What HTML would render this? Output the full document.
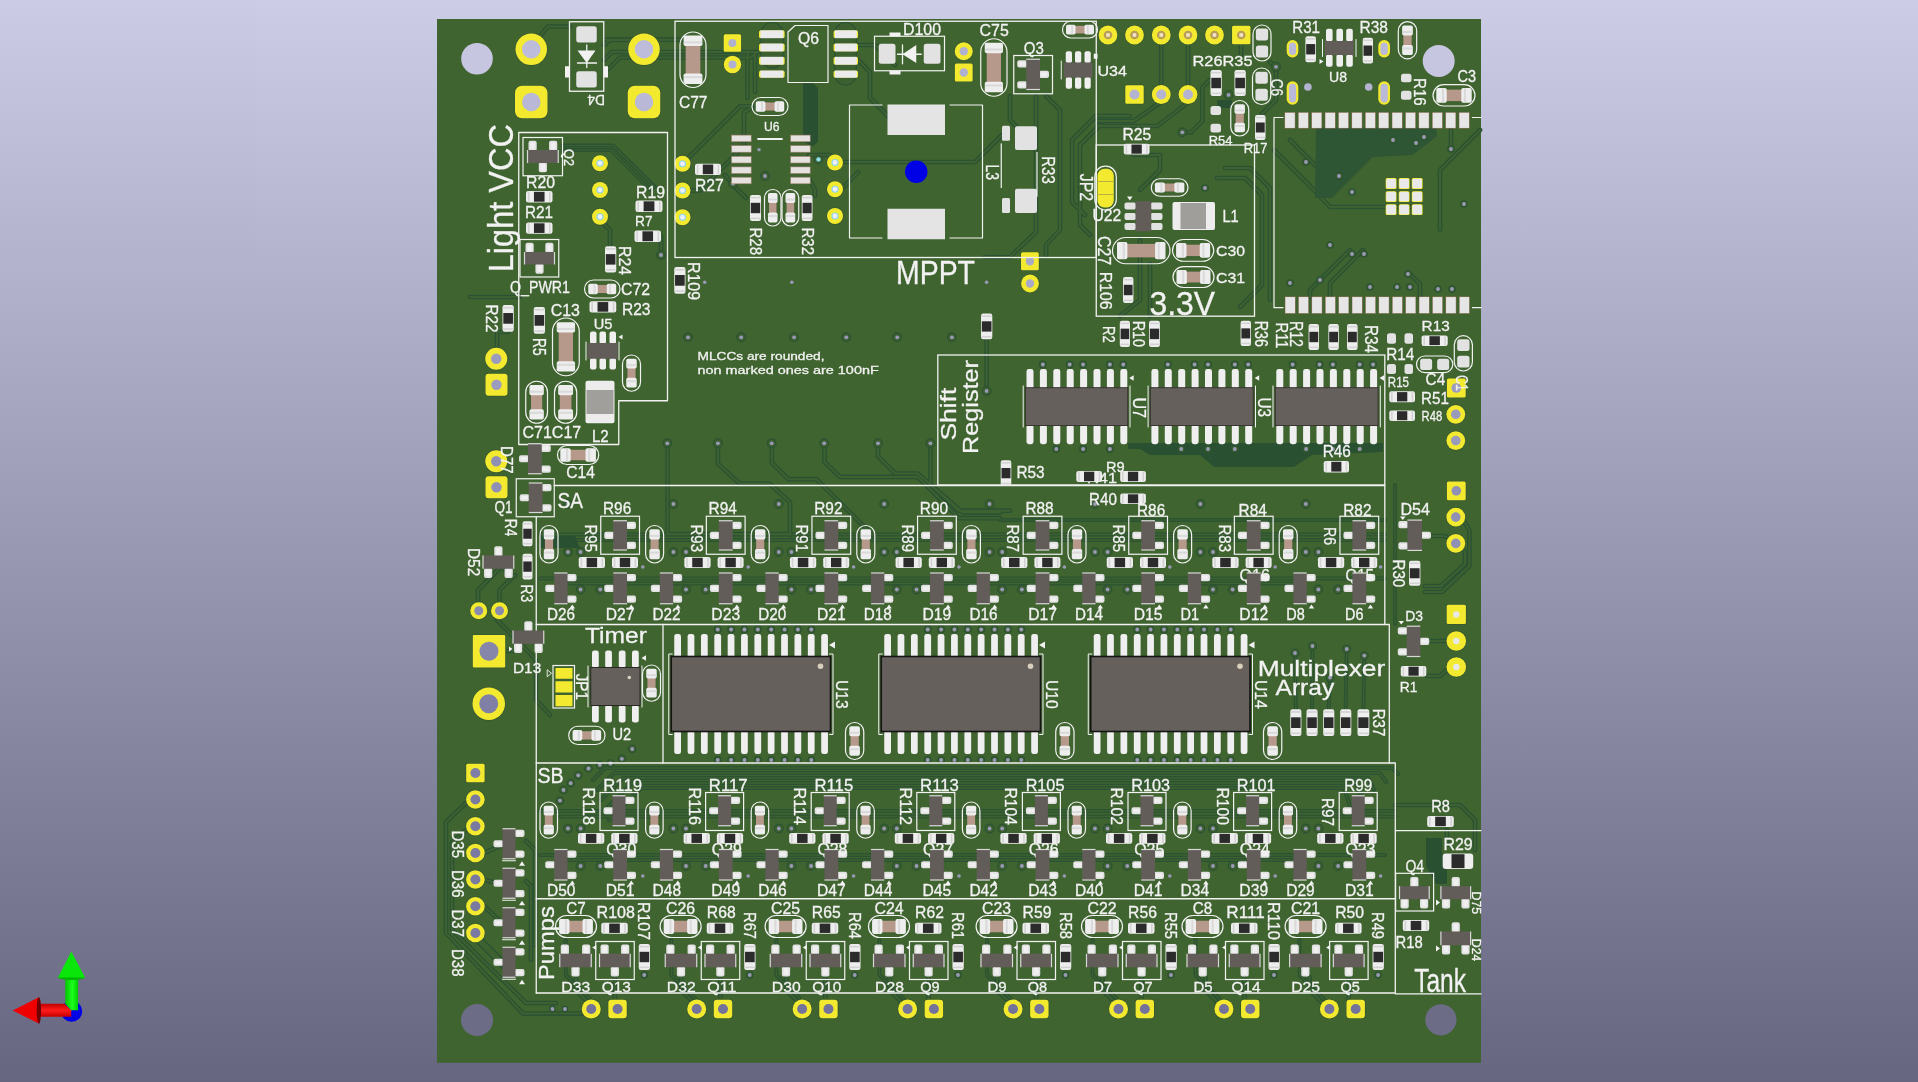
<!DOCTYPE html><html><head><meta charset="utf-8"><title>PCB 3D view</title>
<style>html,body{margin:0;padding:0;overflow:hidden;background:#9999b3}svg{display:block;will-change:transform;opacity:0.9999}text{font-family:"Liberation Sans",sans-serif;fill:#f2f2f2;stroke:#f2f2f2;stroke-width:0.3px}</style></head><body>
<svg width="1918" height="1082" viewBox="0 0 1918 1082">
<defs><linearGradient id="bg" x1="0" y1="0" x2="0" y2="1"><stop offset="0" stop-color="#ccccE6"/><stop offset="1" stop-color="#666680"/></linearGradient></defs>
<rect width="1918" height="1082" fill="url(#bg)"/>
<rect x="437" y="19" width="1044" height="1043.8" fill="#406430"/>
<g><path d="M667.6 443.7L667.6 534L790 534M717.9 443.7L717.9 463.8L739.5 483.5L769.5 483.5L790 502.3L790 535M771.9 443.7L771.9 462.8L788.3 479.2L816.4 479.2L872.7 535.1M824.5 442.8L824.5 462L839.9 476.9L917.8 476.9L959 518.2L1000 518.2M878 442.8L878 456.3L895.3 473.5L917.8 473.5L962.8 512.6L1000 512.6M930.5 442.8L930.5 484.4L959 510.7L1010 510.7M986.6 339L986.6 391M605.3 39.7L682.6 39.7M608 69.4L620 57.5L751 57.5L757 52M858 45L875 45L895 65M858 60L870 72L870 98L890 118M540 36L548 26.5L570 26.5M604 45L610 40L630 40M604 60L612 52L640 52L668 52L760 52M603 223L610 230L610 246M661 236L661 252M682.5 163.75L740 106.25L752 106.25M690 190.5L700 190.5L744 146L744 112L752 108M747.5 52.5L747.5 98M755 52.5L755 92M842 162L975 162L1002 135M842 189L858 172M725 175L735 187L746 198M810 180L815 190L815 196M809 155L830 155L836 160M1010 96L1010 120L1016 126M1036 96L1036 232L1010 257L985 257M1046 96L1060 110L1060 230L1046 245L1046 256M1072 140L1096 116M1085 215L1072 202L1072 140L1096 116L1130 116M1090 235L1080 225L1080 145L1100 125M1161.25 44L1161.25 85M1188 44L1188 85M1161 102L1133.7 121L1097 121M1188.6 102L1157.4 126L1097 126M1209.8 80L1202.3 87.4L1202.3 121L1191 132.3L1182.3 132.3M1270 62L1276 66.8L1276 100L1262 114M1241 44L1241 56M1133 155L1160 155L1160 170L1140 190M1217 178L1245 178L1262 195L1262 285L1240 307M1225 168L1250 168L1270 188L1270 300M1140 240L1140 300L1120 316M1150 264L1150 316M1274 150L1310 186L1330 207L1420 207M1290 140L1335 185M1480 130L1440 170L1440 230M1350 250L1310 290L1310 297M1363 250L1330 283L1330 297M1408 272L1420 284L1420 297M1451 149L1451 130M1464 521L1469.4 530L1469.4 566L1442 592L1425 592M1463 548L1465 553L1465 564L1441 586L1425 586M1430 536L1445 536L1455 543M1427 641L1447 641M1427 676L1440 676L1450 667M466 803L446 822L446 933L523 1013.6L582 1013.6M467 829L452 842.6L452 930L526 1003L556 1003M484 853L502 845M484 880L502 884M484 906L502 923M526 841L535 850L535 945M526 881L531 886L531 960M478 602L478 590L505 563L505 570M499.5 602L499.5 590L515 575M497 620L520 643L536 660L536 700L550 715M505 651L513 651M470 297L520 297M497 347L497 332L508 332M1395 805L1460 805L1475 820L1475 850M1447 830L1447 845M575.75 977L575.75 990L590.75 1005M614.75 977L614.75 1000M681.25 977L681.25 990L696.25 1005M720.25 977L720.25 1000M786.25 977L786.25 990L801.25 1005M825.25 977L825.25 1000M889.5 977L889.5 990L904.5 1005M928.5 977L928.5 1000M997 977L997 990L1012 1005M1036 977L1036 1000M1102.5 977L1102.5 990L1117.5 1005M1141.5 977L1141.5 1000M1205.5 977L1205.5 990L1220.5 1005M1244.5 977L1244.5 1000M1309.6 977L1309.6 990L1324.6 1005M1348.6 977L1348.6 1000" fill="none" stroke="#2b5232" stroke-width="4.7" stroke-linejoin="round" stroke-linecap="round"/><path d="M540 534.5L1385 534.5M560 540L1385 540M540 578.5L1385 578.5M560 583.5L1300 583.5M540 811L1395 811M560 816.5L1395 816.5M540 855L1385 855M560 860L1300 860M593 780L605 768L1392 768L1398 774M597 790L614 773L1380 773L1386 782M601 800L623 778L1368 778L1374 790M605 810L632 783L1356 783L1362 798M609 820L641 788L1344 788L1350 806" fill="none" stroke="#2b5232" stroke-width="4.1" stroke-linejoin="round" stroke-linecap="round"/><path d="M562.5 145.5L613 145.5L655 187M562.5 150L611 150L651 190M1000 520L1060 520L1385 520M1395 485L1395 624M1295 653L1295.8 709M1312.5 646L1312 709M1346.7 649L1345.7 709M1364.3 655.6L1363.4 709M1330 677.6L1328.7 709M565.75 940L565.75 975L590.75 1000M671.25 940L671.25 975L696.25 1000M776.25 940L776.25 975L801.25 1000M879.5 940L879.5 975L904.5 1000M987 940L987 975L1012 1000M1092.5 940L1092.5 975L1117.5 1000M1195.5 940L1195.5 975L1220.5 1000M1299.6 940L1299.6 975L1324.6 1000" fill="none" stroke="#2b5232" stroke-width="3.9" stroke-linejoin="round" stroke-linecap="round"/><path d="M475 936L508 969" fill="none" stroke="#2b5232" stroke-width="8.5" stroke-linejoin="round" stroke-linecap="round"/><path d="M667.6 443.7L667.6 534L790 534M717.9 443.7L717.9 463.8L739.5 483.5L769.5 483.5L790 502.3L790 535M771.9 443.7L771.9 462.8L788.3 479.2L816.4 479.2L872.7 535.1M824.5 442.8L824.5 462L839.9 476.9L917.8 476.9L959 518.2L1000 518.2M878 442.8L878 456.3L895.3 473.5L917.8 473.5L962.8 512.6L1000 512.6M930.5 442.8L930.5 484.4L959 510.7L1010 510.7M986.6 339L986.6 391M605.3 39.7L682.6 39.7M608 69.4L620 57.5L751 57.5L757 52M858 45L875 45L895 65M858 60L870 72L870 98L890 118M540 36L548 26.5L570 26.5M604 45L610 40L630 40M604 60L612 52L640 52L668 52L760 52M603 223L610 230L610 246M661 236L661 252M682.5 163.75L740 106.25L752 106.25M690 190.5L700 190.5L744 146L744 112L752 108M747.5 52.5L747.5 98M755 52.5L755 92M842 162L975 162L1002 135M842 189L858 172M725 175L735 187L746 198M810 180L815 190L815 196M809 155L830 155L836 160M1010 96L1010 120L1016 126M1036 96L1036 232L1010 257L985 257M1046 96L1060 110L1060 230L1046 245L1046 256M1072 140L1096 116M1085 215L1072 202L1072 140L1096 116L1130 116M1090 235L1080 225L1080 145L1100 125M1161.25 44L1161.25 85M1188 44L1188 85M1161 102L1133.7 121L1097 121M1188.6 102L1157.4 126L1097 126M1209.8 80L1202.3 87.4L1202.3 121L1191 132.3L1182.3 132.3M1270 62L1276 66.8L1276 100L1262 114M1241 44L1241 56M1133 155L1160 155L1160 170L1140 190M1217 178L1245 178L1262 195L1262 285L1240 307M1225 168L1250 168L1270 188L1270 300M1140 240L1140 300L1120 316M1150 264L1150 316M1274 150L1310 186L1330 207L1420 207M1290 140L1335 185M1480 130L1440 170L1440 230M1350 250L1310 290L1310 297M1363 250L1330 283L1330 297M1408 272L1420 284L1420 297M1451 149L1451 130M1464 521L1469.4 530L1469.4 566L1442 592L1425 592M1463 548L1465 553L1465 564L1441 586L1425 586M1430 536L1445 536L1455 543M1427 641L1447 641M1427 676L1440 676L1450 667M466 803L446 822L446 933L523 1013.6L582 1013.6M467 829L452 842.6L452 930L526 1003L556 1003M484 853L502 845M484 880L502 884M484 906L502 923M526 841L535 850L535 945M526 881L531 886L531 960M478 602L478 590L505 563L505 570M499.5 602L499.5 590L515 575M497 620L520 643L536 660L536 700L550 715M505 651L513 651M470 297L520 297M497 347L497 332L508 332M1395 805L1460 805L1475 820L1475 850M1447 830L1447 845M575.75 977L575.75 990L590.75 1005M614.75 977L614.75 1000M681.25 977L681.25 990L696.25 1005M720.25 977L720.25 1000M786.25 977L786.25 990L801.25 1005M825.25 977L825.25 1000M889.5 977L889.5 990L904.5 1005M928.5 977L928.5 1000M997 977L997 990L1012 1005M1036 977L1036 1000M1102.5 977L1102.5 990L1117.5 1005M1141.5 977L1141.5 1000M1205.5 977L1205.5 990L1220.5 1005M1244.5 977L1244.5 1000M1309.6 977L1309.6 990L1324.6 1005M1348.6 977L1348.6 1000" fill="none" stroke="#3d6130" stroke-width="2" stroke-linejoin="round" stroke-linecap="round"/><path d="M540 534.5L1385 534.5M560 540L1385 540M540 578.5L1385 578.5M560 583.5L1300 583.5M540 811L1395 811M560 816.5L1395 816.5M540 855L1385 855M560 860L1300 860M593 780L605 768L1392 768L1398 774M597 790L614 773L1380 773L1386 782M601 800L623 778L1368 778L1374 790M605 810L632 783L1356 783L1362 798M609 820L641 788L1344 788L1350 806" fill="none" stroke="#3d6130" stroke-width="1.4" stroke-linejoin="round" stroke-linecap="round"/><path d="M562.5 145.5L613 145.5L655 187M562.5 150L611 150L651 190M1000 520L1060 520L1385 520M1395 485L1395 624M1295 653L1295.8 709M1312.5 646L1312 709M1346.7 649L1345.7 709M1364.3 655.6L1363.4 709M1330 677.6L1328.7 709M565.75 940L565.75 975L590.75 1000M671.25 940L671.25 975L696.25 1000M776.25 940L776.25 975L801.25 1000M879.5 940L879.5 975L904.5 1000M987 940L987 975L1012 1000M1092.5 940L1092.5 975L1117.5 1000M1195.5 940L1195.5 975L1220.5 1000M1299.6 940L1299.6 975L1324.6 1000" fill="none" stroke="#3d6130" stroke-width="1.2" stroke-linejoin="round" stroke-linecap="round"/><path d="M475 936L508 969" fill="none" stroke="#3d6130" stroke-width="5.8" stroke-linejoin="round" stroke-linecap="round"/><polygon points="803,83.2 813,83.2 818,88.2 818,141.4 813,146.4 803,141.4" fill="#2a5032"/><polygon points="1128,443 1383,443 1383,452 1312,455 1294,467 1214,467 1200,455 1150,455 1140,449 1128,449" fill="#2a5032"/><polygon points="1316,128 1436,128 1437,136 1413,155 1373,157 1332,198 1315,198 1316,128" fill="#2e5634"/><polygon points="1217,100 1232,100 1232,108 1217,108" fill="#2a5032"/><polygon points="540,536 575,536 580,548 540,548" fill="#2a5032"/><polygon points="1426,838 1442,838 1442,852 1447,870 1447,884 1436,884 1426,866" fill="#2a5032"/><circle cx="667.3" cy="443.3" r="4.4" fill="#3b5f30" stroke="#2b5232" stroke-width="1.1"/><circle cx="667.3" cy="443.3" r="1.9" fill="#9a9ab8"/><circle cx="717.9" cy="443.3" r="4.4" fill="#3b5f30" stroke="#2b5232" stroke-width="1.1"/><circle cx="717.9" cy="443.3" r="1.9" fill="#9a9ab8"/><circle cx="771.7" cy="443.3" r="4.4" fill="#3b5f30" stroke="#2b5232" stroke-width="1.1"/><circle cx="771.7" cy="443.3" r="1.9" fill="#9a9ab8"/><circle cx="824.2" cy="443.3" r="4.4" fill="#3b5f30" stroke="#2b5232" stroke-width="1.1"/><circle cx="824.2" cy="443.3" r="1.9" fill="#9a9ab8"/><circle cx="878" cy="443.3" r="4.4" fill="#3b5f30" stroke="#2b5232" stroke-width="1.1"/><circle cx="878" cy="443.3" r="1.9" fill="#9a9ab8"/><circle cx="930.4" cy="443.3" r="4.4" fill="#3b5f30" stroke="#2b5232" stroke-width="1.1"/><circle cx="930.4" cy="443.3" r="1.9" fill="#9a9ab8"/><circle cx="688" cy="337.3" r="4.4" fill="#3b5f30" stroke="#2b5232" stroke-width="1.1"/><circle cx="688" cy="337.3" r="1.9" fill="#9a9ab8"/><circle cx="741.2" cy="337.3" r="4.4" fill="#3b5f30" stroke="#2b5232" stroke-width="1.1"/><circle cx="741.2" cy="337.3" r="1.9" fill="#9a9ab8"/><circle cx="794.1" cy="337.3" r="4.4" fill="#3b5f30" stroke="#2b5232" stroke-width="1.1"/><circle cx="794.1" cy="337.3" r="1.9" fill="#9a9ab8"/><circle cx="846.3" cy="337.3" r="4.4" fill="#3b5f30" stroke="#2b5232" stroke-width="1.1"/><circle cx="846.3" cy="337.3" r="1.9" fill="#9a9ab8"/><circle cx="897.2" cy="337.3" r="4.4" fill="#3b5f30" stroke="#2b5232" stroke-width="1.1"/><circle cx="897.2" cy="337.3" r="1.9" fill="#9a9ab8"/><circle cx="951.9" cy="337.3" r="4.4" fill="#3b5f30" stroke="#2b5232" stroke-width="1.1"/><circle cx="951.9" cy="337.3" r="1.9" fill="#9a9ab8"/><circle cx="704.7" cy="282.3" r="1.8" fill="#9a9ab8"/><circle cx="791.8" cy="282.3" r="1.8" fill="#9a9ab8"/><circle cx="899.5" cy="282.3" r="1.8" fill="#9a9ab8"/><circle cx="986.6" cy="282.3" r="1.8" fill="#9a9ab8"/><circle cx="986.6" cy="391" r="4.4" fill="#3b5f30" stroke="#2b5232" stroke-width="1.1"/><circle cx="986.6" cy="391" r="1.9" fill="#9a9ab8"/><circle cx="568" cy="504" r="4.4" fill="#3b5f30" stroke="#2b5232" stroke-width="1.1"/><circle cx="568" cy="504" r="1.9" fill="#9a9ab8"/><circle cx="568" cy="552" r="4.4" fill="#3b5f30" stroke="#2b5232" stroke-width="1.1"/><circle cx="568" cy="552" r="1.9" fill="#9a9ab8"/><circle cx="580.6" cy="552" r="4.4" fill="#3b5f30" stroke="#2b5232" stroke-width="1.1"/><circle cx="580.6" cy="552" r="1.9" fill="#9a9ab8"/><circle cx="580.6" cy="589.5" r="4.4" fill="#3b5f30" stroke="#2b5232" stroke-width="1.1"/><circle cx="580.6" cy="589.5" r="1.9" fill="#9a9ab8"/><circle cx="600.3" cy="589.5" r="4.4" fill="#3b5f30" stroke="#2b5232" stroke-width="1.1"/><circle cx="600.3" cy="589.5" r="1.9" fill="#9a9ab8"/><circle cx="642.8" cy="567" r="1.8" fill="#9a9ab8"/><circle cx="568" cy="828.5" r="4.4" fill="#3b5f30" stroke="#2b5232" stroke-width="1.1"/><circle cx="568" cy="828.5" r="1.9" fill="#9a9ab8"/><circle cx="580.6" cy="828.5" r="4.4" fill="#3b5f30" stroke="#2b5232" stroke-width="1.1"/><circle cx="580.6" cy="828.5" r="1.9" fill="#9a9ab8"/><circle cx="580.6" cy="866" r="4.4" fill="#3b5f30" stroke="#2b5232" stroke-width="1.1"/><circle cx="580.6" cy="866" r="1.9" fill="#9a9ab8"/><circle cx="600.3" cy="866" r="4.4" fill="#3b5f30" stroke="#2b5232" stroke-width="1.1"/><circle cx="600.3" cy="866" r="1.9" fill="#9a9ab8"/><circle cx="642.8" cy="876" r="1.8" fill="#9a9ab8"/><circle cx="673.4" cy="504" r="4.4" fill="#3b5f30" stroke="#2b5232" stroke-width="1.1"/><circle cx="673.4" cy="504" r="1.9" fill="#9a9ab8"/><circle cx="673.4" cy="552" r="4.4" fill="#3b5f30" stroke="#2b5232" stroke-width="1.1"/><circle cx="673.4" cy="552" r="1.9" fill="#9a9ab8"/><circle cx="686" cy="552" r="4.4" fill="#3b5f30" stroke="#2b5232" stroke-width="1.1"/><circle cx="686" cy="552" r="1.9" fill="#9a9ab8"/><circle cx="686" cy="589.5" r="4.4" fill="#3b5f30" stroke="#2b5232" stroke-width="1.1"/><circle cx="686" cy="589.5" r="1.9" fill="#9a9ab8"/><circle cx="705.7" cy="589.5" r="4.4" fill="#3b5f30" stroke="#2b5232" stroke-width="1.1"/><circle cx="705.7" cy="589.5" r="1.9" fill="#9a9ab8"/><circle cx="748.2" cy="567" r="1.8" fill="#9a9ab8"/><circle cx="673.4" cy="828.5" r="4.4" fill="#3b5f30" stroke="#2b5232" stroke-width="1.1"/><circle cx="673.4" cy="828.5" r="1.9" fill="#9a9ab8"/><circle cx="686" cy="828.5" r="4.4" fill="#3b5f30" stroke="#2b5232" stroke-width="1.1"/><circle cx="686" cy="828.5" r="1.9" fill="#9a9ab8"/><circle cx="686" cy="866" r="4.4" fill="#3b5f30" stroke="#2b5232" stroke-width="1.1"/><circle cx="686" cy="866" r="1.9" fill="#9a9ab8"/><circle cx="705.7" cy="866" r="4.4" fill="#3b5f30" stroke="#2b5232" stroke-width="1.1"/><circle cx="705.7" cy="866" r="1.9" fill="#9a9ab8"/><circle cx="748.2" cy="876" r="1.8" fill="#9a9ab8"/><circle cx="778.8" cy="504" r="4.4" fill="#3b5f30" stroke="#2b5232" stroke-width="1.1"/><circle cx="778.8" cy="504" r="1.9" fill="#9a9ab8"/><circle cx="778.8" cy="552" r="4.4" fill="#3b5f30" stroke="#2b5232" stroke-width="1.1"/><circle cx="778.8" cy="552" r="1.9" fill="#9a9ab8"/><circle cx="791.4" cy="552" r="4.4" fill="#3b5f30" stroke="#2b5232" stroke-width="1.1"/><circle cx="791.4" cy="552" r="1.9" fill="#9a9ab8"/><circle cx="791.4" cy="589.5" r="4.4" fill="#3b5f30" stroke="#2b5232" stroke-width="1.1"/><circle cx="791.4" cy="589.5" r="1.9" fill="#9a9ab8"/><circle cx="811.1" cy="589.5" r="4.4" fill="#3b5f30" stroke="#2b5232" stroke-width="1.1"/><circle cx="811.1" cy="589.5" r="1.9" fill="#9a9ab8"/><circle cx="853.6" cy="567" r="1.8" fill="#9a9ab8"/><circle cx="778.8" cy="828.5" r="4.4" fill="#3b5f30" stroke="#2b5232" stroke-width="1.1"/><circle cx="778.8" cy="828.5" r="1.9" fill="#9a9ab8"/><circle cx="791.4" cy="828.5" r="4.4" fill="#3b5f30" stroke="#2b5232" stroke-width="1.1"/><circle cx="791.4" cy="828.5" r="1.9" fill="#9a9ab8"/><circle cx="791.4" cy="866" r="4.4" fill="#3b5f30" stroke="#2b5232" stroke-width="1.1"/><circle cx="791.4" cy="866" r="1.9" fill="#9a9ab8"/><circle cx="811.1" cy="866" r="4.4" fill="#3b5f30" stroke="#2b5232" stroke-width="1.1"/><circle cx="811.1" cy="866" r="1.9" fill="#9a9ab8"/><circle cx="853.6" cy="876" r="1.8" fill="#9a9ab8"/><circle cx="884.2" cy="504" r="4.4" fill="#3b5f30" stroke="#2b5232" stroke-width="1.1"/><circle cx="884.2" cy="504" r="1.9" fill="#9a9ab8"/><circle cx="884.2" cy="552" r="4.4" fill="#3b5f30" stroke="#2b5232" stroke-width="1.1"/><circle cx="884.2" cy="552" r="1.9" fill="#9a9ab8"/><circle cx="896.8" cy="552" r="4.4" fill="#3b5f30" stroke="#2b5232" stroke-width="1.1"/><circle cx="896.8" cy="552" r="1.9" fill="#9a9ab8"/><circle cx="896.8" cy="589.5" r="4.4" fill="#3b5f30" stroke="#2b5232" stroke-width="1.1"/><circle cx="896.8" cy="589.5" r="1.9" fill="#9a9ab8"/><circle cx="916.5" cy="589.5" r="4.4" fill="#3b5f30" stroke="#2b5232" stroke-width="1.1"/><circle cx="916.5" cy="589.5" r="1.9" fill="#9a9ab8"/><circle cx="959" cy="567" r="1.8" fill="#9a9ab8"/><circle cx="884.2" cy="828.5" r="4.4" fill="#3b5f30" stroke="#2b5232" stroke-width="1.1"/><circle cx="884.2" cy="828.5" r="1.9" fill="#9a9ab8"/><circle cx="896.8" cy="828.5" r="4.4" fill="#3b5f30" stroke="#2b5232" stroke-width="1.1"/><circle cx="896.8" cy="828.5" r="1.9" fill="#9a9ab8"/><circle cx="896.8" cy="866" r="4.4" fill="#3b5f30" stroke="#2b5232" stroke-width="1.1"/><circle cx="896.8" cy="866" r="1.9" fill="#9a9ab8"/><circle cx="916.5" cy="866" r="4.4" fill="#3b5f30" stroke="#2b5232" stroke-width="1.1"/><circle cx="916.5" cy="866" r="1.9" fill="#9a9ab8"/><circle cx="959" cy="876" r="1.8" fill="#9a9ab8"/><circle cx="989.6" cy="504" r="4.4" fill="#3b5f30" stroke="#2b5232" stroke-width="1.1"/><circle cx="989.6" cy="504" r="1.9" fill="#9a9ab8"/><circle cx="989.6" cy="552" r="4.4" fill="#3b5f30" stroke="#2b5232" stroke-width="1.1"/><circle cx="989.6" cy="552" r="1.9" fill="#9a9ab8"/><circle cx="1002.2" cy="552" r="4.4" fill="#3b5f30" stroke="#2b5232" stroke-width="1.1"/><circle cx="1002.2" cy="552" r="1.9" fill="#9a9ab8"/><circle cx="1002.2" cy="589.5" r="4.4" fill="#3b5f30" stroke="#2b5232" stroke-width="1.1"/><circle cx="1002.2" cy="589.5" r="1.9" fill="#9a9ab8"/><circle cx="1021.9" cy="589.5" r="4.4" fill="#3b5f30" stroke="#2b5232" stroke-width="1.1"/><circle cx="1021.9" cy="589.5" r="1.9" fill="#9a9ab8"/><circle cx="1064.4" cy="567" r="1.8" fill="#9a9ab8"/><circle cx="989.6" cy="828.5" r="4.4" fill="#3b5f30" stroke="#2b5232" stroke-width="1.1"/><circle cx="989.6" cy="828.5" r="1.9" fill="#9a9ab8"/><circle cx="1002.2" cy="828.5" r="4.4" fill="#3b5f30" stroke="#2b5232" stroke-width="1.1"/><circle cx="1002.2" cy="828.5" r="1.9" fill="#9a9ab8"/><circle cx="1002.2" cy="866" r="4.4" fill="#3b5f30" stroke="#2b5232" stroke-width="1.1"/><circle cx="1002.2" cy="866" r="1.9" fill="#9a9ab8"/><circle cx="1021.9" cy="866" r="4.4" fill="#3b5f30" stroke="#2b5232" stroke-width="1.1"/><circle cx="1021.9" cy="866" r="1.9" fill="#9a9ab8"/><circle cx="1064.4" cy="876" r="1.8" fill="#9a9ab8"/><circle cx="1095" cy="504" r="4.4" fill="#3b5f30" stroke="#2b5232" stroke-width="1.1"/><circle cx="1095" cy="504" r="1.9" fill="#9a9ab8"/><circle cx="1095" cy="552" r="4.4" fill="#3b5f30" stroke="#2b5232" stroke-width="1.1"/><circle cx="1095" cy="552" r="1.9" fill="#9a9ab8"/><circle cx="1107.6" cy="552" r="4.4" fill="#3b5f30" stroke="#2b5232" stroke-width="1.1"/><circle cx="1107.6" cy="552" r="1.9" fill="#9a9ab8"/><circle cx="1107.6" cy="589.5" r="4.4" fill="#3b5f30" stroke="#2b5232" stroke-width="1.1"/><circle cx="1107.6" cy="589.5" r="1.9" fill="#9a9ab8"/><circle cx="1127.3" cy="589.5" r="4.4" fill="#3b5f30" stroke="#2b5232" stroke-width="1.1"/><circle cx="1127.3" cy="589.5" r="1.9" fill="#9a9ab8"/><circle cx="1169.8" cy="567" r="1.8" fill="#9a9ab8"/><circle cx="1095" cy="828.5" r="4.4" fill="#3b5f30" stroke="#2b5232" stroke-width="1.1"/><circle cx="1095" cy="828.5" r="1.9" fill="#9a9ab8"/><circle cx="1107.6" cy="828.5" r="4.4" fill="#3b5f30" stroke="#2b5232" stroke-width="1.1"/><circle cx="1107.6" cy="828.5" r="1.9" fill="#9a9ab8"/><circle cx="1107.6" cy="866" r="4.4" fill="#3b5f30" stroke="#2b5232" stroke-width="1.1"/><circle cx="1107.6" cy="866" r="1.9" fill="#9a9ab8"/><circle cx="1127.3" cy="866" r="4.4" fill="#3b5f30" stroke="#2b5232" stroke-width="1.1"/><circle cx="1127.3" cy="866" r="1.9" fill="#9a9ab8"/><circle cx="1169.8" cy="876" r="1.8" fill="#9a9ab8"/><circle cx="1200.4" cy="504" r="4.4" fill="#3b5f30" stroke="#2b5232" stroke-width="1.1"/><circle cx="1200.4" cy="504" r="1.9" fill="#9a9ab8"/><circle cx="1200.4" cy="552" r="4.4" fill="#3b5f30" stroke="#2b5232" stroke-width="1.1"/><circle cx="1200.4" cy="552" r="1.9" fill="#9a9ab8"/><circle cx="1213" cy="552" r="4.4" fill="#3b5f30" stroke="#2b5232" stroke-width="1.1"/><circle cx="1213" cy="552" r="1.9" fill="#9a9ab8"/><circle cx="1213" cy="589.5" r="4.4" fill="#3b5f30" stroke="#2b5232" stroke-width="1.1"/><circle cx="1213" cy="589.5" r="1.9" fill="#9a9ab8"/><circle cx="1232.7" cy="589.5" r="4.4" fill="#3b5f30" stroke="#2b5232" stroke-width="1.1"/><circle cx="1232.7" cy="589.5" r="1.9" fill="#9a9ab8"/><circle cx="1275.2" cy="567" r="1.8" fill="#9a9ab8"/><circle cx="1200.4" cy="828.5" r="4.4" fill="#3b5f30" stroke="#2b5232" stroke-width="1.1"/><circle cx="1200.4" cy="828.5" r="1.9" fill="#9a9ab8"/><circle cx="1213" cy="828.5" r="4.4" fill="#3b5f30" stroke="#2b5232" stroke-width="1.1"/><circle cx="1213" cy="828.5" r="1.9" fill="#9a9ab8"/><circle cx="1213" cy="866" r="4.4" fill="#3b5f30" stroke="#2b5232" stroke-width="1.1"/><circle cx="1213" cy="866" r="1.9" fill="#9a9ab8"/><circle cx="1232.7" cy="866" r="4.4" fill="#3b5f30" stroke="#2b5232" stroke-width="1.1"/><circle cx="1232.7" cy="866" r="1.9" fill="#9a9ab8"/><circle cx="1275.2" cy="876" r="1.8" fill="#9a9ab8"/><circle cx="1305.8" cy="504" r="4.4" fill="#3b5f30" stroke="#2b5232" stroke-width="1.1"/><circle cx="1305.8" cy="504" r="1.9" fill="#9a9ab8"/><circle cx="1305.8" cy="552" r="4.4" fill="#3b5f30" stroke="#2b5232" stroke-width="1.1"/><circle cx="1305.8" cy="552" r="1.9" fill="#9a9ab8"/><circle cx="1318.4" cy="552" r="4.4" fill="#3b5f30" stroke="#2b5232" stroke-width="1.1"/><circle cx="1318.4" cy="552" r="1.9" fill="#9a9ab8"/><circle cx="1318.4" cy="589.5" r="4.4" fill="#3b5f30" stroke="#2b5232" stroke-width="1.1"/><circle cx="1318.4" cy="589.5" r="1.9" fill="#9a9ab8"/><circle cx="1338.1" cy="589.5" r="4.4" fill="#3b5f30" stroke="#2b5232" stroke-width="1.1"/><circle cx="1338.1" cy="589.5" r="1.9" fill="#9a9ab8"/><circle cx="1380.6" cy="567" r="1.8" fill="#9a9ab8"/><circle cx="1305.8" cy="828.5" r="4.4" fill="#3b5f30" stroke="#2b5232" stroke-width="1.1"/><circle cx="1305.8" cy="828.5" r="1.9" fill="#9a9ab8"/><circle cx="1318.4" cy="828.5" r="4.4" fill="#3b5f30" stroke="#2b5232" stroke-width="1.1"/><circle cx="1318.4" cy="828.5" r="1.9" fill="#9a9ab8"/><circle cx="1318.4" cy="866" r="4.4" fill="#3b5f30" stroke="#2b5232" stroke-width="1.1"/><circle cx="1318.4" cy="866" r="1.9" fill="#9a9ab8"/><circle cx="1338.1" cy="866" r="4.4" fill="#3b5f30" stroke="#2b5232" stroke-width="1.1"/><circle cx="1338.1" cy="866" r="1.9" fill="#9a9ab8"/><circle cx="1380.6" cy="876" r="1.8" fill="#9a9ab8"/><circle cx="632.2" cy="749" r="3.8" fill="#3b5f30" stroke="#2b5232" stroke-width="1.1"/><circle cx="632.2" cy="749" r="1.9" fill="#9a9ab8"/><circle cx="621.9" cy="758.8" r="3.8" fill="#3b5f30" stroke="#2b5232" stroke-width="1.1"/><circle cx="621.9" cy="758.8" r="1.9" fill="#9a9ab8"/><circle cx="610.5" cy="763.5" r="3.8" fill="#3b5f30" stroke="#2b5232" stroke-width="1.1"/><circle cx="610.5" cy="763.5" r="1.9" fill="#9a9ab8"/><circle cx="599.8" cy="764.8" r="3.8" fill="#3b5f30" stroke="#2b5232" stroke-width="1.1"/><circle cx="599.8" cy="764.8" r="1.9" fill="#9a9ab8"/><circle cx="588.5" cy="768.5" r="3.8" fill="#3b5f30" stroke="#2b5232" stroke-width="1.1"/><circle cx="588.5" cy="768.5" r="1.9" fill="#9a9ab8"/><circle cx="578.2" cy="775.3" r="3.8" fill="#3b5f30" stroke="#2b5232" stroke-width="1.1"/><circle cx="578.2" cy="775.3" r="1.9" fill="#9a9ab8"/><circle cx="570.7" cy="783.2" r="3.8" fill="#3b5f30" stroke="#2b5232" stroke-width="1.1"/><circle cx="570.7" cy="783.2" r="1.9" fill="#9a9ab8"/><circle cx="563.5" cy="790" r="3.8" fill="#3b5f30" stroke="#2b5232" stroke-width="1.1"/><circle cx="563.5" cy="790" r="1.9" fill="#9a9ab8"/><circle cx="560" cy="800.6" r="3.8" fill="#3b5f30" stroke="#2b5232" stroke-width="1.1"/><circle cx="560" cy="800.6" r="1.9" fill="#9a9ab8"/><circle cx="717.75" cy="629.5" r="3.4" fill="#3b5f30" stroke="#2b5232" stroke-width="1.1"/><circle cx="717.75" cy="629.5" r="1.9" fill="#9a9ab8"/><circle cx="717.75" cy="760" r="3.4" fill="#3b5f30" stroke="#2b5232" stroke-width="1.1"/><circle cx="717.75" cy="760" r="1.9" fill="#9a9ab8"/><circle cx="731.11" cy="629.5" r="3.4" fill="#3b5f30" stroke="#2b5232" stroke-width="1.1"/><circle cx="731.11" cy="629.5" r="1.9" fill="#9a9ab8"/><circle cx="731.11" cy="760" r="3.4" fill="#3b5f30" stroke="#2b5232" stroke-width="1.1"/><circle cx="731.11" cy="760" r="1.9" fill="#9a9ab8"/><circle cx="744.47" cy="629.5" r="3.4" fill="#3b5f30" stroke="#2b5232" stroke-width="1.1"/><circle cx="744.47" cy="629.5" r="1.9" fill="#9a9ab8"/><circle cx="744.47" cy="760" r="3.4" fill="#3b5f30" stroke="#2b5232" stroke-width="1.1"/><circle cx="744.47" cy="760" r="1.9" fill="#9a9ab8"/><circle cx="757.83" cy="629.5" r="3.4" fill="#3b5f30" stroke="#2b5232" stroke-width="1.1"/><circle cx="757.83" cy="629.5" r="1.9" fill="#9a9ab8"/><circle cx="757.83" cy="760" r="3.4" fill="#3b5f30" stroke="#2b5232" stroke-width="1.1"/><circle cx="757.83" cy="760" r="1.9" fill="#9a9ab8"/><circle cx="771.19" cy="629.5" r="3.4" fill="#3b5f30" stroke="#2b5232" stroke-width="1.1"/><circle cx="771.19" cy="629.5" r="1.9" fill="#9a9ab8"/><circle cx="771.19" cy="760" r="3.4" fill="#3b5f30" stroke="#2b5232" stroke-width="1.1"/><circle cx="771.19" cy="760" r="1.9" fill="#9a9ab8"/><circle cx="784.55" cy="629.5" r="3.4" fill="#3b5f30" stroke="#2b5232" stroke-width="1.1"/><circle cx="784.55" cy="629.5" r="1.9" fill="#9a9ab8"/><circle cx="784.55" cy="760" r="3.4" fill="#3b5f30" stroke="#2b5232" stroke-width="1.1"/><circle cx="784.55" cy="760" r="1.9" fill="#9a9ab8"/><circle cx="797.91" cy="629.5" r="3.4" fill="#3b5f30" stroke="#2b5232" stroke-width="1.1"/><circle cx="797.91" cy="629.5" r="1.9" fill="#9a9ab8"/><circle cx="797.91" cy="760" r="3.4" fill="#3b5f30" stroke="#2b5232" stroke-width="1.1"/><circle cx="797.91" cy="760" r="1.9" fill="#9a9ab8"/><circle cx="811.27" cy="629.5" r="3.4" fill="#3b5f30" stroke="#2b5232" stroke-width="1.1"/><circle cx="811.27" cy="629.5" r="1.9" fill="#9a9ab8"/><circle cx="811.27" cy="760" r="3.4" fill="#3b5f30" stroke="#2b5232" stroke-width="1.1"/><circle cx="811.27" cy="760" r="1.9" fill="#9a9ab8"/><circle cx="927.75" cy="629.5" r="3.4" fill="#3b5f30" stroke="#2b5232" stroke-width="1.1"/><circle cx="927.75" cy="629.5" r="1.9" fill="#9a9ab8"/><circle cx="927.75" cy="760" r="3.4" fill="#3b5f30" stroke="#2b5232" stroke-width="1.1"/><circle cx="927.75" cy="760" r="1.9" fill="#9a9ab8"/><circle cx="941.11" cy="629.5" r="3.4" fill="#3b5f30" stroke="#2b5232" stroke-width="1.1"/><circle cx="941.11" cy="629.5" r="1.9" fill="#9a9ab8"/><circle cx="941.11" cy="760" r="3.4" fill="#3b5f30" stroke="#2b5232" stroke-width="1.1"/><circle cx="941.11" cy="760" r="1.9" fill="#9a9ab8"/><circle cx="954.47" cy="629.5" r="3.4" fill="#3b5f30" stroke="#2b5232" stroke-width="1.1"/><circle cx="954.47" cy="629.5" r="1.9" fill="#9a9ab8"/><circle cx="954.47" cy="760" r="3.4" fill="#3b5f30" stroke="#2b5232" stroke-width="1.1"/><circle cx="954.47" cy="760" r="1.9" fill="#9a9ab8"/><circle cx="967.83" cy="629.5" r="3.4" fill="#3b5f30" stroke="#2b5232" stroke-width="1.1"/><circle cx="967.83" cy="629.5" r="1.9" fill="#9a9ab8"/><circle cx="967.83" cy="760" r="3.4" fill="#3b5f30" stroke="#2b5232" stroke-width="1.1"/><circle cx="967.83" cy="760" r="1.9" fill="#9a9ab8"/><circle cx="981.19" cy="629.5" r="3.4" fill="#3b5f30" stroke="#2b5232" stroke-width="1.1"/><circle cx="981.19" cy="629.5" r="1.9" fill="#9a9ab8"/><circle cx="981.19" cy="760" r="3.4" fill="#3b5f30" stroke="#2b5232" stroke-width="1.1"/><circle cx="981.19" cy="760" r="1.9" fill="#9a9ab8"/><circle cx="994.55" cy="629.5" r="3.4" fill="#3b5f30" stroke="#2b5232" stroke-width="1.1"/><circle cx="994.55" cy="629.5" r="1.9" fill="#9a9ab8"/><circle cx="994.55" cy="760" r="3.4" fill="#3b5f30" stroke="#2b5232" stroke-width="1.1"/><circle cx="994.55" cy="760" r="1.9" fill="#9a9ab8"/><circle cx="1007.91" cy="629.5" r="3.4" fill="#3b5f30" stroke="#2b5232" stroke-width="1.1"/><circle cx="1007.91" cy="629.5" r="1.9" fill="#9a9ab8"/><circle cx="1007.91" cy="760" r="3.4" fill="#3b5f30" stroke="#2b5232" stroke-width="1.1"/><circle cx="1007.91" cy="760" r="1.9" fill="#9a9ab8"/><circle cx="1021.27" cy="629.5" r="3.4" fill="#3b5f30" stroke="#2b5232" stroke-width="1.1"/><circle cx="1021.27" cy="629.5" r="1.9" fill="#9a9ab8"/><circle cx="1021.27" cy="760" r="3.4" fill="#3b5f30" stroke="#2b5232" stroke-width="1.1"/><circle cx="1021.27" cy="760" r="1.9" fill="#9a9ab8"/><circle cx="1137.25" cy="629.5" r="3.4" fill="#3b5f30" stroke="#2b5232" stroke-width="1.1"/><circle cx="1137.25" cy="629.5" r="1.9" fill="#9a9ab8"/><circle cx="1137.25" cy="760" r="3.4" fill="#3b5f30" stroke="#2b5232" stroke-width="1.1"/><circle cx="1137.25" cy="760" r="1.9" fill="#9a9ab8"/><circle cx="1150.61" cy="629.5" r="3.4" fill="#3b5f30" stroke="#2b5232" stroke-width="1.1"/><circle cx="1150.61" cy="629.5" r="1.9" fill="#9a9ab8"/><circle cx="1150.61" cy="760" r="3.4" fill="#3b5f30" stroke="#2b5232" stroke-width="1.1"/><circle cx="1150.61" cy="760" r="1.9" fill="#9a9ab8"/><circle cx="1163.97" cy="629.5" r="3.4" fill="#3b5f30" stroke="#2b5232" stroke-width="1.1"/><circle cx="1163.97" cy="629.5" r="1.9" fill="#9a9ab8"/><circle cx="1163.97" cy="760" r="3.4" fill="#3b5f30" stroke="#2b5232" stroke-width="1.1"/><circle cx="1163.97" cy="760" r="1.9" fill="#9a9ab8"/><circle cx="1177.33" cy="629.5" r="3.4" fill="#3b5f30" stroke="#2b5232" stroke-width="1.1"/><circle cx="1177.33" cy="629.5" r="1.9" fill="#9a9ab8"/><circle cx="1177.33" cy="760" r="3.4" fill="#3b5f30" stroke="#2b5232" stroke-width="1.1"/><circle cx="1177.33" cy="760" r="1.9" fill="#9a9ab8"/><circle cx="1190.69" cy="629.5" r="3.4" fill="#3b5f30" stroke="#2b5232" stroke-width="1.1"/><circle cx="1190.69" cy="629.5" r="1.9" fill="#9a9ab8"/><circle cx="1190.69" cy="760" r="3.4" fill="#3b5f30" stroke="#2b5232" stroke-width="1.1"/><circle cx="1190.69" cy="760" r="1.9" fill="#9a9ab8"/><circle cx="1204.05" cy="629.5" r="3.4" fill="#3b5f30" stroke="#2b5232" stroke-width="1.1"/><circle cx="1204.05" cy="629.5" r="1.9" fill="#9a9ab8"/><circle cx="1204.05" cy="760" r="3.4" fill="#3b5f30" stroke="#2b5232" stroke-width="1.1"/><circle cx="1204.05" cy="760" r="1.9" fill="#9a9ab8"/><circle cx="1217.41" cy="629.5" r="3.4" fill="#3b5f30" stroke="#2b5232" stroke-width="1.1"/><circle cx="1217.41" cy="629.5" r="1.9" fill="#9a9ab8"/><circle cx="1217.41" cy="760" r="3.4" fill="#3b5f30" stroke="#2b5232" stroke-width="1.1"/><circle cx="1217.41" cy="760" r="1.9" fill="#9a9ab8"/><circle cx="1230.77" cy="629.5" r="3.4" fill="#3b5f30" stroke="#2b5232" stroke-width="1.1"/><circle cx="1230.77" cy="629.5" r="1.9" fill="#9a9ab8"/><circle cx="1230.77" cy="760" r="3.4" fill="#3b5f30" stroke="#2b5232" stroke-width="1.1"/><circle cx="1230.77" cy="760" r="1.9" fill="#9a9ab8"/><circle cx="1042.9" cy="364.5" r="3.4" fill="#3b5f30" stroke="#2b5232" stroke-width="1.1"/><circle cx="1042.9" cy="364.5" r="1.9" fill="#9a9ab8"/><circle cx="1069.7" cy="364.5" r="3.4" fill="#3b5f30" stroke="#2b5232" stroke-width="1.1"/><circle cx="1069.7" cy="364.5" r="1.9" fill="#9a9ab8"/><circle cx="1083.1" cy="364.5" r="3.4" fill="#3b5f30" stroke="#2b5232" stroke-width="1.1"/><circle cx="1083.1" cy="364.5" r="1.9" fill="#9a9ab8"/><circle cx="1109.9" cy="364.5" r="3.4" fill="#3b5f30" stroke="#2b5232" stroke-width="1.1"/><circle cx="1109.9" cy="364.5" r="1.9" fill="#9a9ab8"/><circle cx="1123.3" cy="364.5" r="3.4" fill="#3b5f30" stroke="#2b5232" stroke-width="1.1"/><circle cx="1123.3" cy="364.5" r="1.9" fill="#9a9ab8"/><circle cx="1056.3" cy="449" r="3.4" fill="#3b5f30" stroke="#2b5232" stroke-width="1.1"/><circle cx="1056.3" cy="449" r="1.9" fill="#9a9ab8"/><circle cx="1083.1" cy="449" r="3.4" fill="#3b5f30" stroke="#2b5232" stroke-width="1.1"/><circle cx="1083.1" cy="449" r="1.9" fill="#9a9ab8"/><circle cx="1109.9" cy="449" r="3.4" fill="#3b5f30" stroke="#2b5232" stroke-width="1.1"/><circle cx="1109.9" cy="449" r="1.9" fill="#9a9ab8"/><circle cx="1167.8" cy="364.5" r="3.4" fill="#3b5f30" stroke="#2b5232" stroke-width="1.1"/><circle cx="1167.8" cy="364.5" r="1.9" fill="#9a9ab8"/><circle cx="1194.6" cy="364.5" r="3.4" fill="#3b5f30" stroke="#2b5232" stroke-width="1.1"/><circle cx="1194.6" cy="364.5" r="1.9" fill="#9a9ab8"/><circle cx="1208" cy="364.5" r="3.4" fill="#3b5f30" stroke="#2b5232" stroke-width="1.1"/><circle cx="1208" cy="364.5" r="1.9" fill="#9a9ab8"/><circle cx="1234.8" cy="364.5" r="3.4" fill="#3b5f30" stroke="#2b5232" stroke-width="1.1"/><circle cx="1234.8" cy="364.5" r="1.9" fill="#9a9ab8"/><circle cx="1248.2" cy="364.5" r="3.4" fill="#3b5f30" stroke="#2b5232" stroke-width="1.1"/><circle cx="1248.2" cy="364.5" r="1.9" fill="#9a9ab8"/><circle cx="1181.2" cy="449" r="3.4" fill="#3b5f30" stroke="#2b5232" stroke-width="1.1"/><circle cx="1181.2" cy="449" r="1.9" fill="#9a9ab8"/><circle cx="1208" cy="449" r="3.4" fill="#3b5f30" stroke="#2b5232" stroke-width="1.1"/><circle cx="1208" cy="449" r="1.9" fill="#9a9ab8"/><circle cx="1234.8" cy="449" r="3.4" fill="#3b5f30" stroke="#2b5232" stroke-width="1.1"/><circle cx="1234.8" cy="449" r="1.9" fill="#9a9ab8"/><circle cx="1292.7" cy="364.5" r="3.4" fill="#3b5f30" stroke="#2b5232" stroke-width="1.1"/><circle cx="1292.7" cy="364.5" r="1.9" fill="#9a9ab8"/><circle cx="1319.5" cy="364.5" r="3.4" fill="#3b5f30" stroke="#2b5232" stroke-width="1.1"/><circle cx="1319.5" cy="364.5" r="1.9" fill="#9a9ab8"/><circle cx="1332.9" cy="364.5" r="3.4" fill="#3b5f30" stroke="#2b5232" stroke-width="1.1"/><circle cx="1332.9" cy="364.5" r="1.9" fill="#9a9ab8"/><circle cx="1359.7" cy="364.5" r="3.4" fill="#3b5f30" stroke="#2b5232" stroke-width="1.1"/><circle cx="1359.7" cy="364.5" r="1.9" fill="#9a9ab8"/><circle cx="1373.1" cy="364.5" r="3.4" fill="#3b5f30" stroke="#2b5232" stroke-width="1.1"/><circle cx="1373.1" cy="364.5" r="1.9" fill="#9a9ab8"/><circle cx="1306.1" cy="449" r="3.4" fill="#3b5f30" stroke="#2b5232" stroke-width="1.1"/><circle cx="1306.1" cy="449" r="1.9" fill="#9a9ab8"/><circle cx="1332.9" cy="449" r="3.4" fill="#3b5f30" stroke="#2b5232" stroke-width="1.1"/><circle cx="1332.9" cy="449" r="1.9" fill="#9a9ab8"/><circle cx="1359.7" cy="449" r="3.4" fill="#3b5f30" stroke="#2b5232" stroke-width="1.1"/><circle cx="1359.7" cy="449" r="1.9" fill="#9a9ab8"/><circle cx="661" cy="255" r="4.4" fill="#3b5f30" stroke="#2b5232" stroke-width="1.1"/><circle cx="661" cy="255" r="1.9" fill="#9a9ab8"/><circle cx="733" cy="183.5" r="4.4" fill="#3b5f30" stroke="#2b5232" stroke-width="1.1"/><circle cx="733" cy="183.5" r="1.9" fill="#9a9ab8"/><circle cx="765" cy="176" r="4.4" fill="#3b5f30" stroke="#2b5232" stroke-width="1.1"/><circle cx="765" cy="176" r="1.9" fill="#9a9ab8"/><circle cx="836.5" cy="159.5" r="4.4" fill="#3b5f30" stroke="#2b5232" stroke-width="1.1"/><circle cx="836.5" cy="159.5" r="1.9" fill="#9a9ab8"/><circle cx="1182.3" cy="132.3" r="4.4" fill="#3b5f30" stroke="#2b5232" stroke-width="1.1"/><circle cx="1182.3" cy="132.3" r="1.9" fill="#9a9ab8"/><circle cx="1228.5" cy="94.9" r="4.4" fill="#3b5f30" stroke="#2b5232" stroke-width="1.1"/><circle cx="1228.5" cy="94.9" r="1.9" fill="#9a9ab8"/><circle cx="1276" cy="66.8" r="4.4" fill="#3b5f30" stroke="#2b5232" stroke-width="1.1"/><circle cx="1276" cy="66.8" r="1.9" fill="#9a9ab8"/><circle cx="1306" cy="162" r="3.3" fill="#3b5f30" stroke="#2b5232" stroke-width="1.1"/><circle cx="1306" cy="162" r="1.9" fill="#9a9ab8"/><circle cx="1205" cy="188" r="3.3" fill="#3b5f30" stroke="#2b5232" stroke-width="1.1"/><circle cx="1205" cy="188" r="1.9" fill="#9a9ab8"/><circle cx="1339" cy="176" r="3.3" fill="#3b5f30" stroke="#2b5232" stroke-width="1.1"/><circle cx="1339" cy="176" r="1.9" fill="#9a9ab8"/><circle cx="1352" cy="192" r="3.3" fill="#3b5f30" stroke="#2b5232" stroke-width="1.1"/><circle cx="1352" cy="192" r="1.9" fill="#9a9ab8"/><circle cx="1393" cy="140" r="3.3" fill="#3b5f30" stroke="#2b5232" stroke-width="1.1"/><circle cx="1393" cy="140" r="1.9" fill="#9a9ab8"/><circle cx="1416" cy="143" r="3.3" fill="#3b5f30" stroke="#2b5232" stroke-width="1.1"/><circle cx="1416" cy="143" r="1.9" fill="#9a9ab8"/><circle cx="1424" cy="137" r="3.3" fill="#3b5f30" stroke="#2b5232" stroke-width="1.1"/><circle cx="1424" cy="137" r="1.9" fill="#9a9ab8"/><circle cx="1451" cy="149" r="3.3" fill="#3b5f30" stroke="#2b5232" stroke-width="1.1"/><circle cx="1451" cy="149" r="1.9" fill="#9a9ab8"/><circle cx="1330" cy="245" r="3.3" fill="#3b5f30" stroke="#2b5232" stroke-width="1.1"/><circle cx="1330" cy="245" r="1.9" fill="#9a9ab8"/><circle cx="1352" cy="254" r="3.3" fill="#3b5f30" stroke="#2b5232" stroke-width="1.1"/><circle cx="1352" cy="254" r="1.9" fill="#9a9ab8"/><circle cx="1364" cy="254" r="3.3" fill="#3b5f30" stroke="#2b5232" stroke-width="1.1"/><circle cx="1364" cy="254" r="1.9" fill="#9a9ab8"/><circle cx="1290" cy="283" r="3.3" fill="#3b5f30" stroke="#2b5232" stroke-width="1.1"/><circle cx="1290" cy="283" r="1.9" fill="#9a9ab8"/><circle cx="1320" cy="280" r="3.3" fill="#3b5f30" stroke="#2b5232" stroke-width="1.1"/><circle cx="1320" cy="280" r="1.9" fill="#9a9ab8"/><circle cx="1370" cy="287" r="3.3" fill="#3b5f30" stroke="#2b5232" stroke-width="1.1"/><circle cx="1370" cy="287" r="1.9" fill="#9a9ab8"/><circle cx="1397" cy="287" r="3.3" fill="#3b5f30" stroke="#2b5232" stroke-width="1.1"/><circle cx="1397" cy="287" r="1.9" fill="#9a9ab8"/><circle cx="1410" cy="287" r="3.3" fill="#3b5f30" stroke="#2b5232" stroke-width="1.1"/><circle cx="1410" cy="287" r="1.9" fill="#9a9ab8"/><circle cx="1438" cy="289" r="3.3" fill="#3b5f30" stroke="#2b5232" stroke-width="1.1"/><circle cx="1438" cy="289" r="1.9" fill="#9a9ab8"/><circle cx="1452" cy="289" r="3.3" fill="#3b5f30" stroke="#2b5232" stroke-width="1.1"/><circle cx="1452" cy="289" r="1.9" fill="#9a9ab8"/><circle cx="1408" cy="274" r="3.3" fill="#3b5f30" stroke="#2b5232" stroke-width="1.1"/><circle cx="1408" cy="274" r="1.9" fill="#9a9ab8"/><circle cx="1464" cy="204" r="3.3" fill="#3b5f30" stroke="#2b5232" stroke-width="1.1"/><circle cx="1464" cy="204" r="1.9" fill="#9a9ab8"/><circle cx="552.5" cy="1009" r="2.6" fill="#3b5f30" stroke="#2b5232" stroke-width="1.1"/><circle cx="552.5" cy="1009" r="1.9" fill="#9a9ab8"/><circle cx="565" cy="1009" r="2.6" fill="#3b5f30" stroke="#2b5232" stroke-width="1.1"/><circle cx="565" cy="1009" r="1.9" fill="#9a9ab8"/><circle cx="1295" cy="653" r="4" fill="#3b5f30" stroke="#2b5232" stroke-width="1.1"/><circle cx="1295" cy="653" r="1.9" fill="#9a9ab8"/><circle cx="1312.5" cy="646" r="4" fill="#3b5f30" stroke="#2b5232" stroke-width="1.1"/><circle cx="1312.5" cy="646" r="1.9" fill="#9a9ab8"/><circle cx="1346.7" cy="649" r="4" fill="#3b5f30" stroke="#2b5232" stroke-width="1.1"/><circle cx="1346.7" cy="649" r="1.9" fill="#9a9ab8"/><circle cx="1364.3" cy="655.6" r="4" fill="#3b5f30" stroke="#2b5232" stroke-width="1.1"/><circle cx="1364.3" cy="655.6" r="1.9" fill="#9a9ab8"/><circle cx="1330" cy="677.6" r="4" fill="#3b5f30" stroke="#2b5232" stroke-width="1.1"/><circle cx="1330" cy="677.6" r="1.9" fill="#9a9ab8"/><circle cx="644.25" cy="975" r="3.2" fill="#3b5f30" stroke="#2b5232" stroke-width="1.1"/><circle cx="644.25" cy="975" r="1.9" fill="#9a9ab8"/><circle cx="749.75" cy="975" r="3.2" fill="#3b5f30" stroke="#2b5232" stroke-width="1.1"/><circle cx="749.75" cy="975" r="1.9" fill="#9a9ab8"/><circle cx="854.75" cy="975" r="3.2" fill="#3b5f30" stroke="#2b5232" stroke-width="1.1"/><circle cx="854.75" cy="975" r="1.9" fill="#9a9ab8"/><circle cx="958" cy="975" r="3.2" fill="#3b5f30" stroke="#2b5232" stroke-width="1.1"/><circle cx="958" cy="975" r="1.9" fill="#9a9ab8"/><circle cx="1065.5" cy="975" r="3.2" fill="#3b5f30" stroke="#2b5232" stroke-width="1.1"/><circle cx="1065.5" cy="975" r="1.9" fill="#9a9ab8"/><circle cx="1171" cy="975" r="3.2" fill="#3b5f30" stroke="#2b5232" stroke-width="1.1"/><circle cx="1171" cy="975" r="1.9" fill="#9a9ab8"/><circle cx="1274" cy="975" r="3.2" fill="#3b5f30" stroke="#2b5232" stroke-width="1.1"/><circle cx="1274" cy="975" r="1.9" fill="#9a9ab8"/><circle cx="1378.1" cy="975" r="3.2" fill="#3b5f30" stroke="#2b5232" stroke-width="1.1"/><circle cx="1378.1" cy="975" r="1.9" fill="#9a9ab8"/><rect x="761" y="22.5" width="22" height="45.5" rx="11" fill="#3c6030" stroke="#2b5232" stroke-width="1.2"/><rect x="834.7" y="22.5" width="21.6" height="62.5" rx="10.8" fill="#3c6030" stroke="#2b5232" stroke-width="1.2"/><circle cx="818.5" cy="159.4" r="4.2" fill="#3b5f30" stroke="#2b5232" stroke-width="1.1"/><circle cx="818.5" cy="159.4" r="2.2" fill="#8fe0ea"/><rect x="757.5" y="148.2" width="3" height="3" fill="#9a9ab8"/></g>
<circle cx="477" cy="58.75" r="15.8" fill="#c6c6e0"/>
<circle cx="1438.7" cy="61" r="16" fill="#c6c6e0"/>
<circle cx="477" cy="1020" r="16" fill="#6c6c86"/>
<circle cx="1440.9" cy="1019.8" r="15.6" fill="#6c6c86"/>
<g><circle cx="531.25" cy="49.25" r="16.45" fill="#35582f"/><circle cx="531.25" cy="49.25" r="15.75" fill="#f3ea2f"/><circle cx="531.25" cy="49.25" r="9.25" fill="#bdbddb"/><circle cx="644" cy="49.25" r="16.45" fill="#35582f"/><circle cx="644" cy="49.25" r="15.75" fill="#f3ea2f"/><circle cx="644" cy="49.25" r="9.25" fill="#bdbddb"/><rect x="514.3" y="85.05" width="33.9" height="33.9" rx="7.5" fill="#35582f"/><rect x="515" y="85.75" width="32.5" height="32.5" rx="7" fill="#f3ea2f"/><circle cx="531.25" cy="102" r="9.25" fill="#b9b9d7"/><rect x="627.05" y="85.05" width="33.9" height="33.9" rx="7.5" fill="#35582f"/><rect x="627.75" y="85.75" width="32.5" height="32.5" rx="7" fill="#f3ea2f"/><circle cx="644" cy="102" r="9.25" fill="#b9b9d7"/><rect x="576.25" y="26.25" width="20.5" height="16.25" rx="2.5" fill="#e2e2e2"/><rect x="576.25" y="71.25" width="20.5" height="16.25" rx="2.5" fill="#e2e2e2"/><rect x="538.77" y="162" width="8.2" height="10.2" rx="2" fill="#e2e2e2"/><rect x="540.57" y="163.8" width="4.6" height="6.6" rx="0.8" fill="#f0f0f0"/><rect x="528.5" y="140.8" width="8.2" height="10.2" rx="2" fill="#e2e2e2"/><rect x="530.3" y="142.6" width="4.6" height="6.6" rx="0.8" fill="#f0f0f0"/><rect x="549.05" y="140.8" width="8.2" height="10.2" rx="2" fill="#e2e2e2"/><rect x="550.85" y="142.6" width="4.6" height="6.6" rx="0.8" fill="#f0f0f0"/><rect x="535.4" y="263.5" width="8.2" height="10.2" rx="2" fill="#e2e2e2"/><rect x="537.2" y="265.3" width="4.6" height="6.6" rx="0.8" fill="#f0f0f0"/><rect x="525.5" y="242.8" width="8.2" height="10.2" rx="2" fill="#e2e2e2"/><rect x="527.3" y="244.6" width="4.6" height="6.6" rx="0.8" fill="#f0f0f0"/><rect x="545.3" y="242.8" width="8.2" height="10.2" rx="2" fill="#e2e2e2"/><rect x="547.1" y="244.6" width="4.6" height="6.6" rx="0.8" fill="#f0f0f0"/><circle cx="600" cy="163.25" r="8.7" fill="#35582f"/><circle cx="600" cy="163.25" r="8" fill="#f3ea2f"/><circle cx="600" cy="163.25" r="3.6" fill="#8fd7e6"/><circle cx="600" cy="163.25" r="2.4" fill="#eef"/><circle cx="600" cy="190" r="8.7" fill="#35582f"/><circle cx="600" cy="190" r="8" fill="#f3ea2f"/><circle cx="600" cy="190" r="3.6" fill="#8fd7e6"/><circle cx="600" cy="190" r="2.4" fill="#eef"/><circle cx="600" cy="216.75" r="8.7" fill="#35582f"/><circle cx="600" cy="216.75" r="8" fill="#f3ea2f"/><circle cx="600" cy="216.75" r="3.6" fill="#8fd7e6"/><circle cx="600" cy="216.75" r="2.4" fill="#eef"/><circle cx="682.5" cy="163.75" r="8.7" fill="#35582f"/><circle cx="682.5" cy="163.75" r="8" fill="#f3ea2f"/><circle cx="682.5" cy="163.75" r="3.6" fill="#8fd7e6"/><circle cx="682.5" cy="163.75" r="2.4" fill="#eef"/><circle cx="682.5" cy="190.5" r="8.7" fill="#35582f"/><circle cx="682.5" cy="190.5" r="8" fill="#f3ea2f"/><circle cx="682.5" cy="190.5" r="3.6" fill="#8fd7e6"/><circle cx="682.5" cy="190.5" r="2.4" fill="#eef"/><circle cx="682.5" cy="217.25" r="8.7" fill="#35582f"/><circle cx="682.5" cy="217.25" r="8" fill="#f3ea2f"/><circle cx="682.5" cy="217.25" r="3.6" fill="#8fd7e6"/><circle cx="682.5" cy="217.25" r="2.4" fill="#eef"/><circle cx="835" cy="162.5" r="8.7" fill="#35582f"/><circle cx="835" cy="162.5" r="8" fill="#f3ea2f"/><circle cx="835" cy="162.5" r="3.6" fill="#8fd7e6"/><circle cx="835" cy="162.5" r="2.4" fill="#eef"/><circle cx="835" cy="189.25" r="8.7" fill="#35582f"/><circle cx="835" cy="189.25" r="8" fill="#f3ea2f"/><circle cx="835" cy="189.25" r="3.6" fill="#8fd7e6"/><circle cx="835" cy="189.25" r="2.4" fill="#eef"/><circle cx="835" cy="216" r="8.7" fill="#35582f"/><circle cx="835" cy="216" r="8" fill="#f3ea2f"/><circle cx="835" cy="216" r="3.6" fill="#8fd7e6"/><circle cx="835" cy="216" r="2.4" fill="#eef"/><rect x="590" y="331.5" width="6.5" height="12.5" rx="2" fill="#efefef"/><rect x="590" y="358" width="6.5" height="11.5" rx="2" fill="#efefef"/><rect x="599.5" y="331.5" width="6.5" height="12.5" rx="2" fill="#efefef"/><rect x="599.5" y="358" width="6.5" height="11.5" rx="2" fill="#efefef"/><rect x="609.5" y="331.5" width="6.5" height="12.5" rx="2" fill="#efefef"/><rect x="609.5" y="358" width="6.5" height="11.5" rx="2" fill="#efefef"/><circle cx="496.25" cy="358.75" r="11.7" fill="#35582f"/><circle cx="496.25" cy="358.75" r="11" fill="#f3ea2f"/><circle cx="496.25" cy="358.75" r="5.2" fill="#9c9cbe"/><rect x="484.8" y="373.05" width="23.4" height="23.4" rx="3.5" fill="#35582f"/><rect x="485.5" y="373.75" width="22" height="22" rx="3" fill="#f3ea2f"/><circle cx="496.5" cy="384.75" r="5.2" fill="#9c9cbe"/><rect x="519" y="455.15" width="10" height="7.2" rx="2" fill="#e2e2e2"/><rect x="520.8" y="456.95" width="6.4" height="3.6" rx="0.8" fill="#f0f0f0"/><rect x="540.75" y="444.75" width="10" height="7.2" rx="2" fill="#e2e2e2"/><rect x="542.55" y="446.55" width="6.4" height="3.6" rx="0.8" fill="#f0f0f0"/><rect x="540.75" y="465.55" width="10" height="7.2" rx="2" fill="#e2e2e2"/><rect x="542.55" y="467.35" width="6.4" height="3.6" rx="0.8" fill="#f0f0f0"/><circle cx="496.25" cy="461.25" r="11.7" fill="#35582f"/><circle cx="496.25" cy="461.25" r="11" fill="#f3ea2f"/><circle cx="496.25" cy="461.25" r="5.2" fill="#9090b4"/><rect x="484.8" y="475.55" width="23.4" height="23.4" rx="3.5" fill="#35582f"/><rect x="485.5" y="476.25" width="22" height="22" rx="3" fill="#f3ea2f"/><circle cx="496.5" cy="487.25" r="5.2" fill="#9090b4"/><rect x="723" y="33.6" width="18.8" height="18.8" rx="2" fill="#35582f"/><rect x="723.7" y="34.3" width="17.4" height="17.4" rx="1.5" fill="#f3ea2f"/><circle cx="732.4" cy="43" r="4" fill="#b0b0d0"/><circle cx="732.5" cy="64.5" r="9.4" fill="#35582f"/><circle cx="732.5" cy="64.5" r="8.7" fill="#f3ea2f"/><circle cx="732.5" cy="64.5" r="4" fill="#b0b0d0"/><rect x="759" y="30.5" width="25.6" height="7.5" rx="1.5" fill="#f3ea2f"/><rect x="760.4" y="30.3" width="23" height="7.9" fill="#ebebeb"/><rect x="833.6" y="30.5" width="24.4" height="7.5" rx="1.5" fill="#f3ea2f"/><rect x="834.8" y="30.3" width="22" height="7.9" fill="#ebebeb"/><rect x="759" y="43.75" width="25.6" height="7.5" rx="1.5" fill="#f3ea2f"/><rect x="760.4" y="43.55" width="23" height="7.9" fill="#ebebeb"/><rect x="833.6" y="43.75" width="24.4" height="7.5" rx="1.5" fill="#f3ea2f"/><rect x="834.8" y="43.55" width="22" height="7.9" fill="#ebebeb"/><rect x="759" y="57" width="25.6" height="7.5" rx="1.5" fill="#f3ea2f"/><rect x="760.4" y="56.8" width="23" height="7.9" fill="#ebebeb"/><rect x="833.6" y="57" width="24.4" height="7.5" rx="1.5" fill="#f3ea2f"/><rect x="834.8" y="56.8" width="22" height="7.9" fill="#ebebeb"/><rect x="759" y="70.75" width="25.6" height="6.75" rx="1.5" fill="#f3ea2f"/><rect x="760.4" y="70.55" width="23" height="7.15" fill="#ebebeb"/><rect x="833.6" y="70.75" width="24.4" height="6.75" rx="1.5" fill="#f3ea2f"/><rect x="834.8" y="70.55" width="22" height="7.15" fill="#ebebeb"/><rect x="731.5" y="135.1" width="19.7" height="6.6" fill="#e6e2e0" stroke="#9a7f6a" stroke-width="0.6"/><rect x="790.6" y="135.1" width="19.6" height="6.6" fill="#e6e2e0" stroke="#9a7f6a" stroke-width="0.6"/><rect x="731.5" y="145.6" width="19.7" height="6.6" fill="#e6e2e0" stroke="#9a7f6a" stroke-width="0.6"/><rect x="790.6" y="145.6" width="19.6" height="6.6" fill="#e6e2e0" stroke="#9a7f6a" stroke-width="0.6"/><rect x="731.5" y="156.4" width="19.7" height="6.6" fill="#e6e2e0" stroke="#9a7f6a" stroke-width="0.6"/><rect x="790.6" y="156.4" width="19.6" height="6.6" fill="#e6e2e0" stroke="#9a7f6a" stroke-width="0.6"/><rect x="731.5" y="166.9" width="19.7" height="6.6" fill="#e6e2e0" stroke="#9a7f6a" stroke-width="0.6"/><rect x="790.6" y="166.9" width="19.6" height="6.6" fill="#e6e2e0" stroke="#9a7f6a" stroke-width="0.6"/><rect x="731.5" y="177.2" width="19.7" height="6.6" fill="#e6e2e0" stroke="#9a7f6a" stroke-width="0.6"/><rect x="790.6" y="177.2" width="19.6" height="6.6" fill="#e6e2e0" stroke="#9a7f6a" stroke-width="0.6"/><rect x="887.5" y="104.5" width="57.5" height="30.5" fill="#e4e4e4"/><rect x="887.5" y="208.75" width="57.5" height="30.5" fill="#e4e4e4"/><rect x="1002" y="125.75" width="8" height="15" rx="1.5" fill="#e2e2e2"/><rect x="1015" y="126.25" width="22" height="23.75" rx="2" fill="#e2e2e2"/><rect x="1002" y="198" width="8" height="15" rx="1.5" fill="#e2e2e2"/><rect x="1015" y="188.75" width="22" height="24.25" rx="2" fill="#e2e2e2"/><rect x="878.75" y="43.75" width="16.75" height="20" rx="2.5" fill="#e2e2e2"/><rect x="923.75" y="43.75" width="16.75" height="20" rx="2.5" fill="#e2e2e2"/><circle cx="963.75" cy="51.25" r="9.7" fill="#35582f"/><circle cx="963.75" cy="51.25" r="9" fill="#f3ea2f"/><circle cx="963.75" cy="51.25" r="4.2" fill="#b0b0d0"/><rect x="954.15" y="62.9" width="19.2" height="19.2" rx="2" fill="#35582f"/><rect x="954.85" y="63.6" width="17.8" height="17.8" rx="1.5" fill="#f3ea2f"/><circle cx="963.75" cy="72.5" r="4.2" fill="#b0b0d0"/><rect x="1039" y="70.78" width="10" height="7.2" rx="2" fill="#e2e2e2"/><rect x="1040.8" y="72.58" width="6.4" height="3.6" rx="0.8" fill="#f0f0f0"/><rect x="1017.25" y="60.25" width="10" height="7.2" rx="2" fill="#e2e2e2"/><rect x="1019.05" y="62.05" width="6.4" height="3.6" rx="0.8" fill="#f0f0f0"/><rect x="1017.25" y="81.3" width="10" height="7.2" rx="2" fill="#e2e2e2"/><rect x="1019.05" y="83.1" width="6.4" height="3.6" rx="0.8" fill="#f0f0f0"/><rect x="1065.75" y="51.25" width="6.25" height="11.75" rx="2" fill="#efefef"/><rect x="1065.75" y="77" width="6.25" height="11.75" rx="2" fill="#efefef"/><rect x="1075" y="51.25" width="6.25" height="11.75" rx="2" fill="#efefef"/><rect x="1075" y="77" width="6.25" height="11.75" rx="2" fill="#efefef"/><rect x="1084.5" y="51.25" width="6.25" height="11.75" rx="2" fill="#efefef"/><rect x="1084.5" y="77" width="6.25" height="11.75" rx="2" fill="#efefef"/><rect x="1020.3" y="251.65" width="19.2" height="19.2" rx="2" fill="#35582f"/><rect x="1021" y="252.35" width="17.8" height="17.8" rx="1.5" fill="#f3ea2f"/><circle cx="1029.9" cy="261.25" r="4.2" fill="#a8a8c8"/><circle cx="1030" cy="283.5" r="9.6" fill="#35582f"/><circle cx="1030" cy="283.5" r="8.9" fill="#f3ea2f"/><circle cx="1030" cy="283.5" r="4.2" fill="#a8a8c8"/><circle cx="1108" cy="35" r="10.1" fill="#35582f"/><circle cx="1108" cy="35" r="9.4" fill="#f3ea2f"/><circle cx="1108" cy="35" r="4.3" fill="#b89c58"/><rect x="1106.2" y="33.2" width="3.6" height="3.6" fill="#efe4c4"/><circle cx="1134.5" cy="35" r="10.1" fill="#35582f"/><circle cx="1134.5" cy="35" r="9.4" fill="#f3ea2f"/><circle cx="1134.5" cy="35" r="4.3" fill="#b89c58"/><rect x="1132.7" y="33.2" width="3.6" height="3.6" fill="#efe4c4"/><circle cx="1161.25" cy="35" r="10.1" fill="#35582f"/><circle cx="1161.25" cy="35" r="9.4" fill="#f3ea2f"/><circle cx="1161.25" cy="35" r="4.3" fill="#b89c58"/><rect x="1159.45" y="33.2" width="3.6" height="3.6" fill="#efe4c4"/><circle cx="1188" cy="35" r="10.1" fill="#35582f"/><circle cx="1188" cy="35" r="9.4" fill="#f3ea2f"/><circle cx="1188" cy="35" r="4.3" fill="#b89c58"/><rect x="1186.2" y="33.2" width="3.6" height="3.6" fill="#efe4c4"/><circle cx="1214.5" cy="35" r="10.1" fill="#35582f"/><circle cx="1214.5" cy="35" r="9.4" fill="#f3ea2f"/><circle cx="1214.5" cy="35" r="4.3" fill="#b89c58"/><rect x="1212.7" y="33.2" width="3.6" height="3.6" fill="#efe4c4"/><rect x="1231.35" y="25.1" width="19.8" height="19.8" rx="2" fill="#35582f"/><rect x="1232.05" y="25.8" width="18.4" height="18.4" rx="1.5" fill="#f3ea2f"/><circle cx="1241.25" cy="35" r="4.3" fill="#b89c58"/><rect x="1239.45" y="33.2" width="3.6" height="3.6" fill="#efe4c4"/><rect x="1124.6" y="84.6" width="19.8" height="19.8" rx="2" fill="#35582f"/><rect x="1125.3" y="85.3" width="18.4" height="18.4" rx="1.5" fill="#f3ea2f"/><circle cx="1134.5" cy="94.5" r="5" fill="#b4b4d2"/><circle cx="1161.25" cy="94.5" r="10.1" fill="#35582f"/><circle cx="1161.25" cy="94.5" r="9.4" fill="#f3ea2f"/><circle cx="1161.25" cy="94.5" r="5" fill="#b4b4d2"/><circle cx="1188" cy="94.5" r="10.1" fill="#35582f"/><circle cx="1188" cy="94.5" r="9.4" fill="#f3ea2f"/><circle cx="1188" cy="94.5" r="5" fill="#b4b4d2"/><rect x="1255.88" y="28.6" width="12.24" height="11.88" rx="2.5" fill="#e2e2e2"/><rect x="1255.88" y="45.52" width="12.24" height="11.88" rx="2.5" fill="#e2e2e2"/><rect x="1255.42" y="71.65" width="12.41" height="12.04" rx="2.5" fill="#e2e2e2"/><rect x="1255.42" y="88.81" width="12.41" height="12.04" rx="2.5" fill="#e2e2e2"/><rect x="1210.5" y="106" width="10.5" height="9" rx="2.5" fill="#e2e2e2"/><rect x="1210.5" y="123.75" width="10.5" height="8.75" rx="2.5" fill="#e2e2e2"/><rect x="1286.7" y="40" width="11.6" height="17.5" rx="5.8" fill="#f3ea2f"/><rect x="1288.9" y="42.4" width="7.2" height="12.7" rx="3.6" fill="#babad8"/><rect x="1286.7" y="81.3" width="11.6" height="23.5" rx="5.8" fill="#f3ea2f"/><rect x="1288.9" y="83.7" width="7.2" height="18.7" rx="3.6" fill="#babad8"/><rect x="1378.3" y="40" width="11.7" height="17.5" rx="5.8" fill="#f3ea2f"/><rect x="1380.5" y="42.4" width="7.3" height="12.7" rx="3.6" fill="#babad8"/><rect x="1378.3" y="81.3" width="11.7" height="23.5" rx="5.8" fill="#f3ea2f"/><rect x="1380.5" y="83.7" width="7.3" height="18.7" rx="3.6" fill="#babad8"/><circle cx="1307.9" cy="87" r="3.8" fill="#b4b4d2"/><circle cx="1368.7" cy="87" r="3.8" fill="#b4b4d2"/><rect x="1326" y="28.8" width="6.6" height="12.7" rx="2" fill="#efefef"/><rect x="1326" y="54.5" width="6.6" height="12.2" rx="2" fill="#efefef"/><rect x="1336.4" y="28.8" width="6.6" height="12.7" rx="2" fill="#efefef"/><rect x="1336.4" y="54.5" width="6.6" height="12.2" rx="2" fill="#efefef"/><rect x="1346.2" y="28.8" width="6.6" height="12.7" rx="2" fill="#efefef"/><rect x="1346.2" y="54.5" width="6.6" height="12.2" rx="2" fill="#efefef"/><rect x="1401" y="73.8" width="10.5" height="8.5" rx="2.5" fill="#e2e2e2"/><rect x="1401" y="90.7" width="10.5" height="9" rx="2.5" fill="#e2e2e2"/><rect x="1284.8" y="112.3" width="10.3" height="15.9" fill="#e6e6e6" stroke="#7a5a3a" stroke-width="0.5"/><rect x="1285" y="296.8" width="10.3" height="16.7" fill="#e6e6e6" stroke="#7a5a3a" stroke-width="0.5"/><rect x="1298.2" y="112.3" width="10.3" height="15.9" fill="#e6e6e6" stroke="#7a5a3a" stroke-width="0.5"/><rect x="1298.4" y="296.8" width="10.3" height="16.7" fill="#e6e6e6" stroke="#7a5a3a" stroke-width="0.5"/><rect x="1311.6" y="112.3" width="10.3" height="15.9" fill="#e6e6e6" stroke="#7a5a3a" stroke-width="0.5"/><rect x="1311.8" y="296.8" width="10.3" height="16.7" fill="#e6e6e6" stroke="#7a5a3a" stroke-width="0.5"/><rect x="1325" y="112.3" width="10.3" height="15.9" fill="#e6e6e6" stroke="#7a5a3a" stroke-width="0.5"/><rect x="1325.2" y="296.8" width="10.3" height="16.7" fill="#e6e6e6" stroke="#7a5a3a" stroke-width="0.5"/><rect x="1338.4" y="112.3" width="10.3" height="15.9" fill="#e6e6e6" stroke="#7a5a3a" stroke-width="0.5"/><rect x="1338.6" y="296.8" width="10.3" height="16.7" fill="#e6e6e6" stroke="#7a5a3a" stroke-width="0.5"/><rect x="1351.8" y="112.3" width="10.3" height="15.9" fill="#e6e6e6" stroke="#7a5a3a" stroke-width="0.5"/><rect x="1352" y="296.8" width="10.3" height="16.7" fill="#e6e6e6" stroke="#7a5a3a" stroke-width="0.5"/><rect x="1365.2" y="112.3" width="10.3" height="15.9" fill="#e6e6e6" stroke="#7a5a3a" stroke-width="0.5"/><rect x="1365.4" y="296.8" width="10.3" height="16.7" fill="#e6e6e6" stroke="#7a5a3a" stroke-width="0.5"/><rect x="1378.6" y="112.3" width="10.3" height="15.9" fill="#e6e6e6" stroke="#7a5a3a" stroke-width="0.5"/><rect x="1378.8" y="296.8" width="10.3" height="16.7" fill="#e6e6e6" stroke="#7a5a3a" stroke-width="0.5"/><rect x="1392" y="112.3" width="10.3" height="15.9" fill="#e6e6e6" stroke="#7a5a3a" stroke-width="0.5"/><rect x="1392.2" y="296.8" width="10.3" height="16.7" fill="#e6e6e6" stroke="#7a5a3a" stroke-width="0.5"/><rect x="1405.4" y="112.3" width="10.3" height="15.9" fill="#e6e6e6" stroke="#7a5a3a" stroke-width="0.5"/><rect x="1405.6" y="296.8" width="10.3" height="16.7" fill="#e6e6e6" stroke="#7a5a3a" stroke-width="0.5"/><rect x="1418.8" y="112.3" width="10.3" height="15.9" fill="#e6e6e6" stroke="#7a5a3a" stroke-width="0.5"/><rect x="1419" y="296.8" width="10.3" height="16.7" fill="#e6e6e6" stroke="#7a5a3a" stroke-width="0.5"/><rect x="1432.2" y="112.3" width="10.3" height="15.9" fill="#e6e6e6" stroke="#7a5a3a" stroke-width="0.5"/><rect x="1432.4" y="296.8" width="10.3" height="16.7" fill="#e6e6e6" stroke="#7a5a3a" stroke-width="0.5"/><rect x="1445.6" y="112.3" width="10.3" height="15.9" fill="#e6e6e6" stroke="#7a5a3a" stroke-width="0.5"/><rect x="1445.8" y="296.8" width="10.3" height="16.7" fill="#e6e6e6" stroke="#7a5a3a" stroke-width="0.5"/><rect x="1459" y="112.3" width="10.3" height="15.9" fill="#e6e6e6" stroke="#7a5a3a" stroke-width="0.5"/><rect x="1459.2" y="296.8" width="10.3" height="16.7" fill="#e6e6e6" stroke="#7a5a3a" stroke-width="0.5"/><rect x="1385.7" y="178.1" width="10.8" height="10.8" rx="1.5" fill="#f3ea2f"/><rect x="1386.3" y="178.7" width="9.6" height="9.6" rx="1.5" fill="#e9e9e9"/><rect x="1385.7" y="191.15" width="10.8" height="10.8" rx="1.5" fill="#f3ea2f"/><rect x="1386.3" y="191.75" width="9.6" height="9.6" rx="1.5" fill="#e9e9e9"/><rect x="1385.7" y="204.2" width="10.8" height="10.8" rx="1.5" fill="#f3ea2f"/><rect x="1386.3" y="204.8" width="9.6" height="9.6" rx="1.5" fill="#e9e9e9"/><rect x="1398.75" y="178.1" width="10.8" height="10.8" rx="1.5" fill="#f3ea2f"/><rect x="1399.35" y="178.7" width="9.6" height="9.6" rx="1.5" fill="#e9e9e9"/><rect x="1398.75" y="191.15" width="10.8" height="10.8" rx="1.5" fill="#f3ea2f"/><rect x="1399.35" y="191.75" width="9.6" height="9.6" rx="1.5" fill="#e9e9e9"/><rect x="1398.75" y="204.2" width="10.8" height="10.8" rx="1.5" fill="#f3ea2f"/><rect x="1399.35" y="204.8" width="9.6" height="9.6" rx="1.5" fill="#e9e9e9"/><rect x="1411.8" y="178.1" width="10.8" height="10.8" rx="1.5" fill="#f3ea2f"/><rect x="1412.4" y="178.7" width="9.6" height="9.6" rx="1.5" fill="#e9e9e9"/><rect x="1411.8" y="191.15" width="10.8" height="10.8" rx="1.5" fill="#f3ea2f"/><rect x="1412.4" y="191.75" width="9.6" height="9.6" rx="1.5" fill="#e9e9e9"/><rect x="1411.8" y="204.2" width="10.8" height="10.8" rx="1.5" fill="#f3ea2f"/><rect x="1412.4" y="204.8" width="9.6" height="9.6" rx="1.5" fill="#e9e9e9"/><rect x="1097.5" y="168.75" width="16.25" height="38.75" rx="7" fill="#f3ea2f"/><path d="M1097.5 181.5 L1113.75 181.5" fill="none" stroke="#b8b040" stroke-width="1" stroke-linejoin="round" stroke-linecap="round"/><path d="M1097.5 194.5 L1113.75 194.5" fill="none" stroke="#b8b040" stroke-width="1" stroke-linejoin="round" stroke-linecap="round"/><rect x="1124.5" y="202.5" width="11.5" height="7" rx="2" fill="#e2e2e2"/><rect x="1150.5" y="202.5" width="12" height="7" rx="2" fill="#e2e2e2"/><rect x="1124.5" y="213" width="11.5" height="7" rx="2" fill="#e2e2e2"/><rect x="1150.5" y="213" width="12" height="7" rx="2" fill="#e2e2e2"/><rect x="1124.5" y="223" width="11.5" height="7" rx="2" fill="#e2e2e2"/><rect x="1150.5" y="223" width="12" height="7" rx="2" fill="#e2e2e2"/><rect x="1387" y="333.3" width="9" height="10.5" rx="2.5" fill="#e2e2e2"/><rect x="1404.5" y="333.3" width="8.5" height="10.5" rx="2.5" fill="#e2e2e2"/><rect x="1387" y="364" width="9" height="10" rx="2.5" fill="#e2e2e2"/><rect x="1404.5" y="364" width="8.5" height="10" rx="2.5" fill="#e2e2e2"/><rect x="1420.13" y="358.66" width="11.98" height="11.29" rx="2.5" fill="#e2e2e2"/><rect x="1437.19" y="358.66" width="11.98" height="11.29" rx="2.5" fill="#e2e2e2"/><rect x="1457.2" y="339.23" width="12.31" height="11.65" rx="2.5" fill="#e2e2e2"/><rect x="1457.2" y="355.82" width="12.31" height="11.65" rx="2.5" fill="#e2e2e2"/><rect x="1446.2" y="377.9" width="20.2" height="20.2" rx="2" fill="#35582f"/><rect x="1446.9" y="378.6" width="18.8" height="18.8" rx="1.5" fill="#f3ea2f"/><circle cx="1456.3" cy="388" r="4.8" fill="#9a9abc"/><circle cx="1455.8" cy="414.3" r="10.1" fill="#35582f"/><circle cx="1455.8" cy="414.3" r="9.4" fill="#f3ea2f"/><circle cx="1455.8" cy="414.3" r="4.8" fill="#9a9abc"/><circle cx="1455.8" cy="440.6" r="10.1" fill="#35582f"/><circle cx="1455.8" cy="440.6" r="9.4" fill="#f3ea2f"/><circle cx="1455.8" cy="440.6" r="4.8" fill="#9a9abc"/><rect x="1446.2" y="480.7" width="20.2" height="20.2" rx="2" fill="#35582f"/><rect x="1446.9" y="481.4" width="18.8" height="18.8" rx="1.5" fill="#f3ea2f"/><circle cx="1456.3" cy="490.8" r="4.8" fill="#9090b4"/><circle cx="1455.8" cy="517.1" r="10.1" fill="#35582f"/><circle cx="1455.8" cy="517.1" r="9.4" fill="#f3ea2f"/><circle cx="1455.8" cy="517.1" r="4.8" fill="#9090b4"/><circle cx="1455.8" cy="543.4" r="10.1" fill="#35582f"/><circle cx="1455.8" cy="543.4" r="9.4" fill="#f3ea2f"/><circle cx="1455.8" cy="543.4" r="4.8" fill="#9090b4"/><rect x="1026.5" y="369" width="7" height="19.7" rx="2.45" fill="#efefef"/><rect x="1026.5" y="424.5" width="7" height="19.7" rx="2.45" fill="#efefef"/><rect x="1039.9" y="369" width="7" height="19.7" rx="2.45" fill="#efefef"/><rect x="1039.9" y="424.5" width="7" height="19.7" rx="2.45" fill="#efefef"/><rect x="1053.3" y="369" width="7" height="19.7" rx="2.45" fill="#efefef"/><rect x="1053.3" y="424.5" width="7" height="19.7" rx="2.45" fill="#efefef"/><rect x="1066.7" y="369" width="7" height="19.7" rx="2.45" fill="#efefef"/><rect x="1066.7" y="424.5" width="7" height="19.7" rx="2.45" fill="#efefef"/><rect x="1080.1" y="369" width="7" height="19.7" rx="2.45" fill="#efefef"/><rect x="1080.1" y="424.5" width="7" height="19.7" rx="2.45" fill="#efefef"/><rect x="1093.5" y="369" width="7" height="19.7" rx="2.45" fill="#efefef"/><rect x="1093.5" y="424.5" width="7" height="19.7" rx="2.45" fill="#efefef"/><rect x="1106.9" y="369" width="7" height="19.7" rx="2.45" fill="#efefef"/><rect x="1106.9" y="424.5" width="7" height="19.7" rx="2.45" fill="#efefef"/><rect x="1120.3" y="369" width="7" height="19.7" rx="2.45" fill="#efefef"/><rect x="1120.3" y="424.5" width="7" height="19.7" rx="2.45" fill="#efefef"/><rect x="1151.4" y="369" width="7" height="19.7" rx="2.45" fill="#efefef"/><rect x="1151.4" y="424.5" width="7" height="19.7" rx="2.45" fill="#efefef"/><rect x="1164.8" y="369" width="7" height="19.7" rx="2.45" fill="#efefef"/><rect x="1164.8" y="424.5" width="7" height="19.7" rx="2.45" fill="#efefef"/><rect x="1178.2" y="369" width="7" height="19.7" rx="2.45" fill="#efefef"/><rect x="1178.2" y="424.5" width="7" height="19.7" rx="2.45" fill="#efefef"/><rect x="1191.6" y="369" width="7" height="19.7" rx="2.45" fill="#efefef"/><rect x="1191.6" y="424.5" width="7" height="19.7" rx="2.45" fill="#efefef"/><rect x="1205" y="369" width="7" height="19.7" rx="2.45" fill="#efefef"/><rect x="1205" y="424.5" width="7" height="19.7" rx="2.45" fill="#efefef"/><rect x="1218.4" y="369" width="7" height="19.7" rx="2.45" fill="#efefef"/><rect x="1218.4" y="424.5" width="7" height="19.7" rx="2.45" fill="#efefef"/><rect x="1231.8" y="369" width="7" height="19.7" rx="2.45" fill="#efefef"/><rect x="1231.8" y="424.5" width="7" height="19.7" rx="2.45" fill="#efefef"/><rect x="1245.2" y="369" width="7" height="19.7" rx="2.45" fill="#efefef"/><rect x="1245.2" y="424.5" width="7" height="19.7" rx="2.45" fill="#efefef"/><rect x="1276.3" y="369" width="7" height="19.7" rx="2.45" fill="#efefef"/><rect x="1276.3" y="424.5" width="7" height="19.7" rx="2.45" fill="#efefef"/><rect x="1289.7" y="369" width="7" height="19.7" rx="2.45" fill="#efefef"/><rect x="1289.7" y="424.5" width="7" height="19.7" rx="2.45" fill="#efefef"/><rect x="1303.1" y="369" width="7" height="19.7" rx="2.45" fill="#efefef"/><rect x="1303.1" y="424.5" width="7" height="19.7" rx="2.45" fill="#efefef"/><rect x="1316.5" y="369" width="7" height="19.7" rx="2.45" fill="#efefef"/><rect x="1316.5" y="424.5" width="7" height="19.7" rx="2.45" fill="#efefef"/><rect x="1329.9" y="369" width="7" height="19.7" rx="2.45" fill="#efefef"/><rect x="1329.9" y="424.5" width="7" height="19.7" rx="2.45" fill="#efefef"/><rect x="1343.3" y="369" width="7" height="19.7" rx="2.45" fill="#efefef"/><rect x="1343.3" y="424.5" width="7" height="19.7" rx="2.45" fill="#efefef"/><rect x="1356.7" y="369" width="7" height="19.7" rx="2.45" fill="#efefef"/><rect x="1356.7" y="424.5" width="7" height="19.7" rx="2.45" fill="#efefef"/><rect x="1370.1" y="369" width="7" height="19.7" rx="2.45" fill="#efefef"/><rect x="1370.1" y="424.5" width="7" height="19.7" rx="2.45" fill="#efefef"/><rect x="519.75" y="494.15" width="10" height="7.2" rx="2" fill="#e2e2e2"/><rect x="521.55" y="495.95" width="6.4" height="3.6" rx="0.8" fill="#f0f0f0"/><rect x="541.5" y="484" width="10" height="7.2" rx="2" fill="#e2e2e2"/><rect x="543.3" y="485.8" width="6.4" height="3.6" rx="0.8" fill="#f0f0f0"/><rect x="541.5" y="504.3" width="10" height="7.2" rx="2" fill="#e2e2e2"/><rect x="543.3" y="506.1" width="6.4" height="3.6" rx="0.8" fill="#f0f0f0"/><rect x="494.27" y="546.3" width="8.2" height="10.2" rx="2" fill="#e2e2e2"/><rect x="496.07" y="548.1" width="4.6" height="6.6" rx="0.8" fill="#f0f0f0"/><rect x="484" y="567.75" width="8.2" height="10.2" rx="2" fill="#e2e2e2"/><rect x="485.8" y="569.55" width="4.6" height="6.6" rx="0.8" fill="#f0f0f0"/><rect x="504.55" y="567.75" width="8.2" height="10.2" rx="2" fill="#e2e2e2"/><rect x="506.35" y="569.55" width="4.6" height="6.6" rx="0.8" fill="#f0f0f0"/><circle cx="478.75" cy="610.75" r="9.2" fill="#35582f"/><circle cx="478.75" cy="610.75" r="8.5" fill="#f3ea2f"/><circle cx="478.75" cy="610.75" r="4.5" fill="#8a8aae"/><circle cx="499.5" cy="610.75" r="9.2" fill="#35582f"/><circle cx="499.5" cy="610.75" r="8.5" fill="#f3ea2f"/><circle cx="499.5" cy="610.75" r="4.5" fill="#8a8aae"/><rect x="524.27" y="621.3" width="8.2" height="10.2" rx="2" fill="#e2e2e2"/><rect x="526.07" y="623.1" width="4.6" height="6.6" rx="0.8" fill="#f0f0f0"/><rect x="514" y="642.75" width="8.2" height="10.2" rx="2" fill="#e2e2e2"/><rect x="515.8" y="644.55" width="4.6" height="6.6" rx="0.8" fill="#f0f0f0"/><rect x="534.55" y="642.75" width="8.2" height="10.2" rx="2" fill="#e2e2e2"/><rect x="536.35" y="644.55" width="4.6" height="6.6" rx="0.8" fill="#f0f0f0"/><rect x="472.1" y="634.35" width="33.8" height="33.8" rx="1.5" fill="#35582f"/><rect x="472.8" y="635.05" width="32.4" height="32.4" rx="1" fill="#f3ea2f"/><circle cx="489" cy="651.25" r="9.5" fill="#8686aa"/><circle cx="488.75" cy="703.75" r="16.95" fill="#35582f"/><circle cx="488.75" cy="703.75" r="16.25" fill="#f3ea2f"/><circle cx="488.75" cy="703.75" r="9.5" fill="#8080a6"/><rect x="604.25" y="531.77" width="10" height="7.2" rx="2" fill="#e2e2e2"/><rect x="606.05" y="533.57" width="6.4" height="3.6" rx="0.8" fill="#f0f0f0"/><rect x="626" y="521.75" width="10" height="7.2" rx="2" fill="#e2e2e2"/><rect x="627.8" y="523.55" width="6.4" height="3.6" rx="0.8" fill="#f0f0f0"/><rect x="626" y="541.8" width="10" height="7.2" rx="2" fill="#e2e2e2"/><rect x="627.8" y="543.6" width="6.4" height="3.6" rx="0.8" fill="#f0f0f0"/><rect x="545.25" y="584.77" width="10" height="7.2" rx="2" fill="#e2e2e2"/><rect x="547.05" y="586.57" width="6.4" height="3.6" rx="0.8" fill="#f0f0f0"/><rect x="566.5" y="574" width="10" height="7.2" rx="2" fill="#e2e2e2"/><rect x="568.3" y="575.8" width="6.4" height="3.6" rx="0.8" fill="#f0f0f0"/><rect x="566.5" y="595.55" width="10" height="7.2" rx="2" fill="#e2e2e2"/><rect x="568.3" y="597.35" width="6.4" height="3.6" rx="0.8" fill="#f0f0f0"/><rect x="604.25" y="584.77" width="10" height="7.2" rx="2" fill="#e2e2e2"/><rect x="606.05" y="586.57" width="6.4" height="3.6" rx="0.8" fill="#f0f0f0"/><rect x="626" y="574" width="10" height="7.2" rx="2" fill="#e2e2e2"/><rect x="627.8" y="575.8" width="6.4" height="3.6" rx="0.8" fill="#f0f0f0"/><rect x="626" y="595.55" width="10" height="7.2" rx="2" fill="#e2e2e2"/><rect x="627.8" y="597.35" width="6.4" height="3.6" rx="0.8" fill="#f0f0f0"/><rect x="709.85" y="531.77" width="10" height="7.2" rx="2" fill="#e2e2e2"/><rect x="711.65" y="533.57" width="6.4" height="3.6" rx="0.8" fill="#f0f0f0"/><rect x="731.6" y="521.75" width="10" height="7.2" rx="2" fill="#e2e2e2"/><rect x="733.4" y="523.55" width="6.4" height="3.6" rx="0.8" fill="#f0f0f0"/><rect x="731.6" y="541.8" width="10" height="7.2" rx="2" fill="#e2e2e2"/><rect x="733.4" y="543.6" width="6.4" height="3.6" rx="0.8" fill="#f0f0f0"/><rect x="650.85" y="584.77" width="10" height="7.2" rx="2" fill="#e2e2e2"/><rect x="652.65" y="586.57" width="6.4" height="3.6" rx="0.8" fill="#f0f0f0"/><rect x="672.1" y="574" width="10" height="7.2" rx="2" fill="#e2e2e2"/><rect x="673.9" y="575.8" width="6.4" height="3.6" rx="0.8" fill="#f0f0f0"/><rect x="672.1" y="595.55" width="10" height="7.2" rx="2" fill="#e2e2e2"/><rect x="673.9" y="597.35" width="6.4" height="3.6" rx="0.8" fill="#f0f0f0"/><rect x="709.85" y="584.77" width="10" height="7.2" rx="2" fill="#e2e2e2"/><rect x="711.65" y="586.57" width="6.4" height="3.6" rx="0.8" fill="#f0f0f0"/><rect x="731.6" y="574" width="10" height="7.2" rx="2" fill="#e2e2e2"/><rect x="733.4" y="575.8" width="6.4" height="3.6" rx="0.8" fill="#f0f0f0"/><rect x="731.6" y="595.55" width="10" height="7.2" rx="2" fill="#e2e2e2"/><rect x="733.4" y="597.35" width="6.4" height="3.6" rx="0.8" fill="#f0f0f0"/><rect x="815.45" y="531.77" width="10" height="7.2" rx="2" fill="#e2e2e2"/><rect x="817.25" y="533.57" width="6.4" height="3.6" rx="0.8" fill="#f0f0f0"/><rect x="837.2" y="521.75" width="10" height="7.2" rx="2" fill="#e2e2e2"/><rect x="839" y="523.55" width="6.4" height="3.6" rx="0.8" fill="#f0f0f0"/><rect x="837.2" y="541.8" width="10" height="7.2" rx="2" fill="#e2e2e2"/><rect x="839" y="543.6" width="6.4" height="3.6" rx="0.8" fill="#f0f0f0"/><rect x="756.45" y="584.77" width="10" height="7.2" rx="2" fill="#e2e2e2"/><rect x="758.25" y="586.57" width="6.4" height="3.6" rx="0.8" fill="#f0f0f0"/><rect x="777.7" y="574" width="10" height="7.2" rx="2" fill="#e2e2e2"/><rect x="779.5" y="575.8" width="6.4" height="3.6" rx="0.8" fill="#f0f0f0"/><rect x="777.7" y="595.55" width="10" height="7.2" rx="2" fill="#e2e2e2"/><rect x="779.5" y="597.35" width="6.4" height="3.6" rx="0.8" fill="#f0f0f0"/><rect x="815.45" y="584.77" width="10" height="7.2" rx="2" fill="#e2e2e2"/><rect x="817.25" y="586.57" width="6.4" height="3.6" rx="0.8" fill="#f0f0f0"/><rect x="837.2" y="574" width="10" height="7.2" rx="2" fill="#e2e2e2"/><rect x="839" y="575.8" width="6.4" height="3.6" rx="0.8" fill="#f0f0f0"/><rect x="837.2" y="595.55" width="10" height="7.2" rx="2" fill="#e2e2e2"/><rect x="839" y="597.35" width="6.4" height="3.6" rx="0.8" fill="#f0f0f0"/><rect x="921.05" y="531.77" width="10" height="7.2" rx="2" fill="#e2e2e2"/><rect x="922.85" y="533.57" width="6.4" height="3.6" rx="0.8" fill="#f0f0f0"/><rect x="942.8" y="521.75" width="10" height="7.2" rx="2" fill="#e2e2e2"/><rect x="944.6" y="523.55" width="6.4" height="3.6" rx="0.8" fill="#f0f0f0"/><rect x="942.8" y="541.8" width="10" height="7.2" rx="2" fill="#e2e2e2"/><rect x="944.6" y="543.6" width="6.4" height="3.6" rx="0.8" fill="#f0f0f0"/><rect x="862.05" y="584.77" width="10" height="7.2" rx="2" fill="#e2e2e2"/><rect x="863.85" y="586.57" width="6.4" height="3.6" rx="0.8" fill="#f0f0f0"/><rect x="883.3" y="574" width="10" height="7.2" rx="2" fill="#e2e2e2"/><rect x="885.1" y="575.8" width="6.4" height="3.6" rx="0.8" fill="#f0f0f0"/><rect x="883.3" y="595.55" width="10" height="7.2" rx="2" fill="#e2e2e2"/><rect x="885.1" y="597.35" width="6.4" height="3.6" rx="0.8" fill="#f0f0f0"/><rect x="921.05" y="584.77" width="10" height="7.2" rx="2" fill="#e2e2e2"/><rect x="922.85" y="586.57" width="6.4" height="3.6" rx="0.8" fill="#f0f0f0"/><rect x="942.8" y="574" width="10" height="7.2" rx="2" fill="#e2e2e2"/><rect x="944.6" y="575.8" width="6.4" height="3.6" rx="0.8" fill="#f0f0f0"/><rect x="942.8" y="595.55" width="10" height="7.2" rx="2" fill="#e2e2e2"/><rect x="944.6" y="597.35" width="6.4" height="3.6" rx="0.8" fill="#f0f0f0"/><rect x="1026.65" y="531.77" width="10" height="7.2" rx="2" fill="#e2e2e2"/><rect x="1028.45" y="533.57" width="6.4" height="3.6" rx="0.8" fill="#f0f0f0"/><rect x="1048.4" y="521.75" width="10" height="7.2" rx="2" fill="#e2e2e2"/><rect x="1050.2" y="523.55" width="6.4" height="3.6" rx="0.8" fill="#f0f0f0"/><rect x="1048.4" y="541.8" width="10" height="7.2" rx="2" fill="#e2e2e2"/><rect x="1050.2" y="543.6" width="6.4" height="3.6" rx="0.8" fill="#f0f0f0"/><rect x="967.65" y="584.77" width="10" height="7.2" rx="2" fill="#e2e2e2"/><rect x="969.45" y="586.57" width="6.4" height="3.6" rx="0.8" fill="#f0f0f0"/><rect x="988.9" y="574" width="10" height="7.2" rx="2" fill="#e2e2e2"/><rect x="990.7" y="575.8" width="6.4" height="3.6" rx="0.8" fill="#f0f0f0"/><rect x="988.9" y="595.55" width="10" height="7.2" rx="2" fill="#e2e2e2"/><rect x="990.7" y="597.35" width="6.4" height="3.6" rx="0.8" fill="#f0f0f0"/><rect x="1026.65" y="584.77" width="10" height="7.2" rx="2" fill="#e2e2e2"/><rect x="1028.45" y="586.57" width="6.4" height="3.6" rx="0.8" fill="#f0f0f0"/><rect x="1048.4" y="574" width="10" height="7.2" rx="2" fill="#e2e2e2"/><rect x="1050.2" y="575.8" width="6.4" height="3.6" rx="0.8" fill="#f0f0f0"/><rect x="1048.4" y="595.55" width="10" height="7.2" rx="2" fill="#e2e2e2"/><rect x="1050.2" y="597.35" width="6.4" height="3.6" rx="0.8" fill="#f0f0f0"/><rect x="1132.25" y="531.77" width="10" height="7.2" rx="2" fill="#e2e2e2"/><rect x="1134.05" y="533.57" width="6.4" height="3.6" rx="0.8" fill="#f0f0f0"/><rect x="1154" y="521.75" width="10" height="7.2" rx="2" fill="#e2e2e2"/><rect x="1155.8" y="523.55" width="6.4" height="3.6" rx="0.8" fill="#f0f0f0"/><rect x="1154" y="541.8" width="10" height="7.2" rx="2" fill="#e2e2e2"/><rect x="1155.8" y="543.6" width="6.4" height="3.6" rx="0.8" fill="#f0f0f0"/><rect x="1073.25" y="584.77" width="10" height="7.2" rx="2" fill="#e2e2e2"/><rect x="1075.05" y="586.57" width="6.4" height="3.6" rx="0.8" fill="#f0f0f0"/><rect x="1094.5" y="574" width="10" height="7.2" rx="2" fill="#e2e2e2"/><rect x="1096.3" y="575.8" width="6.4" height="3.6" rx="0.8" fill="#f0f0f0"/><rect x="1094.5" y="595.55" width="10" height="7.2" rx="2" fill="#e2e2e2"/><rect x="1096.3" y="597.35" width="6.4" height="3.6" rx="0.8" fill="#f0f0f0"/><rect x="1132.25" y="584.77" width="10" height="7.2" rx="2" fill="#e2e2e2"/><rect x="1134.05" y="586.57" width="6.4" height="3.6" rx="0.8" fill="#f0f0f0"/><rect x="1154" y="574" width="10" height="7.2" rx="2" fill="#e2e2e2"/><rect x="1155.8" y="575.8" width="6.4" height="3.6" rx="0.8" fill="#f0f0f0"/><rect x="1154" y="595.55" width="10" height="7.2" rx="2" fill="#e2e2e2"/><rect x="1155.8" y="597.35" width="6.4" height="3.6" rx="0.8" fill="#f0f0f0"/><rect x="1237.85" y="531.77" width="10" height="7.2" rx="2" fill="#e2e2e2"/><rect x="1239.65" y="533.57" width="6.4" height="3.6" rx="0.8" fill="#f0f0f0"/><rect x="1259.6" y="521.75" width="10" height="7.2" rx="2" fill="#e2e2e2"/><rect x="1261.4" y="523.55" width="6.4" height="3.6" rx="0.8" fill="#f0f0f0"/><rect x="1259.6" y="541.8" width="10" height="7.2" rx="2" fill="#e2e2e2"/><rect x="1261.4" y="543.6" width="6.4" height="3.6" rx="0.8" fill="#f0f0f0"/><rect x="1178.85" y="584.77" width="10" height="7.2" rx="2" fill="#e2e2e2"/><rect x="1180.65" y="586.57" width="6.4" height="3.6" rx="0.8" fill="#f0f0f0"/><rect x="1200.1" y="574" width="10" height="7.2" rx="2" fill="#e2e2e2"/><rect x="1201.9" y="575.8" width="6.4" height="3.6" rx="0.8" fill="#f0f0f0"/><rect x="1200.1" y="595.55" width="10" height="7.2" rx="2" fill="#e2e2e2"/><rect x="1201.9" y="597.35" width="6.4" height="3.6" rx="0.8" fill="#f0f0f0"/><rect x="1237.85" y="584.77" width="10" height="7.2" rx="2" fill="#e2e2e2"/><rect x="1239.65" y="586.57" width="6.4" height="3.6" rx="0.8" fill="#f0f0f0"/><rect x="1259.6" y="574" width="10" height="7.2" rx="2" fill="#e2e2e2"/><rect x="1261.4" y="575.8" width="6.4" height="3.6" rx="0.8" fill="#f0f0f0"/><rect x="1259.6" y="595.55" width="10" height="7.2" rx="2" fill="#e2e2e2"/><rect x="1261.4" y="597.35" width="6.4" height="3.6" rx="0.8" fill="#f0f0f0"/><rect x="1343.45" y="531.77" width="10" height="7.2" rx="2" fill="#e2e2e2"/><rect x="1345.25" y="533.57" width="6.4" height="3.6" rx="0.8" fill="#f0f0f0"/><rect x="1365.2" y="521.75" width="10" height="7.2" rx="2" fill="#e2e2e2"/><rect x="1367" y="523.55" width="6.4" height="3.6" rx="0.8" fill="#f0f0f0"/><rect x="1365.2" y="541.8" width="10" height="7.2" rx="2" fill="#e2e2e2"/><rect x="1367" y="543.6" width="6.4" height="3.6" rx="0.8" fill="#f0f0f0"/><rect x="1284.45" y="584.77" width="10" height="7.2" rx="2" fill="#e2e2e2"/><rect x="1286.25" y="586.57" width="6.4" height="3.6" rx="0.8" fill="#f0f0f0"/><rect x="1305.7" y="574" width="10" height="7.2" rx="2" fill="#e2e2e2"/><rect x="1307.5" y="575.8" width="6.4" height="3.6" rx="0.8" fill="#f0f0f0"/><rect x="1305.7" y="595.55" width="10" height="7.2" rx="2" fill="#e2e2e2"/><rect x="1307.5" y="597.35" width="6.4" height="3.6" rx="0.8" fill="#f0f0f0"/><rect x="1343.45" y="584.77" width="10" height="7.2" rx="2" fill="#e2e2e2"/><rect x="1345.25" y="586.57" width="6.4" height="3.6" rx="0.8" fill="#f0f0f0"/><rect x="1365.2" y="574" width="10" height="7.2" rx="2" fill="#e2e2e2"/><rect x="1367" y="575.8" width="6.4" height="3.6" rx="0.8" fill="#f0f0f0"/><rect x="1365.2" y="595.55" width="10" height="7.2" rx="2" fill="#e2e2e2"/><rect x="1367" y="597.35" width="6.4" height="3.6" rx="0.8" fill="#f0f0f0"/><rect x="1421" y="531.65" width="10" height="7.2" rx="2" fill="#e2e2e2"/><rect x="1422.8" y="533.45" width="6.4" height="3.6" rx="0.8" fill="#f0f0f0"/><rect x="1398.4" y="521.1" width="10" height="7.2" rx="2" fill="#e2e2e2"/><rect x="1400.2" y="522.9" width="6.4" height="3.6" rx="0.8" fill="#f0f0f0"/><rect x="1398.4" y="542.2" width="10" height="7.2" rx="2" fill="#e2e2e2"/><rect x="1400.2" y="544" width="6.4" height="3.6" rx="0.8" fill="#f0f0f0"/><rect x="1419.3" y="637.75" width="10" height="7.2" rx="2" fill="#e2e2e2"/><rect x="1421.1" y="639.55" width="6.4" height="3.6" rx="0.8" fill="#f0f0f0"/><rect x="1397.8" y="627.2" width="10" height="7.2" rx="2" fill="#e2e2e2"/><rect x="1399.6" y="629" width="6.4" height="3.6" rx="0.8" fill="#f0f0f0"/><rect x="1397.8" y="648.3" width="10" height="7.2" rx="2" fill="#e2e2e2"/><rect x="1399.6" y="650.1" width="6.4" height="3.6" rx="0.8" fill="#f0f0f0"/><rect x="1446" y="604.1" width="20.6" height="20.6" rx="2" fill="#35582f"/><rect x="1446.7" y="604.8" width="19.2" height="19.2" rx="1.5" fill="#f3ea2f"/><circle cx="1456.3" cy="614.4" r="3.2" fill="#e8e8e8"/><circle cx="1456.3" cy="641" r="10.5" fill="#35582f"/><circle cx="1456.3" cy="641" r="9.8" fill="#f3ea2f"/><circle cx="1456.3" cy="641" r="3.2" fill="#e8e8e8"/><circle cx="1456.3" cy="667" r="10.5" fill="#35582f"/><circle cx="1456.3" cy="667" r="9.8" fill="#f3ea2f"/><circle cx="1456.3" cy="667" r="3.2" fill="#e8e8e8"/><rect x="592" y="650.5" width="6.75" height="17.5" rx="2.3" fill="#efefef"/><rect x="592" y="705" width="6.75" height="17.5" rx="2.3" fill="#efefef"/><rect x="605.2" y="650.5" width="6.75" height="17.5" rx="2.3" fill="#efefef"/><rect x="605.2" y="705" width="6.75" height="17.5" rx="2.3" fill="#efefef"/><rect x="618.8" y="650.5" width="6.75" height="17.5" rx="2.3" fill="#efefef"/><rect x="618.8" y="705" width="6.75" height="17.5" rx="2.3" fill="#efefef"/><rect x="632" y="650.5" width="6.75" height="17.5" rx="2.3" fill="#efefef"/><rect x="632" y="705" width="6.75" height="17.5" rx="2.3" fill="#efefef"/><rect x="555.5" y="668" width="17" height="10.75" fill="#f3ea2f"/><rect x="555.5" y="681.25" width="17" height="11.25" fill="#f3ea2f"/><rect x="555.5" y="695" width="17" height="11.25" fill="#f3ea2f"/><rect x="674.25" y="634" width="6.75" height="23.5" rx="2.36" fill="#efefef"/><rect x="674.25" y="730.5" width="6.75" height="23.5" rx="2.36" fill="#efefef"/><rect x="687.61" y="634" width="6.75" height="23.5" rx="2.36" fill="#efefef"/><rect x="687.61" y="730.5" width="6.75" height="23.5" rx="2.36" fill="#efefef"/><rect x="700.97" y="634" width="6.75" height="23.5" rx="2.36" fill="#efefef"/><rect x="700.97" y="730.5" width="6.75" height="23.5" rx="2.36" fill="#efefef"/><rect x="714.33" y="634" width="6.75" height="23.5" rx="2.36" fill="#efefef"/><rect x="714.33" y="730.5" width="6.75" height="23.5" rx="2.36" fill="#efefef"/><rect x="727.69" y="634" width="6.75" height="23.5" rx="2.36" fill="#efefef"/><rect x="727.69" y="730.5" width="6.75" height="23.5" rx="2.36" fill="#efefef"/><rect x="741.05" y="634" width="6.75" height="23.5" rx="2.36" fill="#efefef"/><rect x="741.05" y="730.5" width="6.75" height="23.5" rx="2.36" fill="#efefef"/><rect x="754.41" y="634" width="6.75" height="23.5" rx="2.36" fill="#efefef"/><rect x="754.41" y="730.5" width="6.75" height="23.5" rx="2.36" fill="#efefef"/><rect x="767.77" y="634" width="6.75" height="23.5" rx="2.36" fill="#efefef"/><rect x="767.77" y="730.5" width="6.75" height="23.5" rx="2.36" fill="#efefef"/><rect x="781.13" y="634" width="6.75" height="23.5" rx="2.36" fill="#efefef"/><rect x="781.13" y="730.5" width="6.75" height="23.5" rx="2.36" fill="#efefef"/><rect x="794.49" y="634" width="6.75" height="23.5" rx="2.36" fill="#efefef"/><rect x="794.49" y="730.5" width="6.75" height="23.5" rx="2.36" fill="#efefef"/><rect x="807.85" y="634" width="6.75" height="23.5" rx="2.36" fill="#efefef"/><rect x="807.85" y="730.5" width="6.75" height="23.5" rx="2.36" fill="#efefef"/><rect x="821.21" y="634" width="6.75" height="23.5" rx="2.36" fill="#efefef"/><rect x="821.21" y="730.5" width="6.75" height="23.5" rx="2.36" fill="#efefef"/><rect x="884.25" y="634" width="6.75" height="23.5" rx="2.36" fill="#efefef"/><rect x="884.25" y="730.5" width="6.75" height="23.5" rx="2.36" fill="#efefef"/><rect x="897.61" y="634" width="6.75" height="23.5" rx="2.36" fill="#efefef"/><rect x="897.61" y="730.5" width="6.75" height="23.5" rx="2.36" fill="#efefef"/><rect x="910.97" y="634" width="6.75" height="23.5" rx="2.36" fill="#efefef"/><rect x="910.97" y="730.5" width="6.75" height="23.5" rx="2.36" fill="#efefef"/><rect x="924.33" y="634" width="6.75" height="23.5" rx="2.36" fill="#efefef"/><rect x="924.33" y="730.5" width="6.75" height="23.5" rx="2.36" fill="#efefef"/><rect x="937.69" y="634" width="6.75" height="23.5" rx="2.36" fill="#efefef"/><rect x="937.69" y="730.5" width="6.75" height="23.5" rx="2.36" fill="#efefef"/><rect x="951.05" y="634" width="6.75" height="23.5" rx="2.36" fill="#efefef"/><rect x="951.05" y="730.5" width="6.75" height="23.5" rx="2.36" fill="#efefef"/><rect x="964.41" y="634" width="6.75" height="23.5" rx="2.36" fill="#efefef"/><rect x="964.41" y="730.5" width="6.75" height="23.5" rx="2.36" fill="#efefef"/><rect x="977.77" y="634" width="6.75" height="23.5" rx="2.36" fill="#efefef"/><rect x="977.77" y="730.5" width="6.75" height="23.5" rx="2.36" fill="#efefef"/><rect x="991.13" y="634" width="6.75" height="23.5" rx="2.36" fill="#efefef"/><rect x="991.13" y="730.5" width="6.75" height="23.5" rx="2.36" fill="#efefef"/><rect x="1004.49" y="634" width="6.75" height="23.5" rx="2.36" fill="#efefef"/><rect x="1004.49" y="730.5" width="6.75" height="23.5" rx="2.36" fill="#efefef"/><rect x="1017.85" y="634" width="6.75" height="23.5" rx="2.36" fill="#efefef"/><rect x="1017.85" y="730.5" width="6.75" height="23.5" rx="2.36" fill="#efefef"/><rect x="1031.21" y="634" width="6.75" height="23.5" rx="2.36" fill="#efefef"/><rect x="1031.21" y="730.5" width="6.75" height="23.5" rx="2.36" fill="#efefef"/><rect x="1093.75" y="634" width="6.75" height="23.5" rx="2.36" fill="#efefef"/><rect x="1093.75" y="730.5" width="6.75" height="23.5" rx="2.36" fill="#efefef"/><rect x="1107.11" y="634" width="6.75" height="23.5" rx="2.36" fill="#efefef"/><rect x="1107.11" y="730.5" width="6.75" height="23.5" rx="2.36" fill="#efefef"/><rect x="1120.47" y="634" width="6.75" height="23.5" rx="2.36" fill="#efefef"/><rect x="1120.47" y="730.5" width="6.75" height="23.5" rx="2.36" fill="#efefef"/><rect x="1133.83" y="634" width="6.75" height="23.5" rx="2.36" fill="#efefef"/><rect x="1133.83" y="730.5" width="6.75" height="23.5" rx="2.36" fill="#efefef"/><rect x="1147.19" y="634" width="6.75" height="23.5" rx="2.36" fill="#efefef"/><rect x="1147.19" y="730.5" width="6.75" height="23.5" rx="2.36" fill="#efefef"/><rect x="1160.55" y="634" width="6.75" height="23.5" rx="2.36" fill="#efefef"/><rect x="1160.55" y="730.5" width="6.75" height="23.5" rx="2.36" fill="#efefef"/><rect x="1173.91" y="634" width="6.75" height="23.5" rx="2.36" fill="#efefef"/><rect x="1173.91" y="730.5" width="6.75" height="23.5" rx="2.36" fill="#efefef"/><rect x="1187.27" y="634" width="6.75" height="23.5" rx="2.36" fill="#efefef"/><rect x="1187.27" y="730.5" width="6.75" height="23.5" rx="2.36" fill="#efefef"/><rect x="1200.63" y="634" width="6.75" height="23.5" rx="2.36" fill="#efefef"/><rect x="1200.63" y="730.5" width="6.75" height="23.5" rx="2.36" fill="#efefef"/><rect x="1213.99" y="634" width="6.75" height="23.5" rx="2.36" fill="#efefef"/><rect x="1213.99" y="730.5" width="6.75" height="23.5" rx="2.36" fill="#efefef"/><rect x="1227.35" y="634" width="6.75" height="23.5" rx="2.36" fill="#efefef"/><rect x="1227.35" y="730.5" width="6.75" height="23.5" rx="2.36" fill="#efefef"/><rect x="1240.71" y="634" width="6.75" height="23.5" rx="2.36" fill="#efefef"/><rect x="1240.71" y="730.5" width="6.75" height="23.5" rx="2.36" fill="#efefef"/><rect x="603.5" y="807.15" width="10" height="7.2" rx="2" fill="#e2e2e2"/><rect x="605.3" y="808.95" width="6.4" height="3.6" rx="0.8" fill="#f0f0f0"/><rect x="624.5" y="796.75" width="10" height="7.2" rx="2" fill="#e2e2e2"/><rect x="626.3" y="798.55" width="6.4" height="3.6" rx="0.8" fill="#f0f0f0"/><rect x="624.5" y="817.55" width="10" height="7.2" rx="2" fill="#e2e2e2"/><rect x="626.3" y="819.35" width="6.4" height="3.6" rx="0.8" fill="#f0f0f0"/><rect x="545.25" y="861.15" width="10" height="7.2" rx="2" fill="#e2e2e2"/><rect x="547.05" y="862.95" width="6.4" height="3.6" rx="0.8" fill="#f0f0f0"/><rect x="566.5" y="850.5" width="10" height="7.2" rx="2" fill="#e2e2e2"/><rect x="568.3" y="852.3" width="6.4" height="3.6" rx="0.8" fill="#f0f0f0"/><rect x="566.5" y="871.8" width="10" height="7.2" rx="2" fill="#e2e2e2"/><rect x="568.3" y="873.6" width="6.4" height="3.6" rx="0.8" fill="#f0f0f0"/><rect x="604.25" y="861.15" width="10" height="7.2" rx="2" fill="#e2e2e2"/><rect x="606.05" y="862.95" width="6.4" height="3.6" rx="0.8" fill="#f0f0f0"/><rect x="626" y="850.5" width="10" height="7.2" rx="2" fill="#e2e2e2"/><rect x="627.8" y="852.3" width="6.4" height="3.6" rx="0.8" fill="#f0f0f0"/><rect x="626" y="871.8" width="10" height="7.2" rx="2" fill="#e2e2e2"/><rect x="627.8" y="873.6" width="6.4" height="3.6" rx="0.8" fill="#f0f0f0"/><rect x="709.1" y="807.15" width="10" height="7.2" rx="2" fill="#e2e2e2"/><rect x="710.9" y="808.95" width="6.4" height="3.6" rx="0.8" fill="#f0f0f0"/><rect x="730.1" y="796.75" width="10" height="7.2" rx="2" fill="#e2e2e2"/><rect x="731.9" y="798.55" width="6.4" height="3.6" rx="0.8" fill="#f0f0f0"/><rect x="730.1" y="817.55" width="10" height="7.2" rx="2" fill="#e2e2e2"/><rect x="731.9" y="819.35" width="6.4" height="3.6" rx="0.8" fill="#f0f0f0"/><rect x="650.85" y="861.15" width="10" height="7.2" rx="2" fill="#e2e2e2"/><rect x="652.65" y="862.95" width="6.4" height="3.6" rx="0.8" fill="#f0f0f0"/><rect x="672.1" y="850.5" width="10" height="7.2" rx="2" fill="#e2e2e2"/><rect x="673.9" y="852.3" width="6.4" height="3.6" rx="0.8" fill="#f0f0f0"/><rect x="672.1" y="871.8" width="10" height="7.2" rx="2" fill="#e2e2e2"/><rect x="673.9" y="873.6" width="6.4" height="3.6" rx="0.8" fill="#f0f0f0"/><rect x="709.85" y="861.15" width="10" height="7.2" rx="2" fill="#e2e2e2"/><rect x="711.65" y="862.95" width="6.4" height="3.6" rx="0.8" fill="#f0f0f0"/><rect x="731.6" y="850.5" width="10" height="7.2" rx="2" fill="#e2e2e2"/><rect x="733.4" y="852.3" width="6.4" height="3.6" rx="0.8" fill="#f0f0f0"/><rect x="731.6" y="871.8" width="10" height="7.2" rx="2" fill="#e2e2e2"/><rect x="733.4" y="873.6" width="6.4" height="3.6" rx="0.8" fill="#f0f0f0"/><rect x="814.7" y="807.15" width="10" height="7.2" rx="2" fill="#e2e2e2"/><rect x="816.5" y="808.95" width="6.4" height="3.6" rx="0.8" fill="#f0f0f0"/><rect x="835.7" y="796.75" width="10" height="7.2" rx="2" fill="#e2e2e2"/><rect x="837.5" y="798.55" width="6.4" height="3.6" rx="0.8" fill="#f0f0f0"/><rect x="835.7" y="817.55" width="10" height="7.2" rx="2" fill="#e2e2e2"/><rect x="837.5" y="819.35" width="6.4" height="3.6" rx="0.8" fill="#f0f0f0"/><rect x="756.45" y="861.15" width="10" height="7.2" rx="2" fill="#e2e2e2"/><rect x="758.25" y="862.95" width="6.4" height="3.6" rx="0.8" fill="#f0f0f0"/><rect x="777.7" y="850.5" width="10" height="7.2" rx="2" fill="#e2e2e2"/><rect x="779.5" y="852.3" width="6.4" height="3.6" rx="0.8" fill="#f0f0f0"/><rect x="777.7" y="871.8" width="10" height="7.2" rx="2" fill="#e2e2e2"/><rect x="779.5" y="873.6" width="6.4" height="3.6" rx="0.8" fill="#f0f0f0"/><rect x="815.45" y="861.15" width="10" height="7.2" rx="2" fill="#e2e2e2"/><rect x="817.25" y="862.95" width="6.4" height="3.6" rx="0.8" fill="#f0f0f0"/><rect x="837.2" y="850.5" width="10" height="7.2" rx="2" fill="#e2e2e2"/><rect x="839" y="852.3" width="6.4" height="3.6" rx="0.8" fill="#f0f0f0"/><rect x="837.2" y="871.8" width="10" height="7.2" rx="2" fill="#e2e2e2"/><rect x="839" y="873.6" width="6.4" height="3.6" rx="0.8" fill="#f0f0f0"/><rect x="920.3" y="807.15" width="10" height="7.2" rx="2" fill="#e2e2e2"/><rect x="922.1" y="808.95" width="6.4" height="3.6" rx="0.8" fill="#f0f0f0"/><rect x="941.3" y="796.75" width="10" height="7.2" rx="2" fill="#e2e2e2"/><rect x="943.1" y="798.55" width="6.4" height="3.6" rx="0.8" fill="#f0f0f0"/><rect x="941.3" y="817.55" width="10" height="7.2" rx="2" fill="#e2e2e2"/><rect x="943.1" y="819.35" width="6.4" height="3.6" rx="0.8" fill="#f0f0f0"/><rect x="862.05" y="861.15" width="10" height="7.2" rx="2" fill="#e2e2e2"/><rect x="863.85" y="862.95" width="6.4" height="3.6" rx="0.8" fill="#f0f0f0"/><rect x="883.3" y="850.5" width="10" height="7.2" rx="2" fill="#e2e2e2"/><rect x="885.1" y="852.3" width="6.4" height="3.6" rx="0.8" fill="#f0f0f0"/><rect x="883.3" y="871.8" width="10" height="7.2" rx="2" fill="#e2e2e2"/><rect x="885.1" y="873.6" width="6.4" height="3.6" rx="0.8" fill="#f0f0f0"/><rect x="921.05" y="861.15" width="10" height="7.2" rx="2" fill="#e2e2e2"/><rect x="922.85" y="862.95" width="6.4" height="3.6" rx="0.8" fill="#f0f0f0"/><rect x="942.8" y="850.5" width="10" height="7.2" rx="2" fill="#e2e2e2"/><rect x="944.6" y="852.3" width="6.4" height="3.6" rx="0.8" fill="#f0f0f0"/><rect x="942.8" y="871.8" width="10" height="7.2" rx="2" fill="#e2e2e2"/><rect x="944.6" y="873.6" width="6.4" height="3.6" rx="0.8" fill="#f0f0f0"/><rect x="1025.9" y="807.15" width="10" height="7.2" rx="2" fill="#e2e2e2"/><rect x="1027.7" y="808.95" width="6.4" height="3.6" rx="0.8" fill="#f0f0f0"/><rect x="1046.9" y="796.75" width="10" height="7.2" rx="2" fill="#e2e2e2"/><rect x="1048.7" y="798.55" width="6.4" height="3.6" rx="0.8" fill="#f0f0f0"/><rect x="1046.9" y="817.55" width="10" height="7.2" rx="2" fill="#e2e2e2"/><rect x="1048.7" y="819.35" width="6.4" height="3.6" rx="0.8" fill="#f0f0f0"/><rect x="967.65" y="861.15" width="10" height="7.2" rx="2" fill="#e2e2e2"/><rect x="969.45" y="862.95" width="6.4" height="3.6" rx="0.8" fill="#f0f0f0"/><rect x="988.9" y="850.5" width="10" height="7.2" rx="2" fill="#e2e2e2"/><rect x="990.7" y="852.3" width="6.4" height="3.6" rx="0.8" fill="#f0f0f0"/><rect x="988.9" y="871.8" width="10" height="7.2" rx="2" fill="#e2e2e2"/><rect x="990.7" y="873.6" width="6.4" height="3.6" rx="0.8" fill="#f0f0f0"/><rect x="1026.65" y="861.15" width="10" height="7.2" rx="2" fill="#e2e2e2"/><rect x="1028.45" y="862.95" width="6.4" height="3.6" rx="0.8" fill="#f0f0f0"/><rect x="1048.4" y="850.5" width="10" height="7.2" rx="2" fill="#e2e2e2"/><rect x="1050.2" y="852.3" width="6.4" height="3.6" rx="0.8" fill="#f0f0f0"/><rect x="1048.4" y="871.8" width="10" height="7.2" rx="2" fill="#e2e2e2"/><rect x="1050.2" y="873.6" width="6.4" height="3.6" rx="0.8" fill="#f0f0f0"/><rect x="1131.5" y="807.15" width="10" height="7.2" rx="2" fill="#e2e2e2"/><rect x="1133.3" y="808.95" width="6.4" height="3.6" rx="0.8" fill="#f0f0f0"/><rect x="1152.5" y="796.75" width="10" height="7.2" rx="2" fill="#e2e2e2"/><rect x="1154.3" y="798.55" width="6.4" height="3.6" rx="0.8" fill="#f0f0f0"/><rect x="1152.5" y="817.55" width="10" height="7.2" rx="2" fill="#e2e2e2"/><rect x="1154.3" y="819.35" width="6.4" height="3.6" rx="0.8" fill="#f0f0f0"/><rect x="1073.25" y="861.15" width="10" height="7.2" rx="2" fill="#e2e2e2"/><rect x="1075.05" y="862.95" width="6.4" height="3.6" rx="0.8" fill="#f0f0f0"/><rect x="1094.5" y="850.5" width="10" height="7.2" rx="2" fill="#e2e2e2"/><rect x="1096.3" y="852.3" width="6.4" height="3.6" rx="0.8" fill="#f0f0f0"/><rect x="1094.5" y="871.8" width="10" height="7.2" rx="2" fill="#e2e2e2"/><rect x="1096.3" y="873.6" width="6.4" height="3.6" rx="0.8" fill="#f0f0f0"/><rect x="1132.25" y="861.15" width="10" height="7.2" rx="2" fill="#e2e2e2"/><rect x="1134.05" y="862.95" width="6.4" height="3.6" rx="0.8" fill="#f0f0f0"/><rect x="1154" y="850.5" width="10" height="7.2" rx="2" fill="#e2e2e2"/><rect x="1155.8" y="852.3" width="6.4" height="3.6" rx="0.8" fill="#f0f0f0"/><rect x="1154" y="871.8" width="10" height="7.2" rx="2" fill="#e2e2e2"/><rect x="1155.8" y="873.6" width="6.4" height="3.6" rx="0.8" fill="#f0f0f0"/><rect x="1237.1" y="807.15" width="10" height="7.2" rx="2" fill="#e2e2e2"/><rect x="1238.9" y="808.95" width="6.4" height="3.6" rx="0.8" fill="#f0f0f0"/><rect x="1258.1" y="796.75" width="10" height="7.2" rx="2" fill="#e2e2e2"/><rect x="1259.9" y="798.55" width="6.4" height="3.6" rx="0.8" fill="#f0f0f0"/><rect x="1258.1" y="817.55" width="10" height="7.2" rx="2" fill="#e2e2e2"/><rect x="1259.9" y="819.35" width="6.4" height="3.6" rx="0.8" fill="#f0f0f0"/><rect x="1178.85" y="861.15" width="10" height="7.2" rx="2" fill="#e2e2e2"/><rect x="1180.65" y="862.95" width="6.4" height="3.6" rx="0.8" fill="#f0f0f0"/><rect x="1200.1" y="850.5" width="10" height="7.2" rx="2" fill="#e2e2e2"/><rect x="1201.9" y="852.3" width="6.4" height="3.6" rx="0.8" fill="#f0f0f0"/><rect x="1200.1" y="871.8" width="10" height="7.2" rx="2" fill="#e2e2e2"/><rect x="1201.9" y="873.6" width="6.4" height="3.6" rx="0.8" fill="#f0f0f0"/><rect x="1237.85" y="861.15" width="10" height="7.2" rx="2" fill="#e2e2e2"/><rect x="1239.65" y="862.95" width="6.4" height="3.6" rx="0.8" fill="#f0f0f0"/><rect x="1259.6" y="850.5" width="10" height="7.2" rx="2" fill="#e2e2e2"/><rect x="1261.4" y="852.3" width="6.4" height="3.6" rx="0.8" fill="#f0f0f0"/><rect x="1259.6" y="871.8" width="10" height="7.2" rx="2" fill="#e2e2e2"/><rect x="1261.4" y="873.6" width="6.4" height="3.6" rx="0.8" fill="#f0f0f0"/><rect x="1342.7" y="807.15" width="10" height="7.2" rx="2" fill="#e2e2e2"/><rect x="1344.5" y="808.95" width="6.4" height="3.6" rx="0.8" fill="#f0f0f0"/><rect x="1363.7" y="796.75" width="10" height="7.2" rx="2" fill="#e2e2e2"/><rect x="1365.5" y="798.55" width="6.4" height="3.6" rx="0.8" fill="#f0f0f0"/><rect x="1363.7" y="817.55" width="10" height="7.2" rx="2" fill="#e2e2e2"/><rect x="1365.5" y="819.35" width="6.4" height="3.6" rx="0.8" fill="#f0f0f0"/><rect x="1284.45" y="861.15" width="10" height="7.2" rx="2" fill="#e2e2e2"/><rect x="1286.25" y="862.95" width="6.4" height="3.6" rx="0.8" fill="#f0f0f0"/><rect x="1305.7" y="850.5" width="10" height="7.2" rx="2" fill="#e2e2e2"/><rect x="1307.5" y="852.3" width="6.4" height="3.6" rx="0.8" fill="#f0f0f0"/><rect x="1305.7" y="871.8" width="10" height="7.2" rx="2" fill="#e2e2e2"/><rect x="1307.5" y="873.6" width="6.4" height="3.6" rx="0.8" fill="#f0f0f0"/><rect x="1343.45" y="861.15" width="10" height="7.2" rx="2" fill="#e2e2e2"/><rect x="1345.25" y="862.95" width="6.4" height="3.6" rx="0.8" fill="#f0f0f0"/><rect x="1365.2" y="850.5" width="10" height="7.2" rx="2" fill="#e2e2e2"/><rect x="1367" y="852.3" width="6.4" height="3.6" rx="0.8" fill="#f0f0f0"/><rect x="1365.2" y="871.8" width="10" height="7.2" rx="2" fill="#e2e2e2"/><rect x="1367" y="873.6" width="6.4" height="3.6" rx="0.8" fill="#f0f0f0"/><rect x="571.4" y="966.25" width="8.2" height="10.2" rx="2" fill="#e2e2e2"/><rect x="573.2" y="968.05" width="4.6" height="6.6" rx="0.8" fill="#f0f0f0"/><rect x="560.75" y="944.55" width="8.2" height="10.2" rx="2" fill="#e2e2e2"/><rect x="562.55" y="946.35" width="4.6" height="6.6" rx="0.8" fill="#f0f0f0"/><rect x="582.05" y="944.55" width="8.2" height="10.2" rx="2" fill="#e2e2e2"/><rect x="583.85" y="946.35" width="4.6" height="6.6" rx="0.8" fill="#f0f0f0"/><rect x="610.77" y="966.25" width="8.2" height="10.2" rx="2" fill="#e2e2e2"/><rect x="612.57" y="968.05" width="4.6" height="6.6" rx="0.8" fill="#f0f0f0"/><rect x="600.5" y="944.55" width="8.2" height="10.2" rx="2" fill="#e2e2e2"/><rect x="602.3" y="946.35" width="4.6" height="6.6" rx="0.8" fill="#f0f0f0"/><rect x="621.05" y="944.55" width="8.2" height="10.2" rx="2" fill="#e2e2e2"/><rect x="622.85" y="946.35" width="4.6" height="6.6" rx="0.8" fill="#f0f0f0"/><rect x="676.9" y="966.25" width="8.2" height="10.2" rx="2" fill="#e2e2e2"/><rect x="678.7" y="968.05" width="4.6" height="6.6" rx="0.8" fill="#f0f0f0"/><rect x="666.25" y="944.55" width="8.2" height="10.2" rx="2" fill="#e2e2e2"/><rect x="668.05" y="946.35" width="4.6" height="6.6" rx="0.8" fill="#f0f0f0"/><rect x="687.55" y="944.55" width="8.2" height="10.2" rx="2" fill="#e2e2e2"/><rect x="689.35" y="946.35" width="4.6" height="6.6" rx="0.8" fill="#f0f0f0"/><rect x="716.27" y="966.25" width="8.2" height="10.2" rx="2" fill="#e2e2e2"/><rect x="718.07" y="968.05" width="4.6" height="6.6" rx="0.8" fill="#f0f0f0"/><rect x="706" y="944.55" width="8.2" height="10.2" rx="2" fill="#e2e2e2"/><rect x="707.8" y="946.35" width="4.6" height="6.6" rx="0.8" fill="#f0f0f0"/><rect x="726.55" y="944.55" width="8.2" height="10.2" rx="2" fill="#e2e2e2"/><rect x="728.35" y="946.35" width="4.6" height="6.6" rx="0.8" fill="#f0f0f0"/><rect x="781.9" y="966.25" width="8.2" height="10.2" rx="2" fill="#e2e2e2"/><rect x="783.7" y="968.05" width="4.6" height="6.6" rx="0.8" fill="#f0f0f0"/><rect x="771.25" y="944.55" width="8.2" height="10.2" rx="2" fill="#e2e2e2"/><rect x="773.05" y="946.35" width="4.6" height="6.6" rx="0.8" fill="#f0f0f0"/><rect x="792.55" y="944.55" width="8.2" height="10.2" rx="2" fill="#e2e2e2"/><rect x="794.35" y="946.35" width="4.6" height="6.6" rx="0.8" fill="#f0f0f0"/><rect x="821.27" y="966.25" width="8.2" height="10.2" rx="2" fill="#e2e2e2"/><rect x="823.07" y="968.05" width="4.6" height="6.6" rx="0.8" fill="#f0f0f0"/><rect x="811" y="944.55" width="8.2" height="10.2" rx="2" fill="#e2e2e2"/><rect x="812.8" y="946.35" width="4.6" height="6.6" rx="0.8" fill="#f0f0f0"/><rect x="831.55" y="944.55" width="8.2" height="10.2" rx="2" fill="#e2e2e2"/><rect x="833.35" y="946.35" width="4.6" height="6.6" rx="0.8" fill="#f0f0f0"/><rect x="885.15" y="966.25" width="8.2" height="10.2" rx="2" fill="#e2e2e2"/><rect x="886.95" y="968.05" width="4.6" height="6.6" rx="0.8" fill="#f0f0f0"/><rect x="874.5" y="944.55" width="8.2" height="10.2" rx="2" fill="#e2e2e2"/><rect x="876.3" y="946.35" width="4.6" height="6.6" rx="0.8" fill="#f0f0f0"/><rect x="895.8" y="944.55" width="8.2" height="10.2" rx="2" fill="#e2e2e2"/><rect x="897.6" y="946.35" width="4.6" height="6.6" rx="0.8" fill="#f0f0f0"/><rect x="924.52" y="966.25" width="8.2" height="10.2" rx="2" fill="#e2e2e2"/><rect x="926.32" y="968.05" width="4.6" height="6.6" rx="0.8" fill="#f0f0f0"/><rect x="914.25" y="944.55" width="8.2" height="10.2" rx="2" fill="#e2e2e2"/><rect x="916.05" y="946.35" width="4.6" height="6.6" rx="0.8" fill="#f0f0f0"/><rect x="934.8" y="944.55" width="8.2" height="10.2" rx="2" fill="#e2e2e2"/><rect x="936.6" y="946.35" width="4.6" height="6.6" rx="0.8" fill="#f0f0f0"/><rect x="992.65" y="966.25" width="8.2" height="10.2" rx="2" fill="#e2e2e2"/><rect x="994.45" y="968.05" width="4.6" height="6.6" rx="0.8" fill="#f0f0f0"/><rect x="982" y="944.55" width="8.2" height="10.2" rx="2" fill="#e2e2e2"/><rect x="983.8" y="946.35" width="4.6" height="6.6" rx="0.8" fill="#f0f0f0"/><rect x="1003.3" y="944.55" width="8.2" height="10.2" rx="2" fill="#e2e2e2"/><rect x="1005.1" y="946.35" width="4.6" height="6.6" rx="0.8" fill="#f0f0f0"/><rect x="1032.03" y="966.25" width="8.2" height="10.2" rx="2" fill="#e2e2e2"/><rect x="1033.83" y="968.05" width="4.6" height="6.6" rx="0.8" fill="#f0f0f0"/><rect x="1021.75" y="944.55" width="8.2" height="10.2" rx="2" fill="#e2e2e2"/><rect x="1023.55" y="946.35" width="4.6" height="6.6" rx="0.8" fill="#f0f0f0"/><rect x="1042.3" y="944.55" width="8.2" height="10.2" rx="2" fill="#e2e2e2"/><rect x="1044.1" y="946.35" width="4.6" height="6.6" rx="0.8" fill="#f0f0f0"/><rect x="1098.15" y="966.25" width="8.2" height="10.2" rx="2" fill="#e2e2e2"/><rect x="1099.95" y="968.05" width="4.6" height="6.6" rx="0.8" fill="#f0f0f0"/><rect x="1087.5" y="944.55" width="8.2" height="10.2" rx="2" fill="#e2e2e2"/><rect x="1089.3" y="946.35" width="4.6" height="6.6" rx="0.8" fill="#f0f0f0"/><rect x="1108.8" y="944.55" width="8.2" height="10.2" rx="2" fill="#e2e2e2"/><rect x="1110.6" y="946.35" width="4.6" height="6.6" rx="0.8" fill="#f0f0f0"/><rect x="1137.53" y="966.25" width="8.2" height="10.2" rx="2" fill="#e2e2e2"/><rect x="1139.33" y="968.05" width="4.6" height="6.6" rx="0.8" fill="#f0f0f0"/><rect x="1127.25" y="944.55" width="8.2" height="10.2" rx="2" fill="#e2e2e2"/><rect x="1129.05" y="946.35" width="4.6" height="6.6" rx="0.8" fill="#f0f0f0"/><rect x="1147.8" y="944.55" width="8.2" height="10.2" rx="2" fill="#e2e2e2"/><rect x="1149.6" y="946.35" width="4.6" height="6.6" rx="0.8" fill="#f0f0f0"/><rect x="1198.65" y="966.25" width="8.2" height="10.2" rx="2" fill="#e2e2e2"/><rect x="1200.45" y="968.05" width="4.6" height="6.6" rx="0.8" fill="#f0f0f0"/><rect x="1188" y="944.55" width="8.2" height="10.2" rx="2" fill="#e2e2e2"/><rect x="1189.8" y="946.35" width="4.6" height="6.6" rx="0.8" fill="#f0f0f0"/><rect x="1209.3" y="944.55" width="8.2" height="10.2" rx="2" fill="#e2e2e2"/><rect x="1211.1" y="946.35" width="4.6" height="6.6" rx="0.8" fill="#f0f0f0"/><rect x="1240.53" y="966.25" width="8.2" height="10.2" rx="2" fill="#e2e2e2"/><rect x="1242.33" y="968.05" width="4.6" height="6.6" rx="0.8" fill="#f0f0f0"/><rect x="1230.25" y="944.55" width="8.2" height="10.2" rx="2" fill="#e2e2e2"/><rect x="1232.05" y="946.35" width="4.6" height="6.6" rx="0.8" fill="#f0f0f0"/><rect x="1250.8" y="944.55" width="8.2" height="10.2" rx="2" fill="#e2e2e2"/><rect x="1252.6" y="946.35" width="4.6" height="6.6" rx="0.8" fill="#f0f0f0"/><rect x="1301.25" y="966.25" width="8.2" height="10.2" rx="2" fill="#e2e2e2"/><rect x="1303.05" y="968.05" width="4.6" height="6.6" rx="0.8" fill="#f0f0f0"/><rect x="1290.6" y="944.55" width="8.2" height="10.2" rx="2" fill="#e2e2e2"/><rect x="1292.4" y="946.35" width="4.6" height="6.6" rx="0.8" fill="#f0f0f0"/><rect x="1311.9" y="944.55" width="8.2" height="10.2" rx="2" fill="#e2e2e2"/><rect x="1313.7" y="946.35" width="4.6" height="6.6" rx="0.8" fill="#f0f0f0"/><rect x="1344.62" y="966.25" width="8.2" height="10.2" rx="2" fill="#e2e2e2"/><rect x="1346.42" y="968.05" width="4.6" height="6.6" rx="0.8" fill="#f0f0f0"/><rect x="1334.35" y="944.55" width="8.2" height="10.2" rx="2" fill="#e2e2e2"/><rect x="1336.15" y="946.35" width="4.6" height="6.6" rx="0.8" fill="#f0f0f0"/><rect x="1354.9" y="944.55" width="8.2" height="10.2" rx="2" fill="#e2e2e2"/><rect x="1356.7" y="946.35" width="4.6" height="6.6" rx="0.8" fill="#f0f0f0"/><circle cx="591.25" cy="1009" r="10.2" fill="#35582f"/><circle cx="591.25" cy="1009" r="9.5" fill="#f3ea2f"/><circle cx="591.25" cy="1009" r="5" fill="#72729a"/><rect x="607.65" y="999.1" width="19.8" height="19.8" rx="3.5" fill="#35582f"/><rect x="608.35" y="999.8" width="18.4" height="18.4" rx="3" fill="#f3ea2f"/><circle cx="617.55" cy="1009" r="5" fill="#72729a"/><circle cx="696.7" cy="1009" r="10.2" fill="#35582f"/><circle cx="696.7" cy="1009" r="9.5" fill="#f3ea2f"/><circle cx="696.7" cy="1009" r="5" fill="#72729a"/><rect x="713.1" y="999.1" width="19.8" height="19.8" rx="3.5" fill="#35582f"/><rect x="713.8" y="999.8" width="18.4" height="18.4" rx="3" fill="#f3ea2f"/><circle cx="723" cy="1009" r="5" fill="#72729a"/><circle cx="802.15" cy="1009" r="10.2" fill="#35582f"/><circle cx="802.15" cy="1009" r="9.5" fill="#f3ea2f"/><circle cx="802.15" cy="1009" r="5" fill="#72729a"/><rect x="818.55" y="999.1" width="19.8" height="19.8" rx="3.5" fill="#35582f"/><rect x="819.25" y="999.8" width="18.4" height="18.4" rx="3" fill="#f3ea2f"/><circle cx="828.45" cy="1009" r="5" fill="#72729a"/><circle cx="907.6" cy="1009" r="10.2" fill="#35582f"/><circle cx="907.6" cy="1009" r="9.5" fill="#f3ea2f"/><circle cx="907.6" cy="1009" r="5" fill="#72729a"/><rect x="924" y="999.1" width="19.8" height="19.8" rx="3.5" fill="#35582f"/><rect x="924.7" y="999.8" width="18.4" height="18.4" rx="3" fill="#f3ea2f"/><circle cx="933.9" cy="1009" r="5" fill="#72729a"/><circle cx="1013.05" cy="1009" r="10.2" fill="#35582f"/><circle cx="1013.05" cy="1009" r="9.5" fill="#f3ea2f"/><circle cx="1013.05" cy="1009" r="5" fill="#72729a"/><rect x="1029.45" y="999.1" width="19.8" height="19.8" rx="3.5" fill="#35582f"/><rect x="1030.15" y="999.8" width="18.4" height="18.4" rx="3" fill="#f3ea2f"/><circle cx="1039.35" cy="1009" r="5" fill="#72729a"/><circle cx="1118.5" cy="1009" r="10.2" fill="#35582f"/><circle cx="1118.5" cy="1009" r="9.5" fill="#f3ea2f"/><circle cx="1118.5" cy="1009" r="5" fill="#72729a"/><rect x="1134.9" y="999.1" width="19.8" height="19.8" rx="3.5" fill="#35582f"/><rect x="1135.6" y="999.8" width="18.4" height="18.4" rx="3" fill="#f3ea2f"/><circle cx="1144.8" cy="1009" r="5" fill="#72729a"/><circle cx="1223.95" cy="1009" r="10.2" fill="#35582f"/><circle cx="1223.95" cy="1009" r="9.5" fill="#f3ea2f"/><circle cx="1223.95" cy="1009" r="5" fill="#72729a"/><rect x="1240.35" y="999.1" width="19.8" height="19.8" rx="3.5" fill="#35582f"/><rect x="1241.05" y="999.8" width="18.4" height="18.4" rx="3" fill="#f3ea2f"/><circle cx="1250.25" cy="1009" r="5" fill="#72729a"/><circle cx="1329.4" cy="1009" r="10.2" fill="#35582f"/><circle cx="1329.4" cy="1009" r="9.5" fill="#f3ea2f"/><circle cx="1329.4" cy="1009" r="5" fill="#72729a"/><rect x="1345.8" y="999.1" width="19.8" height="19.8" rx="3.5" fill="#35582f"/><rect x="1346.5" y="999.8" width="18.4" height="18.4" rx="3" fill="#f3ea2f"/><circle cx="1355.7" cy="1009" r="5" fill="#72729a"/><rect x="465.5" y="763.1" width="19.8" height="19.8" rx="2" fill="#35582f"/><rect x="466.2" y="763.8" width="18.4" height="18.4" rx="1.5" fill="#f3ea2f"/><circle cx="475.4" cy="773" r="5" fill="#7e7ea4"/><circle cx="475.4" cy="799.5" r="10" fill="#35582f"/><circle cx="475.4" cy="799.5" r="9.3" fill="#f3ea2f"/><circle cx="475.4" cy="799.5" r="5" fill="#7a7aa0"/><circle cx="475.4" cy="826.25" r="10" fill="#35582f"/><circle cx="475.4" cy="826.25" r="9.3" fill="#f3ea2f"/><circle cx="475.4" cy="826.25" r="5" fill="#7a7aa0"/><circle cx="475.4" cy="853" r="10" fill="#35582f"/><circle cx="475.4" cy="853" r="9.3" fill="#f3ea2f"/><circle cx="475.4" cy="853" r="5" fill="#7a7aa0"/><circle cx="475.4" cy="879.5" r="10" fill="#35582f"/><circle cx="475.4" cy="879.5" r="9.3" fill="#f3ea2f"/><circle cx="475.4" cy="879.5" r="5" fill="#7a7aa0"/><circle cx="475.4" cy="906.25" r="10" fill="#35582f"/><circle cx="475.4" cy="906.25" r="9.3" fill="#f3ea2f"/><circle cx="475.4" cy="906.25" r="5" fill="#7a7aa0"/><circle cx="475.4" cy="933" r="10" fill="#35582f"/><circle cx="475.4" cy="933" r="9.3" fill="#f3ea2f"/><circle cx="475.4" cy="933" r="5" fill="#7a7aa0"/><rect x="493.5" y="840.15" width="10" height="7.2" rx="2" fill="#e2e2e2"/><rect x="495.3" y="841.95" width="6.4" height="3.6" rx="0.8" fill="#f0f0f0"/><rect x="514.5" y="829.75" width="10" height="7.2" rx="2" fill="#e2e2e2"/><rect x="516.3" y="831.55" width="6.4" height="3.6" rx="0.8" fill="#f0f0f0"/><rect x="514.5" y="850.55" width="10" height="7.2" rx="2" fill="#e2e2e2"/><rect x="516.3" y="852.35" width="6.4" height="3.6" rx="0.8" fill="#f0f0f0"/><rect x="493.5" y="879.65" width="10" height="7.2" rx="2" fill="#e2e2e2"/><rect x="495.3" y="881.45" width="6.4" height="3.6" rx="0.8" fill="#f0f0f0"/><rect x="514.5" y="869.25" width="10" height="7.2" rx="2" fill="#e2e2e2"/><rect x="516.3" y="871.05" width="6.4" height="3.6" rx="0.8" fill="#f0f0f0"/><rect x="514.5" y="890.05" width="10" height="7.2" rx="2" fill="#e2e2e2"/><rect x="516.3" y="891.85" width="6.4" height="3.6" rx="0.8" fill="#f0f0f0"/><rect x="493.5" y="919.15" width="10" height="7.2" rx="2" fill="#e2e2e2"/><rect x="495.3" y="920.95" width="6.4" height="3.6" rx="0.8" fill="#f0f0f0"/><rect x="514.5" y="908.75" width="10" height="7.2" rx="2" fill="#e2e2e2"/><rect x="516.3" y="910.55" width="6.4" height="3.6" rx="0.8" fill="#f0f0f0"/><rect x="514.5" y="929.55" width="10" height="7.2" rx="2" fill="#e2e2e2"/><rect x="516.3" y="931.35" width="6.4" height="3.6" rx="0.8" fill="#f0f0f0"/><rect x="493.5" y="958.65" width="10" height="7.2" rx="2" fill="#e2e2e2"/><rect x="495.3" y="960.45" width="6.4" height="3.6" rx="0.8" fill="#f0f0f0"/><rect x="514.5" y="948.25" width="10" height="7.2" rx="2" fill="#e2e2e2"/><rect x="516.3" y="950.05" width="6.4" height="3.6" rx="0.8" fill="#f0f0f0"/><rect x="514.5" y="969.05" width="10" height="7.2" rx="2" fill="#e2e2e2"/><rect x="516.3" y="970.85" width="6.4" height="3.6" rx="0.8" fill="#f0f0f0"/><rect x="1410.25" y="877" width="8.2" height="10.2" rx="2" fill="#e2e2e2"/><rect x="1412.05" y="878.8" width="4.6" height="6.6" rx="0.8" fill="#f0f0f0"/><rect x="1400.5" y="898.2" width="8.2" height="10.2" rx="2" fill="#e2e2e2"/><rect x="1402.3" y="900" width="4.6" height="6.6" rx="0.8" fill="#f0f0f0"/><rect x="1420" y="898.2" width="8.2" height="10.2" rx="2" fill="#e2e2e2"/><rect x="1421.8" y="900" width="4.6" height="6.6" rx="0.8" fill="#f0f0f0"/><rect x="1451.65" y="877" width="8.2" height="10.2" rx="2" fill="#e2e2e2"/><rect x="1453.45" y="878.8" width="4.6" height="6.6" rx="0.8" fill="#f0f0f0"/><rect x="1441.9" y="898.2" width="8.2" height="10.2" rx="2" fill="#e2e2e2"/><rect x="1443.7" y="900" width="4.6" height="6.6" rx="0.8" fill="#f0f0f0"/><rect x="1461.4" y="898.2" width="8.2" height="10.2" rx="2" fill="#e2e2e2"/><rect x="1463.2" y="900" width="4.6" height="6.6" rx="0.8" fill="#f0f0f0"/><rect x="1451.65" y="922.3" width="8.2" height="10.2" rx="2" fill="#e2e2e2"/><rect x="1453.45" y="924.1" width="4.6" height="6.6" rx="0.8" fill="#f0f0f0"/><rect x="1441.9" y="944.2" width="8.2" height="10.2" rx="2" fill="#e2e2e2"/><rect x="1443.7" y="946" width="4.6" height="6.6" rx="0.8" fill="#f0f0f0"/><rect x="1461.4" y="944.2" width="8.2" height="10.2" rx="2" fill="#e2e2e2"/><rect x="1463.2" y="946" width="4.6" height="6.6" rx="0.8" fill="#f0f0f0"/></g>
<g><rect x="569.5" y="21.75" width="34.25" height="69.5" fill="none" stroke="#f2f2f2" stroke-width="1.3"/><rect x="565" y="66.25" width="4.5" height="11.25" fill="#f2f2f2"/><rect x="603.75" y="66.25" width="4.25" height="11.25" fill="#f2f2f2"/><polygon points="577.5,50.5 595.5,50.5 586.75,63" fill="#f2f2f2"/><path d="M577.5 63 L596.5 63" fill="none" stroke="#f2f2f2" stroke-width="1.3" stroke-linejoin="round" stroke-linecap="round"/><path d="M586.75 45 L586.75 67.5" fill="none" stroke="#f2f2f2" stroke-width="1.3" stroke-linejoin="round" stroke-linecap="round"/><path d="M518.75 132.5 L667.5 132.5 L667.5 400.75 L618.75 400.75 L618.75 444.5 L518.75 444.5 Z" fill="none" stroke="#f2f2f2" stroke-width="1.3" stroke-linejoin="round" stroke-linecap="round"/><rect x="523" y="137.5" width="39.5" height="38.25" fill="none" stroke="#f2f2f2" stroke-width="1.2"/><rect x="520" y="239.5" width="38.75" height="37.5" fill="none" stroke="#f2f2f2" stroke-width="1.2"/><rect x="584.5" y="280" width="35.5" height="18" rx="9" fill="none" stroke="#f2f2f2" stroke-width="1.2"/><rect x="552.5" y="318" width="26.75" height="57.75" rx="13.38" fill="none" stroke="#f2f2f2" stroke-width="1.2"/><path d="M586 342 L586 360" fill="none" stroke="#f2f2f2" stroke-width="1" stroke-linejoin="round" stroke-linecap="round"/><path d="M619 342 L619 360" fill="none" stroke="#f2f2f2" stroke-width="1" stroke-linejoin="round" stroke-linecap="round"/><polygon points="618.5,337 622.5,334.5 622.5,339.5" fill="#f2f2f2"/><rect x="622.5" y="355" width="18" height="36.25" rx="9" fill="none" stroke="#f2f2f2" stroke-width="1.2"/><rect x="525.75" y="381.25" width="21.75" height="42" rx="10.88" fill="none" stroke="#f2f2f2" stroke-width="1.2"/><rect x="554.5" y="381.25" width="22.25" height="42" rx="11.12" fill="none" stroke="#f2f2f2" stroke-width="1.2"/><rect x="557.5" y="445.5" width="41.25" height="19" rx="9.5" fill="none" stroke="#f2f2f2" stroke-width="1.2"/><rect x="675" y="21.25" width="421.25" height="236.25" fill="none" stroke="#f2f2f2" stroke-width="1.3"/><rect x="680" y="32" width="26" height="55.5" rx="13" fill="none" stroke="#f2f2f2" stroke-width="1.2"/><path d="M788 32 L795 25.5 L828 25.5 L828 82.5 L788 82.5 Z" fill="none" stroke="#f2f2f2" stroke-width="1.2" stroke-linejoin="round" stroke-linecap="round"/><rect x="752" y="97.5" width="36" height="18" rx="9" fill="none" stroke="#f2f2f2" stroke-width="1.2"/><path d="M758 139 L782 139" fill="none" stroke="#f2f2f2" stroke-width="1.8" stroke-linejoin="round" stroke-linecap="round"/><rect x="764.5" y="189.5" width="16.5" height="36.5" rx="8.25" fill="none" stroke="#f2f2f2" stroke-width="1.2"/><rect x="782" y="189.5" width="16.75" height="36.5" rx="8.38" fill="none" stroke="#f2f2f2" stroke-width="1.2"/><path d="M882 105 L849.5 105 L849.5 238 L882 238" fill="none" stroke="#f2f2f2" stroke-width="1.2" stroke-linejoin="round" stroke-linecap="round"/><path d="M950 105 L982.5 105 L982.5 238 L950 238" fill="none" stroke="#f2f2f2" stroke-width="1.2" stroke-linejoin="round" stroke-linecap="round"/><path d="M1001.25 143.75 L1001.25 187.5" fill="none" stroke="#f2f2f2" stroke-width="1.2" stroke-linejoin="round" stroke-linecap="round"/><path d="M1037 152.5 L1037 196.25" fill="none" stroke="#f2f2f2" stroke-width="1.2" stroke-linejoin="round" stroke-linecap="round"/><rect x="874.5" y="36.25" width="70" height="34.5" fill="none" stroke="#f2f2f2" stroke-width="1.2"/><rect x="889.5" y="32.5" width="11" height="3.75" fill="#f2f2f2"/><rect x="889.5" y="70.75" width="11" height="3.75" fill="#f2f2f2"/><polygon points="902.5,54.25 916.25,45 916.25,63" fill="#f2f2f2"/><path d="M902.5 45 L902.5 63.75" fill="none" stroke="#f2f2f2" stroke-width="1.3" stroke-linejoin="round" stroke-linecap="round"/><path d="M897.5 54.25 L921.25 54.25" fill="none" stroke="#f2f2f2" stroke-width="1.3" stroke-linejoin="round" stroke-linecap="round"/><rect x="980.75" y="38.75" width="26.25" height="57.5" rx="13.12" fill="none" stroke="#f2f2f2" stroke-width="1.2"/><rect x="1013.75" y="55.5" width="38.75" height="38.25" fill="none" stroke="#f2f2f2" stroke-width="1.2"/><rect x="1062.5" y="21.25" width="35" height="16.75" rx="8.38" fill="none" stroke="#f2f2f2" stroke-width="1.2"/><path d="M1061.25 61 L1061.25 79" fill="none" stroke="#f2f2f2" stroke-width="1" stroke-linejoin="round" stroke-linecap="round"/><rect x="1093.75" y="53.75" width="3.75" height="5" fill="#f2f2f2"/><rect x="1253" y="25" width="18" height="36" rx="9" fill="none" stroke="#f2f2f2" stroke-width="1.2"/><rect x="1252.5" y="68" width="18.25" height="36.5" rx="9.12" fill="none" stroke="#f2f2f2" stroke-width="1.2"/><rect x="1230.75" y="100.5" width="18" height="35.5" rx="9" fill="none" stroke="#f2f2f2" stroke-width="1.2"/><path d="M1322.5 39.5 L1322.5 56.5" fill="none" stroke="#f2f2f2" stroke-width="1" stroke-linejoin="round" stroke-linecap="round"/><path d="M1356 39.5 L1356 56.5" fill="none" stroke="#f2f2f2" stroke-width="1" stroke-linejoin="round" stroke-linecap="round"/><polygon points="1319.5,59 1323.5,61.5 1319.5,64" fill="#f2f2f2"/><rect x="1398.3" y="21.6" width="18.4" height="37.2" rx="9.2" fill="none" stroke="#f2f2f2" stroke-width="1.2"/><rect x="1433" y="84.7" width="42" height="21.3" rx="10.65" fill="none" stroke="#f2f2f2" stroke-width="1.2"/><path d="M1283 117.5 L1274 117.5 L1274 307.7 L1283 307.7" fill="none" stroke="#f2f2f2" stroke-width="1.2" stroke-linejoin="round" stroke-linecap="round"/><path d="M1472.5 117.5 L1481 117.5" fill="none" stroke="#f2f2f2" stroke-width="1.2" stroke-linejoin="round" stroke-linecap="round"/><path d="M1472.5 307.7 L1481 307.7" fill="none" stroke="#f2f2f2" stroke-width="1.2" stroke-linejoin="round" stroke-linecap="round"/><rect x="1096.25" y="145" width="158.25" height="171.2" fill="none" stroke="#f2f2f2" stroke-width="1.3"/><rect x="1094.8" y="166.2" width="21.5" height="43.8" rx="10.5" fill="none" stroke="#f2f2f2" stroke-width="1.2"/><polygon points="1127,196.5 1132.5,196.5 1129.75,200.5" fill="#f2f2f2"/><rect x="1151.25" y="178.75" width="36.75" height="17.5" rx="8.75" fill="none" stroke="#f2f2f2" stroke-width="1.2"/><rect x="1112.5" y="237.5" width="57.5" height="26.25" rx="13.12" fill="none" stroke="#f2f2f2" stroke-width="1.2"/><rect x="1172.5" y="239.5" width="41.25" height="21.75" rx="10.88" fill="none" stroke="#f2f2f2" stroke-width="1.2"/><rect x="1173" y="266.6" width="41" height="20.9" rx="10.45" fill="none" stroke="#f2f2f2" stroke-width="1.2"/><rect x="1416.5" y="356" width="36.3" height="16.6" rx="8.3" fill="none" stroke="#f2f2f2" stroke-width="1.2"/><rect x="1454.3" y="335.7" width="18.1" height="35.3" rx="9.05" fill="none" stroke="#f2f2f2" stroke-width="1.2"/><rect x="937.8" y="355" width="447" height="130" fill="none" stroke="#f2f2f2" stroke-width="1.3"/><path d="M1023.2 386 L1023.2 427" fill="none" stroke="#f2f2f2" stroke-width="1" stroke-linejoin="round" stroke-linecap="round"/><path d="M1130 386 L1130 427" fill="none" stroke="#f2f2f2" stroke-width="1" stroke-linejoin="round" stroke-linecap="round"/><polygon points="1129.2,378 1133.7,375.3 1133.7,380.7" fill="#f2f2f2"/><path d="M1148.1 386 L1148.1 427" fill="none" stroke="#f2f2f2" stroke-width="1" stroke-linejoin="round" stroke-linecap="round"/><path d="M1255.5 386 L1255.5 427" fill="none" stroke="#f2f2f2" stroke-width="1" stroke-linejoin="round" stroke-linecap="round"/><polygon points="1254.7,378 1259.2,375.3 1259.2,380.7" fill="#f2f2f2"/><path d="M1273 386 L1273 427" fill="none" stroke="#f2f2f2" stroke-width="1" stroke-linejoin="round" stroke-linecap="round"/><path d="M1380.3 386 L1380.3 427" fill="none" stroke="#f2f2f2" stroke-width="1" stroke-linejoin="round" stroke-linecap="round"/><polygon points="1379.5,378 1384,375.3 1384,380.7" fill="#f2f2f2"/><path d="M554.25 485.5 L1384.8 485.5 L1384.8 624.5 L536.25 624.5" fill="none" stroke="#f2f2f2" stroke-width="1.3" stroke-linejoin="round" stroke-linecap="round"/><path d="M536.25 516.75 L536.25 993" fill="none" stroke="#f2f2f2" stroke-width="1.3" stroke-linejoin="round" stroke-linecap="round"/><rect x="516.25" y="478.75" width="38" height="38" fill="none" stroke="#f2f2f2" stroke-width="1.2"/><polygon points="509,646.5 512.5,649 509,651.5" fill="#f2f2f2"/><rect x="540" y="525.5" width="18" height="37.5" rx="9" fill="none" stroke="#f2f2f2" stroke-width="1.2"/><rect x="600.75" y="516.25" width="38.75" height="38" fill="none" stroke="#f2f2f2" stroke-width="1.2"/><polygon points="569.5,608.5 575,608.5 572.25,604.5" fill="#f2f2f2"/><polygon points="628.5,608.5 634,608.5 631.25,604.5" fill="#f2f2f2"/><rect x="645.6" y="525.5" width="18" height="37.5" rx="9" fill="none" stroke="#f2f2f2" stroke-width="1.2"/><rect x="706.35" y="516.25" width="38.75" height="38" fill="none" stroke="#f2f2f2" stroke-width="1.2"/><polygon points="675.1,608.5 680.6,608.5 677.85,604.5" fill="#f2f2f2"/><polygon points="734.1,608.5 739.6,608.5 736.85,604.5" fill="#f2f2f2"/><rect x="751.2" y="525.5" width="18" height="37.5" rx="9" fill="none" stroke="#f2f2f2" stroke-width="1.2"/><rect x="811.95" y="516.25" width="38.75" height="38" fill="none" stroke="#f2f2f2" stroke-width="1.2"/><polygon points="780.7,608.5 786.2,608.5 783.45,604.5" fill="#f2f2f2"/><polygon points="839.7,608.5 845.2,608.5 842.45,604.5" fill="#f2f2f2"/><rect x="856.8" y="525.5" width="18" height="37.5" rx="9" fill="none" stroke="#f2f2f2" stroke-width="1.2"/><rect x="917.55" y="516.25" width="38.75" height="38" fill="none" stroke="#f2f2f2" stroke-width="1.2"/><polygon points="886.3,608.5 891.8,608.5 889.05,604.5" fill="#f2f2f2"/><polygon points="945.3,608.5 950.8,608.5 948.05,604.5" fill="#f2f2f2"/><rect x="962.4" y="525.5" width="18" height="37.5" rx="9" fill="none" stroke="#f2f2f2" stroke-width="1.2"/><rect x="1023.15" y="516.25" width="38.75" height="38" fill="none" stroke="#f2f2f2" stroke-width="1.2"/><polygon points="991.9,608.5 997.4,608.5 994.65,604.5" fill="#f2f2f2"/><polygon points="1050.9,608.5 1056.4,608.5 1053.65,604.5" fill="#f2f2f2"/><rect x="1068" y="525.5" width="18" height="37.5" rx="9" fill="none" stroke="#f2f2f2" stroke-width="1.2"/><rect x="1128.75" y="516.25" width="38.75" height="38" fill="none" stroke="#f2f2f2" stroke-width="1.2"/><polygon points="1097.5,608.5 1103,608.5 1100.25,604.5" fill="#f2f2f2"/><polygon points="1156.5,608.5 1162,608.5 1159.25,604.5" fill="#f2f2f2"/><rect x="1173.6" y="525.5" width="18" height="37.5" rx="9" fill="none" stroke="#f2f2f2" stroke-width="1.2"/><rect x="1234.35" y="516.25" width="38.75" height="38" fill="none" stroke="#f2f2f2" stroke-width="1.2"/><polygon points="1203.1,608.5 1208.6,608.5 1205.85,604.5" fill="#f2f2f2"/><polygon points="1262.1,608.5 1267.6,608.5 1264.85,604.5" fill="#f2f2f2"/><rect x="1279.2" y="525.5" width="18" height="37.5" rx="9" fill="none" stroke="#f2f2f2" stroke-width="1.2"/><rect x="1339.95" y="516.25" width="38.75" height="38" fill="none" stroke="#f2f2f2" stroke-width="1.2"/><polygon points="1308.7,608.5 1314.2,608.5 1311.45,604.5" fill="#f2f2f2"/><polygon points="1367.7,608.5 1373.2,608.5 1370.45,604.5" fill="#f2f2f2"/><polygon points="1400,516.5 1405.5,516.5 1402.75,520" fill="#f2f2f2"/><polygon points="1398.5,621 1404,621 1401.25,624.5" fill="#f2f2f2"/><path d="M663 624.5 L663 763" fill="none" stroke="#f2f2f2" stroke-width="1.3" stroke-linejoin="round" stroke-linecap="round"/><path d="M1384.8 624.5 L1389.3 624.5 L1389.3 763" fill="none" stroke="#f2f2f2" stroke-width="1.3" stroke-linejoin="round" stroke-linecap="round"/><path d="M588 666 L588 707" fill="none" stroke="#f2f2f2" stroke-width="1" stroke-linejoin="round" stroke-linecap="round"/><path d="M642 666 L642 707" fill="none" stroke="#f2f2f2" stroke-width="1" stroke-linejoin="round" stroke-linecap="round"/><polygon points="641.5,658 646,655.3 646,660.7" fill="#f2f2f2"/><rect x="553" y="665.5" width="21.5" height="42.5" fill="none" stroke="#f2f2f2" stroke-width="1.2"/><path d="M547.5 670 L551.5 673.25 L547.5 676.5 Z" fill="none" stroke="#f2f2f2" stroke-width="0.9" stroke-linejoin="round" stroke-linecap="round"/><rect x="642.5" y="665" width="18" height="36.25" rx="9" fill="none" stroke="#f2f2f2" stroke-width="1.2"/><rect x="568.75" y="726.25" width="36.25" height="18.25" rx="9.12" fill="none" stroke="#f2f2f2" stroke-width="1.2"/><polygon points="829,645 835,641.5 835,648.5" fill="#f2f2f2"/><path d="M672.25 654 L668.75 654 L668.75 734.5 L672.25 734.5" fill="none" stroke="#f2f2f2" stroke-width="1" stroke-linejoin="round" stroke-linecap="round"/><path d="M829.5 654 L833 654 L833 734.5 L829.5 734.5" fill="none" stroke="#f2f2f2" stroke-width="1" stroke-linejoin="round" stroke-linecap="round"/><polygon points="1039,645 1045,641.5 1045,648.5" fill="#f2f2f2"/><path d="M882.25 654 L878.75 654 L878.75 734.5 L882.25 734.5" fill="none" stroke="#f2f2f2" stroke-width="1" stroke-linejoin="round" stroke-linecap="round"/><path d="M1039.5 654 L1043 654 L1043 734.5 L1039.5 734.5" fill="none" stroke="#f2f2f2" stroke-width="1" stroke-linejoin="round" stroke-linecap="round"/><polygon points="1248.5,645 1254.5,641.5 1254.5,648.5" fill="#f2f2f2"/><path d="M1091.75 654 L1088.25 654 L1088.25 734.5 L1091.75 734.5" fill="none" stroke="#f2f2f2" stroke-width="1" stroke-linejoin="round" stroke-linecap="round"/><path d="M1249 654 L1252.5 654 L1252.5 734.5 L1249 734.5" fill="none" stroke="#f2f2f2" stroke-width="1" stroke-linejoin="round" stroke-linecap="round"/><rect x="845.5" y="722.5" width="18.25" height="37" rx="9.12" fill="none" stroke="#f2f2f2" stroke-width="1.2"/><rect x="1055.75" y="722.5" width="18.25" height="37" rx="9.12" fill="none" stroke="#f2f2f2" stroke-width="1.2"/><rect x="1263.5" y="722.5" width="18.25" height="37" rx="9.12" fill="none" stroke="#f2f2f2" stroke-width="1.2"/><path d="M536.25 763 L1395.3 763 L1395.3 993 L536.25 993" fill="none" stroke="#f2f2f2" stroke-width="1.3" stroke-linejoin="round" stroke-linecap="round"/><path d="M536.25 898.75 L1395.3 898.75" fill="none" stroke="#f2f2f2" stroke-width="1.3" stroke-linejoin="round" stroke-linecap="round"/><rect x="540" y="802" width="17.5" height="36.25" rx="8.75" fill="none" stroke="#f2f2f2" stroke-width="1.2"/><rect x="600" y="792.5" width="38" height="38" fill="none" stroke="#f2f2f2" stroke-width="1.2"/><polygon points="569.5,884.5 575,884.5 572.25,880.5" fill="#f2f2f2"/><polygon points="628.5,884.5 634,884.5 631.25,880.5" fill="#f2f2f2"/><rect x="645.6" y="802" width="17.5" height="36.25" rx="8.75" fill="none" stroke="#f2f2f2" stroke-width="1.2"/><rect x="705.6" y="792.5" width="38" height="38" fill="none" stroke="#f2f2f2" stroke-width="1.2"/><polygon points="675.1,884.5 680.6,884.5 677.85,880.5" fill="#f2f2f2"/><polygon points="734.1,884.5 739.6,884.5 736.85,880.5" fill="#f2f2f2"/><rect x="751.2" y="802" width="17.5" height="36.25" rx="8.75" fill="none" stroke="#f2f2f2" stroke-width="1.2"/><rect x="811.2" y="792.5" width="38" height="38" fill="none" stroke="#f2f2f2" stroke-width="1.2"/><polygon points="780.7,884.5 786.2,884.5 783.45,880.5" fill="#f2f2f2"/><polygon points="839.7,884.5 845.2,884.5 842.45,880.5" fill="#f2f2f2"/><rect x="856.8" y="802" width="17.5" height="36.25" rx="8.75" fill="none" stroke="#f2f2f2" stroke-width="1.2"/><rect x="916.8" y="792.5" width="38" height="38" fill="none" stroke="#f2f2f2" stroke-width="1.2"/><polygon points="886.3,884.5 891.8,884.5 889.05,880.5" fill="#f2f2f2"/><polygon points="945.3,884.5 950.8,884.5 948.05,880.5" fill="#f2f2f2"/><rect x="962.4" y="802" width="17.5" height="36.25" rx="8.75" fill="none" stroke="#f2f2f2" stroke-width="1.2"/><rect x="1022.4" y="792.5" width="38" height="38" fill="none" stroke="#f2f2f2" stroke-width="1.2"/><polygon points="991.9,884.5 997.4,884.5 994.65,880.5" fill="#f2f2f2"/><polygon points="1050.9,884.5 1056.4,884.5 1053.65,880.5" fill="#f2f2f2"/><rect x="1068" y="802" width="17.5" height="36.25" rx="8.75" fill="none" stroke="#f2f2f2" stroke-width="1.2"/><rect x="1128" y="792.5" width="38" height="38" fill="none" stroke="#f2f2f2" stroke-width="1.2"/><polygon points="1097.5,884.5 1103,884.5 1100.25,880.5" fill="#f2f2f2"/><polygon points="1156.5,884.5 1162,884.5 1159.25,880.5" fill="#f2f2f2"/><rect x="1173.6" y="802" width="17.5" height="36.25" rx="8.75" fill="none" stroke="#f2f2f2" stroke-width="1.2"/><rect x="1233.6" y="792.5" width="38" height="38" fill="none" stroke="#f2f2f2" stroke-width="1.2"/><polygon points="1203.1,884.5 1208.6,884.5 1205.85,880.5" fill="#f2f2f2"/><polygon points="1262.1,884.5 1267.6,884.5 1264.85,880.5" fill="#f2f2f2"/><rect x="1279.2" y="802" width="17.5" height="36.25" rx="8.75" fill="none" stroke="#f2f2f2" stroke-width="1.2"/><rect x="1339.2" y="792.5" width="38" height="38" fill="none" stroke="#f2f2f2" stroke-width="1.2"/><polygon points="1308.7,884.5 1314.2,884.5 1311.45,880.5" fill="#f2f2f2"/><polygon points="1367.7,884.5 1373.2,884.5 1370.45,880.5" fill="#f2f2f2"/><rect x="555.5" y="915.5" width="41" height="22" rx="11" fill="none" stroke="#f2f2f2" stroke-width="1.2"/><polygon points="592.25,947.5 596.25,945 596.25,950" fill="#f2f2f2"/><rect x="595.75" y="941.5" width="38.5" height="38" fill="none" stroke="#f2f2f2" stroke-width="1.2"/><rect x="660.1" y="915.5" width="41" height="22" rx="11" fill="none" stroke="#f2f2f2" stroke-width="1.2"/><polygon points="697.75,947.5 701.75,945 701.75,950" fill="#f2f2f2"/><rect x="701.25" y="941.5" width="38.5" height="38" fill="none" stroke="#f2f2f2" stroke-width="1.2"/><rect x="765.1" y="915.5" width="41" height="22" rx="11" fill="none" stroke="#f2f2f2" stroke-width="1.2"/><polygon points="802.75,947.5 806.75,945 806.75,950" fill="#f2f2f2"/><rect x="806.25" y="941.5" width="38.5" height="38" fill="none" stroke="#f2f2f2" stroke-width="1.2"/><rect x="868.5" y="915.5" width="41" height="22" rx="11" fill="none" stroke="#f2f2f2" stroke-width="1.2"/><polygon points="906,947.5 910,945 910,950" fill="#f2f2f2"/><rect x="909.5" y="941.5" width="38.5" height="38" fill="none" stroke="#f2f2f2" stroke-width="1.2"/><rect x="976.1" y="915.5" width="41" height="22" rx="11" fill="none" stroke="#f2f2f2" stroke-width="1.2"/><polygon points="1013.5,947.5 1017.5,945 1017.5,950" fill="#f2f2f2"/><rect x="1017" y="941.5" width="38.5" height="38" fill="none" stroke="#f2f2f2" stroke-width="1.2"/><rect x="1081.5" y="915.5" width="41" height="22" rx="11" fill="none" stroke="#f2f2f2" stroke-width="1.2"/><polygon points="1119,947.5 1123,945 1123,950" fill="#f2f2f2"/><rect x="1122.5" y="941.5" width="38.5" height="38" fill="none" stroke="#f2f2f2" stroke-width="1.2"/><rect x="1182" y="915.5" width="41" height="22" rx="11" fill="none" stroke="#f2f2f2" stroke-width="1.2"/><polygon points="1222,947.5 1226,945 1226,950" fill="#f2f2f2"/><rect x="1225.5" y="941.5" width="38.5" height="38" fill="none" stroke="#f2f2f2" stroke-width="1.2"/><rect x="1285.1" y="915.5" width="41" height="22" rx="11" fill="none" stroke="#f2f2f2" stroke-width="1.2"/><polygon points="1326.1,947.5 1330.1,945 1330.1,950" fill="#f2f2f2"/><rect x="1329.6" y="941.5" width="38.5" height="38" fill="none" stroke="#f2f2f2" stroke-width="1.2"/><path d="M502.5 860.75 L515.5 860.75" fill="none" stroke="#f2f2f2" stroke-width="1" stroke-linejoin="round" stroke-linecap="round"/><polygon points="519,865.75 525,865.75 522,861.25" fill="#f2f2f2"/><path d="M502.5 900.25 L515.5 900.25" fill="none" stroke="#f2f2f2" stroke-width="1" stroke-linejoin="round" stroke-linecap="round"/><polygon points="519,905.25 525,905.25 522,900.75" fill="#f2f2f2"/><path d="M502.5 939.75 L515.5 939.75" fill="none" stroke="#f2f2f2" stroke-width="1" stroke-linejoin="round" stroke-linecap="round"/><polygon points="519,944.75 525,944.75 522,940.25" fill="#f2f2f2"/><path d="M502.5 979.25 L515.5 979.25" fill="none" stroke="#f2f2f2" stroke-width="1" stroke-linejoin="round" stroke-linecap="round"/><polygon points="519,984.25 525,984.25 522,979.75" fill="#f2f2f2"/><path d="M1395.3 830.6 L1481 830.6" fill="none" stroke="#f2f2f2" stroke-width="1.3" stroke-linejoin="round" stroke-linecap="round"/><path d="M1395.3 993.9 L1481 993.9" fill="none" stroke="#f2f2f2" stroke-width="1.3" stroke-linejoin="round" stroke-linecap="round"/><rect x="1395.6" y="873.3" width="38" height="37.7" fill="none" stroke="#f2f2f2" stroke-width="1.2"/><polygon points="1436,899.5 1440,902.5 1436,905.5" fill="#f2f2f2"/><polygon points="1436,945.5 1440,948.5 1436,951.5" fill="#f2f2f2"/></g>
<g><text transform="translate(605 95) rotate(180)" font-size="13.97" textLength="17.5" lengthAdjust="spacingAndGlyphs">D4</text><text transform="translate(512.7 272.2) rotate(-90)" font-size="34.22" textLength="148.1" lengthAdjust="spacingAndGlyphs">Light VCC</text><text transform="translate(564 149) rotate(90)" font-size="15.36" textLength="17" lengthAdjust="spacingAndGlyphs">Q2</text><text transform="translate(526 187.5)" font-size="16.06" textLength="29" lengthAdjust="spacingAndGlyphs">R20</text><text transform="translate(525 217.5)" font-size="16.06" textLength="28" lengthAdjust="spacingAndGlyphs">R21</text><text transform="translate(510 292.5)" font-size="16.06" textLength="60" lengthAdjust="spacingAndGlyphs">Q_PWR1</text><text transform="translate(636 197.5)" font-size="16.06" textLength="29" lengthAdjust="spacingAndGlyphs">R19</text><text transform="translate(635 226)" font-size="15.36" textLength="17.5" lengthAdjust="spacingAndGlyphs">R7</text><text transform="translate(619 246) rotate(90)" font-size="16.76" textLength="29" lengthAdjust="spacingAndGlyphs">R24</text><text transform="translate(621 294.5)" font-size="16.06" textLength="29" lengthAdjust="spacingAndGlyphs">C72</text><text transform="translate(622 314.5)" font-size="16.06" textLength="28.5" lengthAdjust="spacingAndGlyphs">R23</text><text transform="translate(485.5 304.5) rotate(90)" font-size="16.76" textLength="28" lengthAdjust="spacingAndGlyphs">R22</text><text transform="translate(533 338) rotate(90)" font-size="17.81" textLength="17.5" lengthAdjust="spacingAndGlyphs">R5</text><text transform="translate(550.75 316.25)" font-size="16.41" textLength="29.25" lengthAdjust="spacingAndGlyphs">C13</text><text transform="translate(593.75 328.75)" font-size="15.01" textLength="18.75" lengthAdjust="spacingAndGlyphs">U5</text><text transform="translate(522.5 437.75)" font-size="16.06" textLength="58.75" lengthAdjust="spacingAndGlyphs">C71C17</text><text transform="translate(592 441.5)" font-size="16.06" textLength="16.75" lengthAdjust="spacingAndGlyphs">L2</text><text transform="translate(501 446) rotate(90)" font-size="16.06" textLength="27.75" lengthAdjust="spacingAndGlyphs">D77</text><text transform="translate(566.25 477.5)" font-size="15.71" textLength="28.75" lengthAdjust="spacingAndGlyphs">C14</text><text transform="translate(687.5 262) rotate(90)" font-size="16.76" textLength="38" lengthAdjust="spacingAndGlyphs">R109</text><text transform="translate(679 107.5)" font-size="16.06" textLength="28.5" lengthAdjust="spacingAndGlyphs">C77</text><text transform="translate(798 44)" font-size="16.06" textLength="21" lengthAdjust="spacingAndGlyphs">Q6</text><text transform="translate(764 130.5)" font-size="13.27" textLength="15.5" lengthAdjust="spacingAndGlyphs">U6</text><text transform="translate(695 190.5)" font-size="16.41" textLength="28.75" lengthAdjust="spacingAndGlyphs">R27</text><text transform="translate(750 227.5) rotate(90)" font-size="16.76" textLength="27.5" lengthAdjust="spacingAndGlyphs">R28</text><text transform="translate(801.75 227.5) rotate(90)" font-size="16.76" textLength="27.5" lengthAdjust="spacingAndGlyphs">R32</text><text transform="translate(985.5 164.5) rotate(90)" font-size="17.46" textLength="15.5" lengthAdjust="spacingAndGlyphs">L3</text><text transform="translate(1042 156.25) rotate(90)" font-size="17.46" textLength="27.5" lengthAdjust="spacingAndGlyphs">R33</text><text transform="translate(903 35)" font-size="15.71" textLength="38" lengthAdjust="spacingAndGlyphs">D100</text><text transform="translate(979.5 36.25)" font-size="15.71" textLength="29.25" lengthAdjust="spacingAndGlyphs">C75</text><text transform="translate(1023.75 53.75)" font-size="16.41" textLength="20" lengthAdjust="spacingAndGlyphs">Q3</text><text transform="translate(1097.5 75.5)" font-size="15.36" textLength="29.5" lengthAdjust="spacingAndGlyphs">U34</text><text transform="translate(896 284)" font-size="32.82" textLength="79" lengthAdjust="spacingAndGlyphs">MPPT</text><text transform="translate(1192.5 66)" font-size="15.36" textLength="60" lengthAdjust="spacingAndGlyphs">R26R35</text><text transform="translate(1271 78.75) rotate(90)" font-size="16.76" textLength="17.25" lengthAdjust="spacingAndGlyphs">C6</text><text transform="translate(1208.75 145)" font-size="12.92" textLength="23.75" lengthAdjust="spacingAndGlyphs">R54</text><text transform="translate(1243.75 152.5)" font-size="13.97" textLength="23.75" lengthAdjust="spacingAndGlyphs">R17</text><text transform="translate(1292.3 33)" font-size="15.92" textLength="27.7" lengthAdjust="spacingAndGlyphs">R31</text><text transform="translate(1329 81.7)" font-size="14.94" textLength="18" lengthAdjust="spacingAndGlyphs">U8</text><text transform="translate(1359.5 33)" font-size="15.92" textLength="28.5" lengthAdjust="spacingAndGlyphs">R38</text><text transform="translate(1414.3 78) rotate(90)" font-size="17.04" textLength="27.7" lengthAdjust="spacingAndGlyphs">R16</text><text transform="translate(1457.5 82.3)" font-size="15.78" textLength="18.5" lengthAdjust="spacingAndGlyphs">C3</text><text transform="translate(1122.5 139.5)" font-size="16.06" textLength="28.75" lengthAdjust="spacingAndGlyphs">R25</text><text transform="translate(1080 173.75) rotate(90)" font-size="18.16" textLength="27.5" lengthAdjust="spacingAndGlyphs">JP2</text><text transform="translate(1092.5 221.25)" font-size="15.71" textLength="28.75" lengthAdjust="spacingAndGlyphs">U22</text><text transform="translate(1222.5 222)" font-size="16.76" textLength="16.25" lengthAdjust="spacingAndGlyphs">L1</text><text transform="translate(1097.5 236) rotate(90)" font-size="17.46" textLength="29" lengthAdjust="spacingAndGlyphs">C27</text><text transform="translate(1216 256)" font-size="15.36" textLength="29" lengthAdjust="spacingAndGlyphs">C30</text><text transform="translate(1216 282.5)" font-size="14.66" textLength="29" lengthAdjust="spacingAndGlyphs">C31</text><text transform="translate(1100.4 271.8) rotate(90)" font-size="16.76" textLength="37.6" lengthAdjust="spacingAndGlyphs">R106</text><text transform="translate(1149.4 315.2)" font-size="32.96" textLength="65.6" lengthAdjust="spacingAndGlyphs">3.3V</text><text transform="translate(1103 326) rotate(90)" font-size="16.76" textLength="16.7" lengthAdjust="spacingAndGlyphs">R2</text><text transform="translate(1133.4 320.8) rotate(90)" font-size="16.62" textLength="26.2" lengthAdjust="spacingAndGlyphs">R10</text><text transform="translate(1254.8 320.8) rotate(90)" font-size="17.46" textLength="26.2" lengthAdjust="spacingAndGlyphs">R36</text><text transform="translate(1275.6 322.5) rotate(90)" font-size="17.32" textLength="26" lengthAdjust="spacingAndGlyphs">R11</text><text transform="translate(1289.8 321) rotate(90)" font-size="17.46" textLength="26" lengthAdjust="spacingAndGlyphs">R12</text><text transform="translate(1365.3 325) rotate(90)" font-size="17.46" textLength="28" lengthAdjust="spacingAndGlyphs">R34</text><text transform="translate(1421.6 331.3)" font-size="15.5" textLength="28.1" lengthAdjust="spacingAndGlyphs">R13</text><text transform="translate(1386.3 359.9)" font-size="16.06" textLength="28.1" lengthAdjust="spacingAndGlyphs">R14</text><text transform="translate(1387.8 387.2)" font-size="14.25" textLength="21.2" lengthAdjust="spacingAndGlyphs">R15</text><text transform="translate(1425.6 385.3)" font-size="15.78" textLength="19.6" lengthAdjust="spacingAndGlyphs">C4</text><text transform="translate(1455.5 375) rotate(90)" font-size="16.06" textLength="16" lengthAdjust="spacingAndGlyphs">C1</text><text transform="translate(1421 404)" font-size="16.48" textLength="27.9" lengthAdjust="spacingAndGlyphs">R51</text><text transform="translate(1421.6 420.5)" font-size="14.11" textLength="20.6" lengthAdjust="spacingAndGlyphs">R48</text><text transform="translate(697.5 360.3)" font-size="11.6" textLength="127" lengthAdjust="spacingAndGlyphs">MLCCs are rounded,</text><text transform="translate(697.5 374.3)" font-size="11.6" textLength="181.25" lengthAdjust="spacingAndGlyphs">non marked ones are 100nF</text><text transform="translate(956 440.6) rotate(-90)" font-size="21.65" textLength="52.9" lengthAdjust="spacingAndGlyphs">Shift</text><text transform="translate(977.5 454) rotate(-90)" font-size="21.65" textLength="94" lengthAdjust="spacingAndGlyphs">Register</text><text transform="translate(1133 397.4) rotate(90)" font-size="17.46" textLength="20.6" lengthAdjust="spacingAndGlyphs">U7</text><text transform="translate(1257.7 397.4) rotate(90)" font-size="17.46" textLength="19.6" lengthAdjust="spacingAndGlyphs">U3</text><text transform="translate(1016.4 478.3)" font-size="16.76" textLength="28.2" lengthAdjust="spacingAndGlyphs">R53</text><text transform="translate(1106 472.4)" font-size="14.8" textLength="18.7" lengthAdjust="spacingAndGlyphs">R9</text><text transform="translate(1087 483)" font-size="14.66" textLength="30" lengthAdjust="spacingAndGlyphs">R41</text><text transform="translate(1089 504.5)" font-size="16.06" textLength="28" lengthAdjust="spacingAndGlyphs">R40</text><text transform="translate(1322.8 456.5)" font-size="16.06" textLength="28.1" lengthAdjust="spacingAndGlyphs">R46</text><text transform="translate(494.5 512.5)" font-size="15.71" textLength="18" lengthAdjust="spacingAndGlyphs">Q1</text><text transform="translate(557.5 507.5)" font-size="22.7" textLength="25.5" lengthAdjust="spacingAndGlyphs">SA</text><text transform="translate(505 518.75) rotate(90)" font-size="16.76" textLength="17.5" lengthAdjust="spacingAndGlyphs">R4</text><text transform="translate(521.25 584.5) rotate(90)" font-size="16.76" textLength="17.5" lengthAdjust="spacingAndGlyphs">R3</text><text transform="translate(467.5 548) rotate(90)" font-size="16.76" textLength="28.25" lengthAdjust="spacingAndGlyphs">D52</text><text transform="translate(513 673)" font-size="15.36" textLength="28.25" lengthAdjust="spacingAndGlyphs">D13</text><text transform="translate(603 513.75)" font-size="15.71" textLength="28.25" lengthAdjust="spacingAndGlyphs">R96</text><text transform="translate(585 524.5) rotate(90)" font-size="16.76" textLength="27.5" lengthAdjust="spacingAndGlyphs">R95</text><text transform="translate(547 620)" font-size="15.71" textLength="28" lengthAdjust="spacingAndGlyphs">D26</text><text transform="translate(605.75 620)" font-size="15.71" textLength="28.75" lengthAdjust="spacingAndGlyphs">D27</text><text transform="translate(708.6 513.75)" font-size="15.71" textLength="28.25" lengthAdjust="spacingAndGlyphs">R94</text><text transform="translate(690.6 524.5) rotate(90)" font-size="16.76" textLength="27.5" lengthAdjust="spacingAndGlyphs">R93</text><text transform="translate(652.6 620)" font-size="15.71" textLength="28" lengthAdjust="spacingAndGlyphs">D22</text><text transform="translate(711.35 620)" font-size="15.71" textLength="28.75" lengthAdjust="spacingAndGlyphs">D23</text><text transform="translate(814.2 513.75)" font-size="15.71" textLength="28.25" lengthAdjust="spacingAndGlyphs">R92</text><text transform="translate(796.2 524.5) rotate(90)" font-size="16.76" textLength="27.5" lengthAdjust="spacingAndGlyphs">R91</text><text transform="translate(758.2 620)" font-size="15.71" textLength="28" lengthAdjust="spacingAndGlyphs">D20</text><text transform="translate(816.95 620)" font-size="15.71" textLength="28.75" lengthAdjust="spacingAndGlyphs">D21</text><text transform="translate(919.8 513.75)" font-size="15.71" textLength="28.25" lengthAdjust="spacingAndGlyphs">R90</text><text transform="translate(901.8 524.5) rotate(90)" font-size="16.76" textLength="27.5" lengthAdjust="spacingAndGlyphs">R89</text><text transform="translate(863.8 620)" font-size="15.71" textLength="28" lengthAdjust="spacingAndGlyphs">D18</text><text transform="translate(922.55 620)" font-size="15.71" textLength="28.75" lengthAdjust="spacingAndGlyphs">D19</text><text transform="translate(1025.4 513.75)" font-size="15.71" textLength="28.25" lengthAdjust="spacingAndGlyphs">R88</text><text transform="translate(1007.4 524.5) rotate(90)" font-size="16.76" textLength="27.5" lengthAdjust="spacingAndGlyphs">R87</text><text transform="translate(969.4 620)" font-size="15.71" textLength="28" lengthAdjust="spacingAndGlyphs">D16</text><text transform="translate(1028.15 620)" font-size="15.71" textLength="28.75" lengthAdjust="spacingAndGlyphs">D17</text><text transform="translate(1137 515.55)" font-size="15.71" textLength="28.25" lengthAdjust="spacingAndGlyphs">R86</text><text transform="translate(1113 524.5) rotate(90)" font-size="16.76" textLength="27.5" lengthAdjust="spacingAndGlyphs">R85</text><text transform="translate(1075 620)" font-size="15.71" textLength="28" lengthAdjust="spacingAndGlyphs">D14</text><text transform="translate(1133.75 620)" font-size="15.71" textLength="28.75" lengthAdjust="spacingAndGlyphs">D15</text><text transform="translate(1238.6 516.25)" font-size="15.71" textLength="28.25" lengthAdjust="spacingAndGlyphs">R84</text><text transform="translate(1218.6 524.5) rotate(90)" font-size="16.76" textLength="27.5" lengthAdjust="spacingAndGlyphs">R83</text><text transform="translate(1180.6 620)" font-size="15.71" textLength="18.5" lengthAdjust="spacingAndGlyphs">D1</text><text transform="translate(1239.35 620)" font-size="15.71" textLength="28.75" lengthAdjust="spacingAndGlyphs">D12</text><text transform="translate(1343.2 516.25)" font-size="15.71" textLength="28.25" lengthAdjust="spacingAndGlyphs">R82</text><text transform="translate(1324.2 527) rotate(90)" font-size="16.76" textLength="18" lengthAdjust="spacingAndGlyphs">R6</text><text transform="translate(1286.2 620)" font-size="15.71" textLength="18.5" lengthAdjust="spacingAndGlyphs">D8</text><text transform="translate(1344.95 620)" font-size="15.71" textLength="18.5" lengthAdjust="spacingAndGlyphs">D6</text><text transform="translate(1239.6 580.5)" font-size="16.06" textLength="30.2" lengthAdjust="spacingAndGlyphs">Q16</text><text transform="translate(1345.5 580.5)" font-size="16.06" textLength="28.5" lengthAdjust="spacingAndGlyphs">Q15</text><text transform="translate(1400.5 515.2)" font-size="16.76" textLength="29.5" lengthAdjust="spacingAndGlyphs">D54</text><text transform="translate(1393 559.4) rotate(90)" font-size="16.76" textLength="27.9" lengthAdjust="spacingAndGlyphs">R30</text><text transform="translate(1405.2 621)" font-size="15.36" textLength="17.8" lengthAdjust="spacingAndGlyphs">D3</text><text transform="translate(1399.7 691.6)" font-size="15.5" textLength="17.7" lengthAdjust="spacingAndGlyphs">R1</text><text transform="translate(585 643)" font-size="21.65" textLength="62" lengthAdjust="spacingAndGlyphs">Timer</text><text transform="translate(576.25 673.75) rotate(90)" font-size="16.41" textLength="26.25" lengthAdjust="spacingAndGlyphs">JP1</text><text transform="translate(612.5 740)" font-size="15.71" textLength="18.75" lengthAdjust="spacingAndGlyphs">U2</text><text transform="translate(835.5 680) rotate(90)" font-size="16.76" textLength="28.75" lengthAdjust="spacingAndGlyphs">U13</text><text transform="translate(1045.5 680) rotate(90)" font-size="16.76" textLength="28.75" lengthAdjust="spacingAndGlyphs">U10</text><text transform="translate(1255 680) rotate(90)" font-size="16.76" textLength="28.75" lengthAdjust="spacingAndGlyphs">U14</text><text transform="translate(1257.7 675.5)" font-size="21.65" textLength="127.6" lengthAdjust="spacingAndGlyphs">Multiplexer</text><text transform="translate(1275.5 695.4)" font-size="21.51" textLength="58.8" lengthAdjust="spacingAndGlyphs">Array</text><text transform="translate(1373 708.7) rotate(90)" font-size="17.18" textLength="27.7" lengthAdjust="spacingAndGlyphs">R37</text><text transform="translate(537.5 783)" font-size="21.65" textLength="26.25" lengthAdjust="spacingAndGlyphs">SB</text><text transform="translate(603.25 791)" font-size="16.06" textLength="38.75" lengthAdjust="spacingAndGlyphs">R119</text><text transform="translate(583 787.5) rotate(90)" font-size="16.76" textLength="37.5" lengthAdjust="spacingAndGlyphs">R118</text><text transform="translate(606.25 854.5)" font-size="16.06" textLength="30" lengthAdjust="spacingAndGlyphs">Q30</text><text transform="translate(547 896.25)" font-size="15.71" textLength="28.5" lengthAdjust="spacingAndGlyphs">D50</text><text transform="translate(605.75 896.25)" font-size="15.71" textLength="28.75" lengthAdjust="spacingAndGlyphs">D51</text><text transform="translate(708.85 791)" font-size="16.06" textLength="38.75" lengthAdjust="spacingAndGlyphs">R117</text><text transform="translate(688.6 787.5) rotate(90)" font-size="16.76" textLength="37.5" lengthAdjust="spacingAndGlyphs">R116</text><text transform="translate(711.85 854.5)" font-size="16.06" textLength="30" lengthAdjust="spacingAndGlyphs">Q29</text><text transform="translate(652.6 896.25)" font-size="15.71" textLength="28.5" lengthAdjust="spacingAndGlyphs">D48</text><text transform="translate(711.35 896.25)" font-size="15.71" textLength="28.75" lengthAdjust="spacingAndGlyphs">D49</text><text transform="translate(814.45 791)" font-size="16.06" textLength="38.75" lengthAdjust="spacingAndGlyphs">R115</text><text transform="translate(794.2 787.5) rotate(90)" font-size="16.76" textLength="37.5" lengthAdjust="spacingAndGlyphs">R114</text><text transform="translate(817.45 854.5)" font-size="16.06" textLength="30" lengthAdjust="spacingAndGlyphs">Q28</text><text transform="translate(758.2 896.25)" font-size="15.71" textLength="28.5" lengthAdjust="spacingAndGlyphs">D46</text><text transform="translate(816.95 896.25)" font-size="15.71" textLength="28.75" lengthAdjust="spacingAndGlyphs">D47</text><text transform="translate(920.05 791)" font-size="16.06" textLength="38.75" lengthAdjust="spacingAndGlyphs">R113</text><text transform="translate(899.8 787.5) rotate(90)" font-size="16.76" textLength="37.5" lengthAdjust="spacingAndGlyphs">R112</text><text transform="translate(923.05 854.5)" font-size="16.06" textLength="30" lengthAdjust="spacingAndGlyphs">Q27</text><text transform="translate(863.8 896.25)" font-size="15.71" textLength="28.5" lengthAdjust="spacingAndGlyphs">D44</text><text transform="translate(922.55 896.25)" font-size="15.71" textLength="28.75" lengthAdjust="spacingAndGlyphs">D45</text><text transform="translate(1025.65 791)" font-size="16.06" textLength="38.75" lengthAdjust="spacingAndGlyphs">R105</text><text transform="translate(1005.4 787.5) rotate(90)" font-size="16.76" textLength="37.5" lengthAdjust="spacingAndGlyphs">R104</text><text transform="translate(1028.65 854.5)" font-size="16.06" textLength="30" lengthAdjust="spacingAndGlyphs">Q26</text><text transform="translate(969.4 896.25)" font-size="15.71" textLength="28.5" lengthAdjust="spacingAndGlyphs">D42</text><text transform="translate(1028.15 896.25)" font-size="15.71" textLength="28.75" lengthAdjust="spacingAndGlyphs">D43</text><text transform="translate(1131.25 791)" font-size="16.06" textLength="38.75" lengthAdjust="spacingAndGlyphs">R103</text><text transform="translate(1111 787.5) rotate(90)" font-size="16.76" textLength="37.5" lengthAdjust="spacingAndGlyphs">R102</text><text transform="translate(1134.25 854.5)" font-size="16.06" textLength="30" lengthAdjust="spacingAndGlyphs">Q25</text><text transform="translate(1075 896.25)" font-size="15.71" textLength="28.5" lengthAdjust="spacingAndGlyphs">D40</text><text transform="translate(1133.75 896.25)" font-size="15.71" textLength="28.75" lengthAdjust="spacingAndGlyphs">D41</text><text transform="translate(1236.85 791)" font-size="16.06" textLength="38.75" lengthAdjust="spacingAndGlyphs">R101</text><text transform="translate(1216.6 787.5) rotate(90)" font-size="16.76" textLength="37.5" lengthAdjust="spacingAndGlyphs">R100</text><text transform="translate(1239.85 854.5)" font-size="16.06" textLength="30" lengthAdjust="spacingAndGlyphs">Q24</text><text transform="translate(1180.6 896.25)" font-size="15.71" textLength="28.5" lengthAdjust="spacingAndGlyphs">D34</text><text transform="translate(1239.35 896.25)" font-size="15.71" textLength="28.75" lengthAdjust="spacingAndGlyphs">D39</text><text transform="translate(1344.2 791)" font-size="16.06" textLength="28" lengthAdjust="spacingAndGlyphs">R99</text><text transform="translate(1322.2 798) rotate(90)" font-size="16.76" textLength="28" lengthAdjust="spacingAndGlyphs">R97</text><text transform="translate(1345.45 854.5)" font-size="16.06" textLength="30" lengthAdjust="spacingAndGlyphs">Q23</text><text transform="translate(1286.2 896.25)" font-size="15.71" textLength="28.5" lengthAdjust="spacingAndGlyphs">D29</text><text transform="translate(1344.95 896.25)" font-size="15.71" textLength="28.75" lengthAdjust="spacingAndGlyphs">D31</text><text transform="translate(554 980) rotate(-90)" font-size="21.65" textLength="73.75" lengthAdjust="spacingAndGlyphs">Pumps</text><text transform="translate(566.3 914)" font-size="16.06" textLength="19.4" lengthAdjust="spacingAndGlyphs">C7</text><text transform="translate(596.55 918)" font-size="15.71" textLength="38.4" lengthAdjust="spacingAndGlyphs">R108</text><text transform="translate(638.25 902) rotate(90)" font-size="16.76" textLength="38" lengthAdjust="spacingAndGlyphs">R107</text><text transform="translate(561.35 991.5)" font-size="15.36" textLength="28.8" lengthAdjust="spacingAndGlyphs">D33</text><text transform="translate(601.7 991.5)" font-size="15.36" textLength="29.1" lengthAdjust="spacingAndGlyphs">Q13</text><text transform="translate(666.05 914)" font-size="16.06" textLength="29.1" lengthAdjust="spacingAndGlyphs">C26</text><text transform="translate(706.85 918)" font-size="15.71" textLength="28.8" lengthAdjust="spacingAndGlyphs">R68</text><text transform="translate(743.75 912) rotate(90)" font-size="16.76" textLength="27" lengthAdjust="spacingAndGlyphs">R67</text><text transform="translate(666.85 991.5)" font-size="15.36" textLength="28.8" lengthAdjust="spacingAndGlyphs">D32</text><text transform="translate(707.2 991.5)" font-size="15.36" textLength="29.1" lengthAdjust="spacingAndGlyphs">Q11</text><text transform="translate(771.05 914)" font-size="16.06" textLength="29.1" lengthAdjust="spacingAndGlyphs">C25</text><text transform="translate(811.85 918)" font-size="15.71" textLength="28.8" lengthAdjust="spacingAndGlyphs">R65</text><text transform="translate(848.75 912) rotate(90)" font-size="16.76" textLength="27" lengthAdjust="spacingAndGlyphs">R64</text><text transform="translate(771.85 991.5)" font-size="15.36" textLength="28.8" lengthAdjust="spacingAndGlyphs">D30</text><text transform="translate(812.2 991.5)" font-size="15.36" textLength="29.1" lengthAdjust="spacingAndGlyphs">Q10</text><text transform="translate(874.45 914)" font-size="16.06" textLength="29.1" lengthAdjust="spacingAndGlyphs">C24</text><text transform="translate(915.1 918)" font-size="15.71" textLength="28.8" lengthAdjust="spacingAndGlyphs">R62</text><text transform="translate(952 912) rotate(90)" font-size="16.76" textLength="27" lengthAdjust="spacingAndGlyphs">R61</text><text transform="translate(875.1 991.5)" font-size="15.36" textLength="28.8" lengthAdjust="spacingAndGlyphs">D28</text><text transform="translate(920.3 991.5)" font-size="15.36" textLength="19.4" lengthAdjust="spacingAndGlyphs">Q9</text><text transform="translate(982.05 914)" font-size="16.06" textLength="29.1" lengthAdjust="spacingAndGlyphs">C23</text><text transform="translate(1022.6 918)" font-size="15.71" textLength="28.8" lengthAdjust="spacingAndGlyphs">R59</text><text transform="translate(1059.5 912) rotate(90)" font-size="16.76" textLength="27" lengthAdjust="spacingAndGlyphs">R58</text><text transform="translate(987.4 991.5)" font-size="15.36" textLength="19.2" lengthAdjust="spacingAndGlyphs">D9</text><text transform="translate(1027.8 991.5)" font-size="15.36" textLength="19.4" lengthAdjust="spacingAndGlyphs">Q8</text><text transform="translate(1087.45 914)" font-size="16.06" textLength="29.1" lengthAdjust="spacingAndGlyphs">C22</text><text transform="translate(1128.1 918)" font-size="15.71" textLength="28.8" lengthAdjust="spacingAndGlyphs">R56</text><text transform="translate(1165 912) rotate(90)" font-size="16.76" textLength="27" lengthAdjust="spacingAndGlyphs">R55</text><text transform="translate(1092.9 991.5)" font-size="15.36" textLength="19.2" lengthAdjust="spacingAndGlyphs">D7</text><text transform="translate(1133.3 991.5)" font-size="15.36" textLength="19.4" lengthAdjust="spacingAndGlyphs">Q7</text><text transform="translate(1192.8 914)" font-size="16.06" textLength="19.4" lengthAdjust="spacingAndGlyphs">C8</text><text transform="translate(1226.3 918)" font-size="15.71" textLength="38.4" lengthAdjust="spacingAndGlyphs">R111</text><text transform="translate(1268 902) rotate(90)" font-size="16.76" textLength="38" lengthAdjust="spacingAndGlyphs">R110</text><text transform="translate(1193.4 991.5)" font-size="15.36" textLength="19.2" lengthAdjust="spacingAndGlyphs">D5</text><text transform="translate(1231.45 991.5)" font-size="15.36" textLength="29.1" lengthAdjust="spacingAndGlyphs">Q14</text><text transform="translate(1291.05 914)" font-size="16.06" textLength="29.1" lengthAdjust="spacingAndGlyphs">C21</text><text transform="translate(1335.2 918)" font-size="15.71" textLength="28.8" lengthAdjust="spacingAndGlyphs">R50</text><text transform="translate(1372.1 912) rotate(90)" font-size="16.76" textLength="27" lengthAdjust="spacingAndGlyphs">R49</text><text transform="translate(1291.2 991.5)" font-size="15.36" textLength="28.8" lengthAdjust="spacingAndGlyphs">D25</text><text transform="translate(1340.4 991.5)" font-size="15.36" textLength="19.4" lengthAdjust="spacingAndGlyphs">Q5</text><text transform="translate(451.5 830.5) rotate(90)" font-size="16.76" textLength="27.5" lengthAdjust="spacingAndGlyphs">D35</text><text transform="translate(451.5 870) rotate(90)" font-size="16.76" textLength="27.5" lengthAdjust="spacingAndGlyphs">D36</text><text transform="translate(451.5 909.5) rotate(90)" font-size="16.76" textLength="27.5" lengthAdjust="spacingAndGlyphs">D37</text><text transform="translate(451.5 949) rotate(90)" font-size="16.76" textLength="27.5" lengthAdjust="spacingAndGlyphs">D38</text><text transform="translate(1431.3 811.8)" font-size="16.06" textLength="18.7" lengthAdjust="spacingAndGlyphs">R8</text><text transform="translate(1443.5 849.5)" font-size="16.2" textLength="29.2" lengthAdjust="spacingAndGlyphs">R29</text><text transform="translate(1405.4 872)" font-size="16.06" textLength="18.6" lengthAdjust="spacingAndGlyphs">Q4</text><text transform="translate(1471.5 891.4) rotate(90)" font-size="12.57" textLength="22.8" lengthAdjust="spacingAndGlyphs">D75</text><text transform="translate(1395.6 947.8)" font-size="16.2" textLength="27.2" lengthAdjust="spacingAndGlyphs">R18</text><text transform="translate(1471.5 938.8) rotate(90)" font-size="12.57" textLength="22.5" lengthAdjust="spacingAndGlyphs">D24</text><text transform="translate(1414.2 992.3)" font-size="32.54" textLength="51.8" lengthAdjust="spacingAndGlyphs">Tank</text></g>
<g><rect x="527.5" y="150" width="30.75" height="13" fill="#635d5a"/><rect x="526.9" y="150" width="1.2" height="13" fill="#d8d8d8"/><rect x="557.65" y="150" width="1.2" height="13" fill="#d8d8d8"/><rect x="526" y="191" width="26.5" height="11.5" rx="2.2" fill="#eeeeee"/><rect x="527.86" y="191.6" width="1.59" height="10.3" fill="#d2d2d2"/><rect x="549.05" y="191.6" width="1.59" height="10.3" fill="#d2d2d2"/><rect x="533.95" y="191.8" width="10.6" height="9.9" fill="#2b2b2b"/><rect x="526" y="222.5" width="26.5" height="11.25" rx="2.2" fill="#eeeeee"/><rect x="527.86" y="223.1" width="1.59" height="10.05" fill="#d2d2d2"/><rect x="549.05" y="223.1" width="1.59" height="10.05" fill="#d2d2d2"/><rect x="533.95" y="223.3" width="10.6" height="9.65" fill="#2b2b2b"/><rect x="524.5" y="252" width="30" height="12.5" fill="#635d5a"/><rect x="523.9" y="252" width="1.2" height="12.5" fill="#d8d8d8"/><rect x="553.9" y="252" width="1.2" height="12.5" fill="#d8d8d8"/><rect x="635.5" y="200.5" width="27" height="11.5" rx="2.2" fill="#eeeeee"/><rect x="637.39" y="201.1" width="1.62" height="10.3" fill="#d2d2d2"/><rect x="658.99" y="201.1" width="1.62" height="10.3" fill="#d2d2d2"/><rect x="643.6" y="201.3" width="10.8" height="9.9" fill="#2b2b2b"/><rect x="634.5" y="230.5" width="26.5" height="11.5" rx="2.2" fill="#eeeeee"/><rect x="636.36" y="231.1" width="1.59" height="10.3" fill="#d2d2d2"/><rect x="657.55" y="231.1" width="1.59" height="10.3" fill="#d2d2d2"/><rect x="642.45" y="231.3" width="10.6" height="9.9" fill="#2b2b2b"/><rect x="605" y="246.25" width="11.25" height="26.25" rx="2.2" fill="#eeeeee"/><rect x="605.6" y="248.09" width="10.05" height="1.57" fill="#d2d2d2"/><rect x="605.6" y="269.09" width="10.05" height="1.58" fill="#d2d2d2"/><rect x="605.8" y="254.12" width="9.65" height="10.5" fill="#2b2b2b"/><rect x="596.78" y="284.93" width="10.94" height="8.14" fill="#b7998b"/><rect x="588.28" y="283.78" width="9.5" height="10.44" rx="1.8" fill="#eeeeee"/><rect x="606.72" y="283.78" width="9.5" height="10.44" rx="1.8" fill="#eeeeee"/><rect x="593.5" y="284.08" width="1.9" height="9.84" fill="#dadada"/><rect x="609.1" y="284.08" width="1.9" height="9.84" fill="#dadada"/><rect x="589.5" y="301.25" width="26.75" height="11.25" rx="2.2" fill="#eeeeee"/><rect x="591.37" y="301.85" width="1.61" height="10.05" fill="#d2d2d2"/><rect x="612.77" y="301.85" width="1.61" height="10.05" fill="#d2d2d2"/><rect x="597.52" y="302.05" width="10.7" height="9.65" fill="#2b2b2b"/><rect x="502.5" y="305" width="11.25" height="26.75" rx="2.2" fill="#eeeeee"/><rect x="503.1" y="306.87" width="10.05" height="1.61" fill="#d2d2d2"/><rect x="503.1" y="328.27" width="10.05" height="1.61" fill="#d2d2d2"/><rect x="503.3" y="313.02" width="9.65" height="10.7" fill="#2b2b2b"/><rect x="533.75" y="307" width="11.25" height="26.75" rx="2.2" fill="#eeeeee"/><rect x="534.35" y="308.87" width="10.05" height="1.61" fill="#d2d2d2"/><rect x="534.35" y="330.27" width="10.05" height="1.61" fill="#d2d2d2"/><rect x="534.55" y="315.02" width="9.65" height="10.7" fill="#2b2b2b"/><rect x="558.72" y="331.6" width="14.31" height="30.55" fill="#b7998b"/><rect x="556.7" y="322.2" width="18.35" height="10.4" rx="1.8" fill="#eeeeee"/><rect x="556.7" y="361.15" width="18.35" height="10.4" rx="1.8" fill="#eeeeee"/><rect x="557" y="327.92" width="17.75" height="2.08" fill="#dadada"/><rect x="557" y="363.75" width="17.75" height="2.08" fill="#dadada"/><rect x="587.5" y="343" width="30" height="15.75" fill="#635d5a"/><rect x="627.43" y="367.53" width="8.14" height="11.18" fill="#b7998b"/><rect x="626.28" y="358.78" width="10.44" height="9.75" rx="1.8" fill="#eeeeee"/><rect x="626.28" y="377.72" width="10.44" height="9.75" rx="1.8" fill="#eeeeee"/><rect x="626.58" y="364.15" width="9.84" height="1.95" fill="#dadada"/><rect x="626.58" y="380.15" width="9.84" height="1.95" fill="#dadada"/><rect x="531.03" y="394.35" width="11.19" height="15.8" fill="#b7998b"/><rect x="529.45" y="384.95" width="14.35" height="10.4" rx="1.8" fill="#eeeeee"/><rect x="529.45" y="409.15" width="14.35" height="10.4" rx="1.8" fill="#eeeeee"/><rect x="529.75" y="390.67" width="13.75" height="2.08" fill="#dadada"/><rect x="529.75" y="411.75" width="13.75" height="2.08" fill="#dadada"/><rect x="559.83" y="394.35" width="11.58" height="15.8" fill="#b7998b"/><rect x="558.2" y="384.95" width="14.85" height="10.4" rx="1.8" fill="#eeeeee"/><rect x="558.2" y="409.15" width="14.85" height="10.4" rx="1.8" fill="#eeeeee"/><rect x="558.5" y="390.67" width="14.25" height="2.08" fill="#dadada"/><rect x="558.5" y="411.75" width="14.25" height="2.08" fill="#dadada"/><rect x="585.5" y="380.75" width="29" height="42.5" rx="2" fill="#ececec"/><rect x="586.5" y="390" width="27" height="24" fill="#a19f9b"/><rect x="528" y="443.75" width="13.75" height="30" fill="#635d5a"/><rect x="528" y="443.15" width="13.75" height="1.2" fill="#d8d8d8"/><rect x="528" y="473.15" width="13.75" height="1.2" fill="#d8d8d8"/><rect x="569.7" y="449.77" width="16.85" height="10.45" fill="#b7998b"/><rect x="560.3" y="448.3" width="10.4" height="13.4" rx="1.8" fill="#eeeeee"/><rect x="585.55" y="448.3" width="10.4" height="13.4" rx="1.8" fill="#eeeeee"/><rect x="566.02" y="448.6" width="2.08" height="12.8" fill="#dadada"/><rect x="588.15" y="448.6" width="2.08" height="12.8" fill="#dadada"/><rect x="674.25" y="267" width="11.25" height="26.75" rx="2.2" fill="#eeeeee"/><rect x="674.85" y="268.87" width="10.05" height="1.61" fill="#d2d2d2"/><rect x="674.85" y="290.27" width="10.05" height="1.61" fill="#d2d2d2"/><rect x="675.05" y="275.02" width="9.65" height="10.7" fill="#2b2b2b"/><rect x="685.67" y="45" width="14.66" height="29.5" fill="#b7998b"/><rect x="683.6" y="35.6" width="18.8" height="10.4" rx="1.8" fill="#eeeeee"/><rect x="683.6" y="73.5" width="18.8" height="10.4" rx="1.8" fill="#eeeeee"/><rect x="683.9" y="41.32" width="18.2" height="2.08" fill="#dadada"/><rect x="683.9" y="76.1" width="18.2" height="2.08" fill="#dadada"/><rect x="764.45" y="102.43" width="11.1" height="8.14" fill="#b7998b"/><rect x="755.78" y="101.28" width="9.67" height="10.44" rx="1.8" fill="#eeeeee"/><rect x="774.55" y="101.28" width="9.67" height="10.44" rx="1.8" fill="#eeeeee"/><rect x="761.1" y="101.58" width="1.93" height="9.84" fill="#dadada"/><rect x="776.97" y="101.58" width="1.93" height="9.84" fill="#dadada"/><rect x="695" y="163.75" width="26" height="11.25" rx="2.2" fill="#eeeeee"/><rect x="696.82" y="164.35" width="1.56" height="10.05" fill="#d2d2d2"/><rect x="717.62" y="164.35" width="1.56" height="10.05" fill="#d2d2d2"/><rect x="702.8" y="164.55" width="10.4" height="9.65" fill="#2b2b2b"/><rect x="750" y="195" width="11" height="26" rx="2.2" fill="#eeeeee"/><rect x="750.6" y="196.82" width="9.8" height="1.56" fill="#d2d2d2"/><rect x="750.6" y="217.62" width="9.8" height="1.56" fill="#d2d2d2"/><rect x="750.8" y="202.8" width="9.4" height="10.4" fill="#2b2b2b"/><rect x="769.02" y="202.02" width="7.46" height="11.46" fill="#b7998b"/><rect x="767.97" y="192.97" width="9.57" height="10.05" rx="1.8" fill="#eeeeee"/><rect x="767.97" y="212.48" width="9.57" height="10.05" rx="1.8" fill="#eeeeee"/><rect x="768.26" y="198.49" width="8.97" height="2.01" fill="#dadada"/><rect x="768.26" y="214.99" width="8.97" height="2.01" fill="#dadada"/><rect x="786.59" y="202.04" width="7.58" height="11.43" fill="#b7998b"/><rect x="785.52" y="193.02" width="9.71" height="10.02" rx="1.8" fill="#eeeeee"/><rect x="785.52" y="212.46" width="9.71" height="10.02" rx="1.8" fill="#eeeeee"/><rect x="785.82" y="198.53" width="9.12" height="2" fill="#dadada"/><rect x="785.82" y="214.97" width="9.12" height="2" fill="#dadada"/><rect x="801.75" y="195" width="10.75" height="26" rx="2.2" fill="#eeeeee"/><rect x="802.35" y="196.82" width="9.55" height="1.56" fill="#d2d2d2"/><rect x="802.35" y="217.62" width="9.55" height="1.56" fill="#d2d2d2"/><rect x="802.55" y="202.8" width="9.15" height="10.4" fill="#2b2b2b"/><circle cx="916.25" cy="171.75" r="11.25" fill="#0000e6"/><rect x="986.76" y="52.15" width="14.23" height="30.7" fill="#b7998b"/><rect x="984.75" y="42.75" width="18.25" height="10.4" rx="1.8" fill="#eeeeee"/><rect x="984.75" y="81.85" width="18.25" height="10.4" rx="1.8" fill="#eeeeee"/><rect x="985.05" y="48.47" width="17.65" height="2.08" fill="#dadada"/><rect x="985.05" y="84.45" width="17.65" height="2.08" fill="#dadada"/><rect x="1026.25" y="59.25" width="13.75" height="30.25" fill="#635d5a"/><rect x="1026.25" y="58.65" width="13.75" height="1.2" fill="#d8d8d8"/><rect x="1026.25" y="88.9" width="13.75" height="1.2" fill="#d8d8d8"/><rect x="1074.53" y="25.84" width="10.95" height="7.58" fill="#b7998b"/><rect x="1066.02" y="24.77" width="9.51" height="9.72" rx="1.8" fill="#eeeeee"/><rect x="1084.47" y="24.77" width="9.51" height="9.72" rx="1.8" fill="#eeeeee"/><rect x="1071.25" y="25.07" width="1.9" height="9.12" fill="#dadada"/><rect x="1086.85" y="25.07" width="1.9" height="9.12" fill="#dadada"/><rect x="1063.75" y="62.5" width="28.75" height="15" fill="#635d5a"/><rect x="1210.5" y="70" width="11.25" height="26" rx="2.2" fill="#eeeeee"/><rect x="1211.1" y="71.82" width="10.05" height="1.56" fill="#d2d2d2"/><rect x="1211.1" y="92.62" width="10.05" height="1.56" fill="#d2d2d2"/><rect x="1211.3" y="77.8" width="9.65" height="10.4" fill="#2b2b2b"/><rect x="1234.5" y="70" width="11.25" height="26" rx="2.2" fill="#eeeeee"/><rect x="1235.1" y="71.82" width="10.05" height="1.56" fill="#d2d2d2"/><rect x="1235.1" y="92.62" width="10.05" height="1.56" fill="#d2d2d2"/><rect x="1235.3" y="77.8" width="9.65" height="10.4" fill="#2b2b2b"/><rect x="1235.68" y="112.78" width="8.14" height="10.94" fill="#b7998b"/><rect x="1234.53" y="104.28" width="10.44" height="9.5" rx="1.8" fill="#eeeeee"/><rect x="1234.53" y="122.72" width="10.44" height="9.5" rx="1.8" fill="#eeeeee"/><rect x="1234.83" y="109.5" width="9.84" height="1.9" fill="#dadada"/><rect x="1234.83" y="125.1" width="9.84" height="1.9" fill="#dadada"/><rect x="1255" y="115" width="10.5" height="25" rx="2.2" fill="#eeeeee"/><rect x="1255.6" y="116.75" width="9.3" height="1.5" fill="#d2d2d2"/><rect x="1255.6" y="136.75" width="9.3" height="1.5" fill="#d2d2d2"/><rect x="1255.8" y="122.5" width="8.9" height="10" fill="#2b2b2b"/><rect x="1305.4" y="36.3" width="10.6" height="25.9" rx="2.2" fill="#eeeeee"/><rect x="1306" y="38.11" width="9.4" height="1.55" fill="#d2d2d2"/><rect x="1306" y="58.83" width="9.4" height="1.55" fill="#d2d2d2"/><rect x="1306.2" y="44.07" width="9" height="10.36" fill="#2b2b2b"/><rect x="1324.8" y="41" width="28.9" height="14" fill="#635d5a"/><rect x="1362.7" y="37.8" width="10.3" height="25.7" rx="2.2" fill="#eeeeee"/><rect x="1363.3" y="39.6" width="9.1" height="1.54" fill="#d2d2d2"/><rect x="1363.3" y="60.16" width="9.1" height="1.54" fill="#d2d2d2"/><rect x="1363.5" y="45.51" width="8.7" height="10.28" fill="#2b2b2b"/><rect x="1403.34" y="34.48" width="8.32" height="11.43" fill="#b7998b"/><rect x="1402.16" y="25.46" width="10.67" height="10.02" rx="1.8" fill="#eeeeee"/><rect x="1402.16" y="44.92" width="10.67" height="10.02" rx="1.8" fill="#eeeeee"/><rect x="1402.46" y="30.98" width="10.07" height="2" fill="#dadada"/><rect x="1402.46" y="47.42" width="10.07" height="2" fill="#dadada"/><rect x="1445.7" y="89.62" width="16.6" height="11.47" fill="#b7998b"/><rect x="1436.3" y="88" width="10.4" height="14.7" rx="1.8" fill="#eeeeee"/><rect x="1461.3" y="88" width="10.4" height="14.7" rx="1.8" fill="#eeeeee"/><rect x="1442.02" y="88.3" width="2.08" height="14.1" fill="#dadada"/><rect x="1463.9" y="88.3" width="2.08" height="14.1" fill="#dadada"/><rect x="1123.75" y="143.75" width="25.75" height="10.75" rx="2.2" fill="#eeeeee"/><rect x="1125.55" y="144.35" width="1.55" height="9.55" fill="#d2d2d2"/><rect x="1146.15" y="144.35" width="1.55" height="9.55" fill="#d2d2d2"/><rect x="1131.47" y="144.55" width="10.3" height="9.15" fill="#2b2b2b"/><rect x="1135.5" y="201.25" width="15.75" height="30" fill="#635d5a"/><rect x="1163.92" y="183.54" width="11.41" height="7.92" fill="#b7998b"/><rect x="1154.92" y="182.43" width="10" height="10.15" rx="1.8" fill="#eeeeee"/><rect x="1174.33" y="182.43" width="10" height="10.15" rx="1.8" fill="#eeeeee"/><rect x="1160.42" y="182.73" width="2" height="9.55" fill="#dadada"/><rect x="1176.83" y="182.73" width="2" height="9.55" fill="#dadada"/><rect x="1172.5" y="202" width="42.5" height="28" rx="2" fill="#ededed"/><rect x="1180.5" y="203" width="25.5" height="26" fill="#a09e9a"/><rect x="1126.4" y="243.9" width="29.7" height="13.46" fill="#b7998b"/><rect x="1117" y="242" width="10.4" height="17.25" rx="1.8" fill="#eeeeee"/><rect x="1155.1" y="242" width="10.4" height="17.25" rx="1.8" fill="#eeeeee"/><rect x="1122.72" y="242.3" width="2.08" height="16.65" fill="#dadada"/><rect x="1157.7" y="242.3" width="2.08" height="16.65" fill="#dadada"/><rect x="1185.5" y="244.7" width="15.25" height="11.35" fill="#b7998b"/><rect x="1176.1" y="243.1" width="10.4" height="14.55" rx="1.8" fill="#eeeeee"/><rect x="1199.75" y="243.1" width="10.4" height="14.55" rx="1.8" fill="#eeeeee"/><rect x="1181.82" y="243.4" width="2.08" height="13.95" fill="#dadada"/><rect x="1202.35" y="243.4" width="2.08" height="13.95" fill="#dadada"/><rect x="1185.9" y="271.63" width="15.2" height="10.84" fill="#b7998b"/><rect x="1176.5" y="270.1" width="10.4" height="13.9" rx="1.8" fill="#eeeeee"/><rect x="1200.1" y="270.1" width="10.4" height="13.9" rx="1.8" fill="#eeeeee"/><rect x="1182.22" y="270.4" width="2.08" height="13.3" fill="#dadada"/><rect x="1202.7" y="270.4" width="2.08" height="13.3" fill="#dadada"/><rect x="1123" y="277" width="10.4" height="26" rx="2.2" fill="#eeeeee"/><rect x="1123.6" y="278.82" width="9.2" height="1.56" fill="#d2d2d2"/><rect x="1123.6" y="299.62" width="9.2" height="1.56" fill="#d2d2d2"/><rect x="1123.8" y="284.8" width="8.8" height="10.4" fill="#2b2b2b"/><rect x="1119.8" y="320.8" width="10.2" height="26.2" rx="2.2" fill="#eeeeee"/><rect x="1120.4" y="322.63" width="9" height="1.57" fill="#d2d2d2"/><rect x="1120.4" y="343.59" width="9" height="1.57" fill="#d2d2d2"/><rect x="1120.6" y="328.66" width="8.6" height="10.48" fill="#2b2b2b"/><rect x="1149" y="320.8" width="10.9" height="26.2" rx="2.2" fill="#eeeeee"/><rect x="1149.6" y="322.63" width="9.7" height="1.57" fill="#d2d2d2"/><rect x="1149.6" y="343.59" width="9.7" height="1.57" fill="#d2d2d2"/><rect x="1149.8" y="328.66" width="9.3" height="10.48" fill="#2b2b2b"/><rect x="1240.6" y="320.8" width="10.4" height="25.2" rx="2.2" fill="#eeeeee"/><rect x="1241.2" y="322.56" width="9.2" height="1.51" fill="#d2d2d2"/><rect x="1241.2" y="342.72" width="9.2" height="1.51" fill="#d2d2d2"/><rect x="1241.4" y="328.36" width="8.8" height="10.08" fill="#2b2b2b"/><rect x="1308.6" y="324" width="10.4" height="26" rx="2.2" fill="#eeeeee"/><rect x="1309.2" y="325.82" width="9.2" height="1.56" fill="#d2d2d2"/><rect x="1309.2" y="346.62" width="9.2" height="1.56" fill="#d2d2d2"/><rect x="1309.4" y="331.8" width="8.8" height="10.4" fill="#2b2b2b"/><rect x="1328.4" y="324" width="10.4" height="26" rx="2.2" fill="#eeeeee"/><rect x="1329" y="325.82" width="9.2" height="1.56" fill="#d2d2d2"/><rect x="1329" y="346.62" width="9.2" height="1.56" fill="#d2d2d2"/><rect x="1329.2" y="331.8" width="8.8" height="10.4" fill="#2b2b2b"/><rect x="1347" y="324" width="10.6" height="26" rx="2.2" fill="#eeeeee"/><rect x="1347.6" y="325.82" width="9.4" height="1.56" fill="#d2d2d2"/><rect x="1347.6" y="346.62" width="9.4" height="1.56" fill="#d2d2d2"/><rect x="1347.8" y="331.8" width="9" height="10.4" fill="#2b2b2b"/><rect x="1421.6" y="335.4" width="26.1" height="10.5" rx="2.2" fill="#eeeeee"/><rect x="1423.43" y="336" width="1.57" height="9.3" fill="#d2d2d2"/><rect x="1444.31" y="336" width="1.57" height="9.3" fill="#d2d2d2"/><rect x="1429.43" y="336.2" width="10.44" height="8.9" fill="#2b2b2b"/><rect x="1389.3" y="391.3" width="25.7" height="10.9" rx="2.2" fill="#eeeeee"/><rect x="1391.1" y="391.9" width="1.54" height="9.7" fill="#d2d2d2"/><rect x="1411.66" y="391.9" width="1.54" height="9.7" fill="#d2d2d2"/><rect x="1397.01" y="392.1" width="10.28" height="9.3" fill="#2b2b2b"/><rect x="1389.3" y="410.4" width="25.7" height="10.6" rx="2.2" fill="#eeeeee"/><rect x="1391.1" y="411" width="1.54" height="9.4" fill="#d2d2d2"/><rect x="1411.66" y="411" width="1.54" height="9.4" fill="#d2d2d2"/><rect x="1397.01" y="411.2" width="10.28" height="9" fill="#2b2b2b"/><rect x="981" y="313.6" width="11.3" height="25.7" rx="2.2" fill="#eeeeee"/><rect x="981.6" y="315.4" width="10.1" height="1.54" fill="#d2d2d2"/><rect x="981.6" y="335.96" width="10.1" height="1.54" fill="#d2d2d2"/><rect x="981.8" y="321.31" width="9.7" height="10.28" fill="#2b2b2b"/><rect x="1025.5" y="387.7" width="102.2" height="37.8" fill="#66605d"/><rect x="1025.5" y="387.7" width="102.2" height="37.8" fill="none" stroke="#3a3634" stroke-width="1"/><rect x="1150.4" y="387.7" width="102.8" height="37.8" fill="#66605d"/><rect x="1150.4" y="387.7" width="102.8" height="37.8" fill="none" stroke="#3a3634" stroke-width="1"/><rect x="1275.3" y="387.7" width="102.7" height="37.8" fill="#66605d"/><rect x="1275.3" y="387.7" width="102.7" height="37.8" fill="none" stroke="#3a3634" stroke-width="1"/><rect x="1000.7" y="460.3" width="10.6" height="25.7" rx="2.2" fill="#eeeeee"/><rect x="1001.3" y="462.1" width="9.4" height="1.54" fill="#d2d2d2"/><rect x="1001.3" y="482.66" width="9.4" height="1.54" fill="#d2d2d2"/><rect x="1001.5" y="468.01" width="9" height="10.28" fill="#2b2b2b"/><rect x="1076.3" y="470.9" width="25.7" height="11.1" rx="2.2" fill="#eeeeee"/><rect x="1078.1" y="471.5" width="1.54" height="9.9" fill="#d2d2d2"/><rect x="1098.66" y="471.5" width="1.54" height="9.9" fill="#d2d2d2"/><rect x="1084.01" y="471.7" width="10.28" height="9.5" fill="#2b2b2b"/><rect x="1120.2" y="470.9" width="25.7" height="11.1" rx="2.2" fill="#eeeeee"/><rect x="1122" y="471.5" width="1.54" height="9.9" fill="#d2d2d2"/><rect x="1142.56" y="471.5" width="1.54" height="9.9" fill="#d2d2d2"/><rect x="1127.91" y="471.7" width="10.28" height="9.5" fill="#2b2b2b"/><rect x="1120.2" y="493.5" width="25.7" height="10.5" rx="2.2" fill="#eeeeee"/><rect x="1122" y="494.1" width="1.54" height="9.3" fill="#d2d2d2"/><rect x="1142.56" y="494.1" width="1.54" height="9.3" fill="#d2d2d2"/><rect x="1127.91" y="494.3" width="10.28" height="8.9" fill="#2b2b2b"/><rect x="1323.7" y="461" width="25.3" height="11.4" rx="2.2" fill="#eeeeee"/><rect x="1325.47" y="461.6" width="1.52" height="10.2" fill="#d2d2d2"/><rect x="1345.71" y="461.6" width="1.52" height="10.2" fill="#d2d2d2"/><rect x="1331.29" y="461.8" width="10.12" height="9.8" fill="#2b2b2b"/><rect x="528.75" y="483" width="13.75" height="29.5" fill="#635d5a"/><rect x="528.75" y="482.4" width="13.75" height="1.2" fill="#d8d8d8"/><rect x="528.75" y="511.9" width="13.75" height="1.2" fill="#d8d8d8"/><rect x="522.5" y="521.25" width="10" height="25" rx="2.2" fill="#eeeeee"/><rect x="523.1" y="523" width="8.8" height="1.5" fill="#d2d2d2"/><rect x="523.1" y="543" width="8.8" height="1.5" fill="#d2d2d2"/><rect x="523.3" y="528.75" width="8.4" height="10" fill="#2b2b2b"/><rect x="522.5" y="553.75" width="10" height="25.75" rx="2.2" fill="#eeeeee"/><rect x="523.1" y="555.55" width="8.8" height="1.54" fill="#d2d2d2"/><rect x="523.1" y="576.15" width="8.8" height="1.54" fill="#d2d2d2"/><rect x="523.3" y="561.48" width="8.4" height="10.3" fill="#2b2b2b"/><rect x="483" y="555.5" width="30.75" height="13.25" fill="#635d5a"/><rect x="482.4" y="555.5" width="1.2" height="13.25" fill="#d8d8d8"/><rect x="513.15" y="555.5" width="1.2" height="13.25" fill="#d8d8d8"/><rect x="513" y="630.5" width="30.75" height="13.25" fill="#635d5a"/><rect x="512.4" y="630.5" width="1.2" height="13.25" fill="#d8d8d8"/><rect x="543.15" y="630.5" width="1.2" height="13.25" fill="#d8d8d8"/><rect x="544.93" y="538.46" width="8.14" height="11.58" fill="#b7998b"/><rect x="543.78" y="529.28" width="10.44" height="10.18" rx="1.8" fill="#eeeeee"/><rect x="543.78" y="549.04" width="10.44" height="10.18" rx="1.8" fill="#eeeeee"/><rect x="544.08" y="534.88" width="9.84" height="2.04" fill="#dadada"/><rect x="544.08" y="551.59" width="9.84" height="2.04" fill="#dadada"/><rect x="613.25" y="520.75" width="13.75" height="29.25" fill="#635d5a"/><rect x="613.25" y="520.15" width="13.75" height="1.2" fill="#d8d8d8"/><rect x="613.25" y="549.4" width="13.75" height="1.2" fill="#d8d8d8"/><rect x="578.75" y="557" width="26.25" height="11" rx="2.2" fill="#eeeeee"/><rect x="580.59" y="557.6" width="1.58" height="9.8" fill="#d2d2d2"/><rect x="601.59" y="557.6" width="1.58" height="9.8" fill="#d2d2d2"/><rect x="586.62" y="557.8" width="10.5" height="9.4" fill="#2b2b2b"/><rect x="612" y="557" width="26" height="11" rx="2.2" fill="#eeeeee"/><rect x="613.82" y="557.6" width="1.56" height="9.8" fill="#d2d2d2"/><rect x="634.62" y="557.6" width="1.56" height="9.8" fill="#d2d2d2"/><rect x="619.8" y="557.8" width="10.4" height="9.4" fill="#2b2b2b"/><rect x="554.25" y="573" width="13.25" height="30.75" fill="#635d5a"/><rect x="554.25" y="572.4" width="13.25" height="1.2" fill="#d8d8d8"/><rect x="554.25" y="603.15" width="13.25" height="1.2" fill="#d8d8d8"/><rect x="613.25" y="573" width="13.75" height="30.75" fill="#635d5a"/><rect x="613.25" y="572.4" width="13.75" height="1.2" fill="#d8d8d8"/><rect x="613.25" y="603.15" width="13.75" height="1.2" fill="#d8d8d8"/><rect x="650.53" y="538.46" width="8.14" height="11.58" fill="#b7998b"/><rect x="649.38" y="529.28" width="10.44" height="10.18" rx="1.8" fill="#eeeeee"/><rect x="649.38" y="549.04" width="10.44" height="10.18" rx="1.8" fill="#eeeeee"/><rect x="649.68" y="534.88" width="9.84" height="2.04" fill="#dadada"/><rect x="649.68" y="551.59" width="9.84" height="2.04" fill="#dadada"/><rect x="718.85" y="520.75" width="13.75" height="29.25" fill="#635d5a"/><rect x="718.85" y="520.15" width="13.75" height="1.2" fill="#d8d8d8"/><rect x="718.85" y="549.4" width="13.75" height="1.2" fill="#d8d8d8"/><rect x="684.35" y="557" width="26.25" height="11" rx="2.2" fill="#eeeeee"/><rect x="686.19" y="557.6" width="1.58" height="9.8" fill="#d2d2d2"/><rect x="707.19" y="557.6" width="1.58" height="9.8" fill="#d2d2d2"/><rect x="692.23" y="557.8" width="10.5" height="9.4" fill="#2b2b2b"/><rect x="717.6" y="557" width="26" height="11" rx="2.2" fill="#eeeeee"/><rect x="719.42" y="557.6" width="1.56" height="9.8" fill="#d2d2d2"/><rect x="740.22" y="557.6" width="1.56" height="9.8" fill="#d2d2d2"/><rect x="725.4" y="557.8" width="10.4" height="9.4" fill="#2b2b2b"/><rect x="659.85" y="573" width="13.25" height="30.75" fill="#635d5a"/><rect x="659.85" y="572.4" width="13.25" height="1.2" fill="#d8d8d8"/><rect x="659.85" y="603.15" width="13.25" height="1.2" fill="#d8d8d8"/><rect x="718.85" y="573" width="13.75" height="30.75" fill="#635d5a"/><rect x="718.85" y="572.4" width="13.75" height="1.2" fill="#d8d8d8"/><rect x="718.85" y="603.15" width="13.75" height="1.2" fill="#d8d8d8"/><rect x="756.13" y="538.46" width="8.14" height="11.58" fill="#b7998b"/><rect x="754.98" y="529.28" width="10.44" height="10.18" rx="1.8" fill="#eeeeee"/><rect x="754.98" y="549.04" width="10.44" height="10.18" rx="1.8" fill="#eeeeee"/><rect x="755.28" y="534.88" width="9.84" height="2.04" fill="#dadada"/><rect x="755.28" y="551.59" width="9.84" height="2.04" fill="#dadada"/><rect x="824.45" y="520.75" width="13.75" height="29.25" fill="#635d5a"/><rect x="824.45" y="520.15" width="13.75" height="1.2" fill="#d8d8d8"/><rect x="824.45" y="549.4" width="13.75" height="1.2" fill="#d8d8d8"/><rect x="789.95" y="557" width="26.25" height="11" rx="2.2" fill="#eeeeee"/><rect x="791.79" y="557.6" width="1.58" height="9.8" fill="#d2d2d2"/><rect x="812.79" y="557.6" width="1.58" height="9.8" fill="#d2d2d2"/><rect x="797.83" y="557.8" width="10.5" height="9.4" fill="#2b2b2b"/><rect x="823.2" y="557" width="26" height="11" rx="2.2" fill="#eeeeee"/><rect x="825.02" y="557.6" width="1.56" height="9.8" fill="#d2d2d2"/><rect x="845.82" y="557.6" width="1.56" height="9.8" fill="#d2d2d2"/><rect x="831" y="557.8" width="10.4" height="9.4" fill="#2b2b2b"/><rect x="765.45" y="573" width="13.25" height="30.75" fill="#635d5a"/><rect x="765.45" y="572.4" width="13.25" height="1.2" fill="#d8d8d8"/><rect x="765.45" y="603.15" width="13.25" height="1.2" fill="#d8d8d8"/><rect x="824.45" y="573" width="13.75" height="30.75" fill="#635d5a"/><rect x="824.45" y="572.4" width="13.75" height="1.2" fill="#d8d8d8"/><rect x="824.45" y="603.15" width="13.75" height="1.2" fill="#d8d8d8"/><rect x="861.73" y="538.46" width="8.14" height="11.58" fill="#b7998b"/><rect x="860.58" y="529.28" width="10.44" height="10.18" rx="1.8" fill="#eeeeee"/><rect x="860.58" y="549.04" width="10.44" height="10.18" rx="1.8" fill="#eeeeee"/><rect x="860.88" y="534.88" width="9.84" height="2.04" fill="#dadada"/><rect x="860.88" y="551.59" width="9.84" height="2.04" fill="#dadada"/><rect x="930.05" y="520.75" width="13.75" height="29.25" fill="#635d5a"/><rect x="930.05" y="520.15" width="13.75" height="1.2" fill="#d8d8d8"/><rect x="930.05" y="549.4" width="13.75" height="1.2" fill="#d8d8d8"/><rect x="895.55" y="557" width="26.25" height="11" rx="2.2" fill="#eeeeee"/><rect x="897.39" y="557.6" width="1.58" height="9.8" fill="#d2d2d2"/><rect x="918.39" y="557.6" width="1.58" height="9.8" fill="#d2d2d2"/><rect x="903.42" y="557.8" width="10.5" height="9.4" fill="#2b2b2b"/><rect x="928.8" y="557" width="26" height="11" rx="2.2" fill="#eeeeee"/><rect x="930.62" y="557.6" width="1.56" height="9.8" fill="#d2d2d2"/><rect x="951.42" y="557.6" width="1.56" height="9.8" fill="#d2d2d2"/><rect x="936.6" y="557.8" width="10.4" height="9.4" fill="#2b2b2b"/><rect x="871.05" y="573" width="13.25" height="30.75" fill="#635d5a"/><rect x="871.05" y="572.4" width="13.25" height="1.2" fill="#d8d8d8"/><rect x="871.05" y="603.15" width="13.25" height="1.2" fill="#d8d8d8"/><rect x="930.05" y="573" width="13.75" height="30.75" fill="#635d5a"/><rect x="930.05" y="572.4" width="13.75" height="1.2" fill="#d8d8d8"/><rect x="930.05" y="603.15" width="13.75" height="1.2" fill="#d8d8d8"/><rect x="967.33" y="538.46" width="8.14" height="11.58" fill="#b7998b"/><rect x="966.18" y="529.28" width="10.44" height="10.18" rx="1.8" fill="#eeeeee"/><rect x="966.18" y="549.04" width="10.44" height="10.18" rx="1.8" fill="#eeeeee"/><rect x="966.48" y="534.88" width="9.84" height="2.04" fill="#dadada"/><rect x="966.48" y="551.59" width="9.84" height="2.04" fill="#dadada"/><rect x="1035.65" y="520.75" width="13.75" height="29.25" fill="#635d5a"/><rect x="1035.65" y="520.15" width="13.75" height="1.2" fill="#d8d8d8"/><rect x="1035.65" y="549.4" width="13.75" height="1.2" fill="#d8d8d8"/><rect x="1001.15" y="557" width="26.25" height="11" rx="2.2" fill="#eeeeee"/><rect x="1002.99" y="557.6" width="1.58" height="9.8" fill="#d2d2d2"/><rect x="1023.99" y="557.6" width="1.57" height="9.8" fill="#d2d2d2"/><rect x="1009.02" y="557.8" width="10.5" height="9.4" fill="#2b2b2b"/><rect x="1034.4" y="557" width="26" height="11" rx="2.2" fill="#eeeeee"/><rect x="1036.22" y="557.6" width="1.56" height="9.8" fill="#d2d2d2"/><rect x="1057.02" y="557.6" width="1.56" height="9.8" fill="#d2d2d2"/><rect x="1042.2" y="557.8" width="10.4" height="9.4" fill="#2b2b2b"/><rect x="976.65" y="573" width="13.25" height="30.75" fill="#635d5a"/><rect x="976.65" y="572.4" width="13.25" height="1.2" fill="#d8d8d8"/><rect x="976.65" y="603.15" width="13.25" height="1.2" fill="#d8d8d8"/><rect x="1035.65" y="573" width="13.75" height="30.75" fill="#635d5a"/><rect x="1035.65" y="572.4" width="13.75" height="1.2" fill="#d8d8d8"/><rect x="1035.65" y="603.15" width="13.75" height="1.2" fill="#d8d8d8"/><rect x="1072.93" y="538.46" width="8.14" height="11.58" fill="#b7998b"/><rect x="1071.78" y="529.28" width="10.44" height="10.18" rx="1.8" fill="#eeeeee"/><rect x="1071.78" y="549.04" width="10.44" height="10.18" rx="1.8" fill="#eeeeee"/><rect x="1072.08" y="534.88" width="9.84" height="2.04" fill="#dadada"/><rect x="1072.08" y="551.59" width="9.84" height="2.04" fill="#dadada"/><rect x="1141.25" y="520.75" width="13.75" height="29.25" fill="#635d5a"/><rect x="1141.25" y="520.15" width="13.75" height="1.2" fill="#d8d8d8"/><rect x="1141.25" y="549.4" width="13.75" height="1.2" fill="#d8d8d8"/><rect x="1106.75" y="557" width="26.25" height="11" rx="2.2" fill="#eeeeee"/><rect x="1108.59" y="557.6" width="1.57" height="9.8" fill="#d2d2d2"/><rect x="1129.59" y="557.6" width="1.57" height="9.8" fill="#d2d2d2"/><rect x="1114.62" y="557.8" width="10.5" height="9.4" fill="#2b2b2b"/><rect x="1140" y="557" width="26" height="11" rx="2.2" fill="#eeeeee"/><rect x="1141.82" y="557.6" width="1.56" height="9.8" fill="#d2d2d2"/><rect x="1162.62" y="557.6" width="1.56" height="9.8" fill="#d2d2d2"/><rect x="1147.8" y="557.8" width="10.4" height="9.4" fill="#2b2b2b"/><rect x="1082.25" y="573" width="13.25" height="30.75" fill="#635d5a"/><rect x="1082.25" y="572.4" width="13.25" height="1.2" fill="#d8d8d8"/><rect x="1082.25" y="603.15" width="13.25" height="1.2" fill="#d8d8d8"/><rect x="1141.25" y="573" width="13.75" height="30.75" fill="#635d5a"/><rect x="1141.25" y="572.4" width="13.75" height="1.2" fill="#d8d8d8"/><rect x="1141.25" y="603.15" width="13.75" height="1.2" fill="#d8d8d8"/><rect x="1178.53" y="538.46" width="8.14" height="11.58" fill="#b7998b"/><rect x="1177.38" y="529.28" width="10.44" height="10.18" rx="1.8" fill="#eeeeee"/><rect x="1177.38" y="549.04" width="10.44" height="10.18" rx="1.8" fill="#eeeeee"/><rect x="1177.68" y="534.88" width="9.84" height="2.04" fill="#dadada"/><rect x="1177.68" y="551.59" width="9.84" height="2.04" fill="#dadada"/><rect x="1246.85" y="520.75" width="13.75" height="29.25" fill="#635d5a"/><rect x="1246.85" y="520.15" width="13.75" height="1.2" fill="#d8d8d8"/><rect x="1246.85" y="549.4" width="13.75" height="1.2" fill="#d8d8d8"/><rect x="1212.35" y="557" width="26.25" height="11" rx="2.2" fill="#eeeeee"/><rect x="1214.19" y="557.6" width="1.57" height="9.8" fill="#d2d2d2"/><rect x="1235.19" y="557.6" width="1.57" height="9.8" fill="#d2d2d2"/><rect x="1220.22" y="557.8" width="10.5" height="9.4" fill="#2b2b2b"/><rect x="1245.6" y="557" width="26" height="11" rx="2.2" fill="#eeeeee"/><rect x="1247.42" y="557.6" width="1.56" height="9.8" fill="#d2d2d2"/><rect x="1268.22" y="557.6" width="1.56" height="9.8" fill="#d2d2d2"/><rect x="1253.4" y="557.8" width="10.4" height="9.4" fill="#2b2b2b"/><rect x="1187.85" y="573" width="13.25" height="30.75" fill="#635d5a"/><rect x="1187.85" y="572.4" width="13.25" height="1.2" fill="#d8d8d8"/><rect x="1187.85" y="603.15" width="13.25" height="1.2" fill="#d8d8d8"/><rect x="1246.85" y="573" width="13.75" height="30.75" fill="#635d5a"/><rect x="1246.85" y="572.4" width="13.75" height="1.2" fill="#d8d8d8"/><rect x="1246.85" y="603.15" width="13.75" height="1.2" fill="#d8d8d8"/><rect x="1284.13" y="538.46" width="8.14" height="11.58" fill="#b7998b"/><rect x="1282.98" y="529.28" width="10.44" height="10.18" rx="1.8" fill="#eeeeee"/><rect x="1282.98" y="549.04" width="10.44" height="10.18" rx="1.8" fill="#eeeeee"/><rect x="1283.28" y="534.88" width="9.84" height="2.04" fill="#dadada"/><rect x="1283.28" y="551.59" width="9.84" height="2.04" fill="#dadada"/><rect x="1352.45" y="520.75" width="13.75" height="29.25" fill="#635d5a"/><rect x="1352.45" y="520.15" width="13.75" height="1.2" fill="#d8d8d8"/><rect x="1352.45" y="549.4" width="13.75" height="1.2" fill="#d8d8d8"/><rect x="1317.95" y="557" width="26.25" height="11" rx="2.2" fill="#eeeeee"/><rect x="1319.79" y="557.6" width="1.57" height="9.8" fill="#d2d2d2"/><rect x="1340.79" y="557.6" width="1.57" height="9.8" fill="#d2d2d2"/><rect x="1325.82" y="557.8" width="10.5" height="9.4" fill="#2b2b2b"/><rect x="1351.2" y="557" width="26" height="11" rx="2.2" fill="#eeeeee"/><rect x="1353.02" y="557.6" width="1.56" height="9.8" fill="#d2d2d2"/><rect x="1373.82" y="557.6" width="1.56" height="9.8" fill="#d2d2d2"/><rect x="1359" y="557.8" width="10.4" height="9.4" fill="#2b2b2b"/><rect x="1293.45" y="573" width="13.25" height="30.75" fill="#635d5a"/><rect x="1293.45" y="572.4" width="13.25" height="1.2" fill="#d8d8d8"/><rect x="1293.45" y="603.15" width="13.25" height="1.2" fill="#d8d8d8"/><rect x="1352.45" y="573" width="13.75" height="30.75" fill="#635d5a"/><rect x="1352.45" y="572.4" width="13.75" height="1.2" fill="#d8d8d8"/><rect x="1352.45" y="603.15" width="13.75" height="1.2" fill="#d8d8d8"/><rect x="1407.4" y="520.1" width="14.6" height="30.3" fill="#635d5a"/><rect x="1407.4" y="519.5" width="14.6" height="1.2" fill="#d8d8d8"/><rect x="1407.4" y="549.8" width="14.6" height="1.2" fill="#d8d8d8"/><rect x="1409" y="560.7" width="11.4" height="25.1" rx="2.2" fill="#eeeeee"/><rect x="1409.6" y="562.46" width="10.2" height="1.51" fill="#d2d2d2"/><rect x="1409.6" y="582.54" width="10.2" height="1.51" fill="#d2d2d2"/><rect x="1409.8" y="568.23" width="9.8" height="10.04" fill="#2b2b2b"/><rect x="1406.8" y="626.2" width="13.5" height="30.3" fill="#635d5a"/><rect x="1406.8" y="625.6" width="13.5" height="1.2" fill="#d8d8d8"/><rect x="1406.8" y="655.9" width="13.5" height="1.2" fill="#d8d8d8"/><rect x="1400.8" y="665.9" width="25.5" height="10.6" rx="2.2" fill="#eeeeee"/><rect x="1402.59" y="666.5" width="1.53" height="9.4" fill="#d2d2d2"/><rect x="1422.98" y="666.5" width="1.53" height="9.4" fill="#d2d2d2"/><rect x="1408.45" y="666.7" width="10.2" height="9" fill="#2b2b2b"/><rect x="590.75" y="667.5" width="49.25" height="38" fill="#66605d" stroke="#2a2827" stroke-width="1"/><circle cx="629.3" cy="677.5" r="1.8" fill="#d8d0bc"/><rect x="647.43" y="677.53" width="8.14" height="11.18" fill="#b7998b"/><rect x="646.28" y="668.78" width="10.44" height="9.75" rx="1.8" fill="#eeeeee"/><rect x="646.28" y="687.72" width="10.44" height="9.75" rx="1.8" fill="#eeeeee"/><rect x="646.58" y="674.15" width="9.84" height="1.95" fill="#dadada"/><rect x="646.58" y="690.15" width="9.84" height="1.95" fill="#dadada"/><rect x="581.3" y="731.25" width="11.15" height="8.26" fill="#b7998b"/><rect x="572.58" y="730.08" width="9.72" height="10.59" rx="1.8" fill="#eeeeee"/><rect x="591.45" y="730.08" width="9.72" height="10.59" rx="1.8" fill="#eeeeee"/><rect x="577.93" y="730.38" width="1.94" height="9.99" fill="#dadada"/><rect x="593.88" y="730.38" width="1.94" height="9.99" fill="#dadada"/><rect x="671.25" y="656.5" width="159.25" height="75" fill="#66605d" stroke="#151515" stroke-width="1.6"/><circle cx="820.5" cy="666.25" r="2.8" fill="#d8d0bc"/><rect x="881.25" y="656.5" width="159.25" height="75" fill="#66605d" stroke="#151515" stroke-width="1.6"/><circle cx="1030.5" cy="666.25" r="2.8" fill="#d8d0bc"/><rect x="1090.75" y="656.5" width="159.25" height="75" fill="#66605d" stroke="#151515" stroke-width="1.6"/><circle cx="1240" cy="666.25" r="2.8" fill="#d8d0bc"/><rect x="850.5" y="735.31" width="8.26" height="11.39" fill="#b7998b"/><rect x="849.33" y="726.33" width="10.59" height="9.97" rx="1.8" fill="#eeeeee"/><rect x="849.33" y="745.69" width="10.59" height="9.97" rx="1.8" fill="#eeeeee"/><rect x="849.63" y="731.82" width="9.99" height="1.99" fill="#dadada"/><rect x="849.63" y="748.19" width="9.99" height="1.99" fill="#dadada"/><rect x="1060.75" y="735.31" width="8.26" height="11.39" fill="#b7998b"/><rect x="1059.58" y="726.33" width="10.59" height="9.97" rx="1.8" fill="#eeeeee"/><rect x="1059.58" y="745.69" width="10.59" height="9.97" rx="1.8" fill="#eeeeee"/><rect x="1059.88" y="731.82" width="9.99" height="1.99" fill="#dadada"/><rect x="1059.88" y="748.19" width="9.99" height="1.99" fill="#dadada"/><rect x="1268.5" y="735.31" width="8.26" height="11.39" fill="#b7998b"/><rect x="1267.33" y="726.33" width="10.59" height="9.97" rx="1.8" fill="#eeeeee"/><rect x="1267.33" y="745.69" width="10.59" height="9.97" rx="1.8" fill="#eeeeee"/><rect x="1267.63" y="731.82" width="9.99" height="1.99" fill="#dadada"/><rect x="1267.63" y="748.19" width="9.99" height="1.99" fill="#dadada"/><rect x="1290.3" y="709.3" width="11.1" height="26.7" rx="2.2" fill="#eeeeee"/><rect x="1290.9" y="711.17" width="9.9" height="1.6" fill="#d2d2d2"/><rect x="1290.9" y="732.53" width="9.9" height="1.6" fill="#d2d2d2"/><rect x="1291.1" y="717.31" width="9.5" height="10.68" fill="#2b2b2b"/><rect x="1306.5" y="709.3" width="11.1" height="26.7" rx="2.2" fill="#eeeeee"/><rect x="1307.1" y="711.17" width="9.9" height="1.6" fill="#d2d2d2"/><rect x="1307.1" y="732.53" width="9.9" height="1.6" fill="#d2d2d2"/><rect x="1307.3" y="717.31" width="9.5" height="10.68" fill="#2b2b2b"/><rect x="1323.2" y="709.3" width="11.1" height="26.7" rx="2.2" fill="#eeeeee"/><rect x="1323.8" y="711.17" width="9.9" height="1.6" fill="#d2d2d2"/><rect x="1323.8" y="732.53" width="9.9" height="1.6" fill="#d2d2d2"/><rect x="1324" y="717.31" width="9.5" height="10.68" fill="#2b2b2b"/><rect x="1340.2" y="709.3" width="11.1" height="26.7" rx="2.2" fill="#eeeeee"/><rect x="1340.8" y="711.17" width="9.9" height="1.6" fill="#d2d2d2"/><rect x="1340.8" y="732.53" width="9.9" height="1.6" fill="#d2d2d2"/><rect x="1341" y="717.31" width="9.5" height="10.68" fill="#2b2b2b"/><rect x="1357.5" y="709.3" width="11.8" height="26.7" rx="2.2" fill="#eeeeee"/><rect x="1358.1" y="711.17" width="10.6" height="1.6" fill="#d2d2d2"/><rect x="1358.1" y="732.53" width="10.6" height="1.6" fill="#d2d2d2"/><rect x="1358.3" y="717.31" width="10.2" height="10.68" fill="#2b2b2b"/><rect x="544.79" y="814.5" width="7.92" height="11.25" fill="#b7998b"/><rect x="543.67" y="805.67" width="10.15" height="9.83" rx="1.8" fill="#eeeeee"/><rect x="543.67" y="824.75" width="10.15" height="9.83" rx="1.8" fill="#eeeeee"/><rect x="543.97" y="811.08" width="9.55" height="1.97" fill="#dadada"/><rect x="543.97" y="827.21" width="9.55" height="1.97" fill="#dadada"/><rect x="612.5" y="795.75" width="13" height="30" fill="#635d5a"/><rect x="612.5" y="795.15" width="13" height="1.2" fill="#d8d8d8"/><rect x="612.5" y="825.15" width="13" height="1.2" fill="#d8d8d8"/><rect x="578" y="833" width="26.25" height="10.75" rx="2.2" fill="#eeeeee"/><rect x="579.84" y="833.6" width="1.58" height="9.55" fill="#d2d2d2"/><rect x="600.84" y="833.6" width="1.58" height="9.55" fill="#d2d2d2"/><rect x="585.88" y="833.8" width="10.5" height="9.15" fill="#2b2b2b"/><rect x="611.25" y="833" width="26.25" height="10.75" rx="2.2" fill="#eeeeee"/><rect x="613.09" y="833.6" width="1.58" height="9.55" fill="#d2d2d2"/><rect x="634.09" y="833.6" width="1.58" height="9.55" fill="#d2d2d2"/><rect x="619.12" y="833.8" width="10.5" height="9.15" fill="#2b2b2b"/><rect x="554.25" y="849.5" width="13.25" height="30.5" fill="#635d5a"/><rect x="554.25" y="848.9" width="13.25" height="1.2" fill="#d8d8d8"/><rect x="554.25" y="879.4" width="13.25" height="1.2" fill="#d8d8d8"/><rect x="613.25" y="849.5" width="13.75" height="30.5" fill="#635d5a"/><rect x="613.25" y="848.9" width="13.75" height="1.2" fill="#d8d8d8"/><rect x="613.25" y="879.4" width="13.75" height="1.2" fill="#d8d8d8"/><rect x="650.39" y="814.5" width="7.92" height="11.25" fill="#b7998b"/><rect x="649.27" y="805.67" width="10.15" height="9.83" rx="1.8" fill="#eeeeee"/><rect x="649.27" y="824.75" width="10.15" height="9.83" rx="1.8" fill="#eeeeee"/><rect x="649.57" y="811.08" width="9.55" height="1.97" fill="#dadada"/><rect x="649.57" y="827.21" width="9.55" height="1.97" fill="#dadada"/><rect x="718.1" y="795.75" width="13" height="30" fill="#635d5a"/><rect x="718.1" y="795.15" width="13" height="1.2" fill="#d8d8d8"/><rect x="718.1" y="825.15" width="13" height="1.2" fill="#d8d8d8"/><rect x="683.6" y="833" width="26.25" height="10.75" rx="2.2" fill="#eeeeee"/><rect x="685.44" y="833.6" width="1.58" height="9.55" fill="#d2d2d2"/><rect x="706.44" y="833.6" width="1.58" height="9.55" fill="#d2d2d2"/><rect x="691.48" y="833.8" width="10.5" height="9.15" fill="#2b2b2b"/><rect x="716.85" y="833" width="26.25" height="10.75" rx="2.2" fill="#eeeeee"/><rect x="718.69" y="833.6" width="1.58" height="9.55" fill="#d2d2d2"/><rect x="739.69" y="833.6" width="1.58" height="9.55" fill="#d2d2d2"/><rect x="724.73" y="833.8" width="10.5" height="9.15" fill="#2b2b2b"/><rect x="659.85" y="849.5" width="13.25" height="30.5" fill="#635d5a"/><rect x="659.85" y="848.9" width="13.25" height="1.2" fill="#d8d8d8"/><rect x="659.85" y="879.4" width="13.25" height="1.2" fill="#d8d8d8"/><rect x="718.85" y="849.5" width="13.75" height="30.5" fill="#635d5a"/><rect x="718.85" y="848.9" width="13.75" height="1.2" fill="#d8d8d8"/><rect x="718.85" y="879.4" width="13.75" height="1.2" fill="#d8d8d8"/><rect x="755.99" y="814.5" width="7.92" height="11.25" fill="#b7998b"/><rect x="754.88" y="805.67" width="10.15" height="9.83" rx="1.8" fill="#eeeeee"/><rect x="754.88" y="824.75" width="10.15" height="9.83" rx="1.8" fill="#eeeeee"/><rect x="755.17" y="811.08" width="9.55" height="1.97" fill="#dadada"/><rect x="755.17" y="827.21" width="9.55" height="1.97" fill="#dadada"/><rect x="823.7" y="795.75" width="13" height="30" fill="#635d5a"/><rect x="823.7" y="795.15" width="13" height="1.2" fill="#d8d8d8"/><rect x="823.7" y="825.15" width="13" height="1.2" fill="#d8d8d8"/><rect x="789.2" y="833" width="26.25" height="10.75" rx="2.2" fill="#eeeeee"/><rect x="791.04" y="833.6" width="1.58" height="9.55" fill="#d2d2d2"/><rect x="812.04" y="833.6" width="1.58" height="9.55" fill="#d2d2d2"/><rect x="797.08" y="833.8" width="10.5" height="9.15" fill="#2b2b2b"/><rect x="822.45" y="833" width="26.25" height="10.75" rx="2.2" fill="#eeeeee"/><rect x="824.29" y="833.6" width="1.58" height="9.55" fill="#d2d2d2"/><rect x="845.29" y="833.6" width="1.58" height="9.55" fill="#d2d2d2"/><rect x="830.33" y="833.8" width="10.5" height="9.15" fill="#2b2b2b"/><rect x="765.45" y="849.5" width="13.25" height="30.5" fill="#635d5a"/><rect x="765.45" y="848.9" width="13.25" height="1.2" fill="#d8d8d8"/><rect x="765.45" y="879.4" width="13.25" height="1.2" fill="#d8d8d8"/><rect x="824.45" y="849.5" width="13.75" height="30.5" fill="#635d5a"/><rect x="824.45" y="848.9" width="13.75" height="1.2" fill="#d8d8d8"/><rect x="824.45" y="879.4" width="13.75" height="1.2" fill="#d8d8d8"/><rect x="861.59" y="814.5" width="7.92" height="11.25" fill="#b7998b"/><rect x="860.47" y="805.67" width="10.15" height="9.83" rx="1.8" fill="#eeeeee"/><rect x="860.47" y="824.75" width="10.15" height="9.83" rx="1.8" fill="#eeeeee"/><rect x="860.77" y="811.08" width="9.55" height="1.97" fill="#dadada"/><rect x="860.77" y="827.21" width="9.55" height="1.97" fill="#dadada"/><rect x="929.3" y="795.75" width="13" height="30" fill="#635d5a"/><rect x="929.3" y="795.15" width="13" height="1.2" fill="#d8d8d8"/><rect x="929.3" y="825.15" width="13" height="1.2" fill="#d8d8d8"/><rect x="894.8" y="833" width="26.25" height="10.75" rx="2.2" fill="#eeeeee"/><rect x="896.64" y="833.6" width="1.58" height="9.55" fill="#d2d2d2"/><rect x="917.64" y="833.6" width="1.58" height="9.55" fill="#d2d2d2"/><rect x="902.67" y="833.8" width="10.5" height="9.15" fill="#2b2b2b"/><rect x="928.05" y="833" width="26.25" height="10.75" rx="2.2" fill="#eeeeee"/><rect x="929.89" y="833.6" width="1.58" height="9.55" fill="#d2d2d2"/><rect x="950.89" y="833.6" width="1.58" height="9.55" fill="#d2d2d2"/><rect x="935.92" y="833.8" width="10.5" height="9.15" fill="#2b2b2b"/><rect x="871.05" y="849.5" width="13.25" height="30.5" fill="#635d5a"/><rect x="871.05" y="848.9" width="13.25" height="1.2" fill="#d8d8d8"/><rect x="871.05" y="879.4" width="13.25" height="1.2" fill="#d8d8d8"/><rect x="930.05" y="849.5" width="13.75" height="30.5" fill="#635d5a"/><rect x="930.05" y="848.9" width="13.75" height="1.2" fill="#d8d8d8"/><rect x="930.05" y="879.4" width="13.75" height="1.2" fill="#d8d8d8"/><rect x="967.19" y="814.5" width="7.92" height="11.25" fill="#b7998b"/><rect x="966.07" y="805.67" width="10.15" height="9.83" rx="1.8" fill="#eeeeee"/><rect x="966.07" y="824.75" width="10.15" height="9.83" rx="1.8" fill="#eeeeee"/><rect x="966.37" y="811.08" width="9.55" height="1.97" fill="#dadada"/><rect x="966.37" y="827.21" width="9.55" height="1.97" fill="#dadada"/><rect x="1034.9" y="795.75" width="13" height="30" fill="#635d5a"/><rect x="1034.9" y="795.15" width="13" height="1.2" fill="#d8d8d8"/><rect x="1034.9" y="825.15" width="13" height="1.2" fill="#d8d8d8"/><rect x="1000.4" y="833" width="26.25" height="10.75" rx="2.2" fill="#eeeeee"/><rect x="1002.24" y="833.6" width="1.58" height="9.55" fill="#d2d2d2"/><rect x="1023.24" y="833.6" width="1.57" height="9.55" fill="#d2d2d2"/><rect x="1008.27" y="833.8" width="10.5" height="9.15" fill="#2b2b2b"/><rect x="1033.65" y="833" width="26.25" height="10.75" rx="2.2" fill="#eeeeee"/><rect x="1035.49" y="833.6" width="1.57" height="9.55" fill="#d2d2d2"/><rect x="1056.49" y="833.6" width="1.57" height="9.55" fill="#d2d2d2"/><rect x="1041.53" y="833.8" width="10.5" height="9.15" fill="#2b2b2b"/><rect x="976.65" y="849.5" width="13.25" height="30.5" fill="#635d5a"/><rect x="976.65" y="848.9" width="13.25" height="1.2" fill="#d8d8d8"/><rect x="976.65" y="879.4" width="13.25" height="1.2" fill="#d8d8d8"/><rect x="1035.65" y="849.5" width="13.75" height="30.5" fill="#635d5a"/><rect x="1035.65" y="848.9" width="13.75" height="1.2" fill="#d8d8d8"/><rect x="1035.65" y="879.4" width="13.75" height="1.2" fill="#d8d8d8"/><rect x="1072.79" y="814.5" width="7.92" height="11.25" fill="#b7998b"/><rect x="1071.67" y="805.67" width="10.15" height="9.83" rx="1.8" fill="#eeeeee"/><rect x="1071.67" y="824.75" width="10.15" height="9.83" rx="1.8" fill="#eeeeee"/><rect x="1071.97" y="811.08" width="9.55" height="1.97" fill="#dadada"/><rect x="1071.97" y="827.21" width="9.55" height="1.97" fill="#dadada"/><rect x="1140.5" y="795.75" width="13" height="30" fill="#635d5a"/><rect x="1140.5" y="795.15" width="13" height="1.2" fill="#d8d8d8"/><rect x="1140.5" y="825.15" width="13" height="1.2" fill="#d8d8d8"/><rect x="1106" y="833" width="26.25" height="10.75" rx="2.2" fill="#eeeeee"/><rect x="1107.84" y="833.6" width="1.57" height="9.55" fill="#d2d2d2"/><rect x="1128.84" y="833.6" width="1.57" height="9.55" fill="#d2d2d2"/><rect x="1113.88" y="833.8" width="10.5" height="9.15" fill="#2b2b2b"/><rect x="1139.25" y="833" width="26.25" height="10.75" rx="2.2" fill="#eeeeee"/><rect x="1141.09" y="833.6" width="1.57" height="9.55" fill="#d2d2d2"/><rect x="1162.09" y="833.6" width="1.57" height="9.55" fill="#d2d2d2"/><rect x="1147.12" y="833.8" width="10.5" height="9.15" fill="#2b2b2b"/><rect x="1082.25" y="849.5" width="13.25" height="30.5" fill="#635d5a"/><rect x="1082.25" y="848.9" width="13.25" height="1.2" fill="#d8d8d8"/><rect x="1082.25" y="879.4" width="13.25" height="1.2" fill="#d8d8d8"/><rect x="1141.25" y="849.5" width="13.75" height="30.5" fill="#635d5a"/><rect x="1141.25" y="848.9" width="13.75" height="1.2" fill="#d8d8d8"/><rect x="1141.25" y="879.4" width="13.75" height="1.2" fill="#d8d8d8"/><rect x="1178.39" y="814.5" width="7.92" height="11.25" fill="#b7998b"/><rect x="1177.27" y="805.67" width="10.15" height="9.83" rx="1.8" fill="#eeeeee"/><rect x="1177.27" y="824.75" width="10.15" height="9.83" rx="1.8" fill="#eeeeee"/><rect x="1177.57" y="811.08" width="9.55" height="1.97" fill="#dadada"/><rect x="1177.57" y="827.21" width="9.55" height="1.97" fill="#dadada"/><rect x="1246.1" y="795.75" width="13" height="30" fill="#635d5a"/><rect x="1246.1" y="795.15" width="13" height="1.2" fill="#d8d8d8"/><rect x="1246.1" y="825.15" width="13" height="1.2" fill="#d8d8d8"/><rect x="1211.6" y="833" width="26.25" height="10.75" rx="2.2" fill="#eeeeee"/><rect x="1213.44" y="833.6" width="1.57" height="9.55" fill="#d2d2d2"/><rect x="1234.44" y="833.6" width="1.57" height="9.55" fill="#d2d2d2"/><rect x="1219.47" y="833.8" width="10.5" height="9.15" fill="#2b2b2b"/><rect x="1244.85" y="833" width="26.25" height="10.75" rx="2.2" fill="#eeeeee"/><rect x="1246.69" y="833.6" width="1.57" height="9.55" fill="#d2d2d2"/><rect x="1267.69" y="833.6" width="1.57" height="9.55" fill="#d2d2d2"/><rect x="1252.72" y="833.8" width="10.5" height="9.15" fill="#2b2b2b"/><rect x="1187.85" y="849.5" width="13.25" height="30.5" fill="#635d5a"/><rect x="1187.85" y="848.9" width="13.25" height="1.2" fill="#d8d8d8"/><rect x="1187.85" y="879.4" width="13.25" height="1.2" fill="#d8d8d8"/><rect x="1246.85" y="849.5" width="13.75" height="30.5" fill="#635d5a"/><rect x="1246.85" y="848.9" width="13.75" height="1.2" fill="#d8d8d8"/><rect x="1246.85" y="879.4" width="13.75" height="1.2" fill="#d8d8d8"/><rect x="1283.99" y="814.5" width="7.92" height="11.25" fill="#b7998b"/><rect x="1282.87" y="805.67" width="10.15" height="9.83" rx="1.8" fill="#eeeeee"/><rect x="1282.87" y="824.75" width="10.15" height="9.83" rx="1.8" fill="#eeeeee"/><rect x="1283.17" y="811.08" width="9.55" height="1.97" fill="#dadada"/><rect x="1283.17" y="827.21" width="9.55" height="1.97" fill="#dadada"/><rect x="1351.7" y="795.75" width="13" height="30" fill="#635d5a"/><rect x="1351.7" y="795.15" width="13" height="1.2" fill="#d8d8d8"/><rect x="1351.7" y="825.15" width="13" height="1.2" fill="#d8d8d8"/><rect x="1317.2" y="833" width="26.25" height="10.75" rx="2.2" fill="#eeeeee"/><rect x="1319.04" y="833.6" width="1.57" height="9.55" fill="#d2d2d2"/><rect x="1340.04" y="833.6" width="1.57" height="9.55" fill="#d2d2d2"/><rect x="1325.07" y="833.8" width="10.5" height="9.15" fill="#2b2b2b"/><rect x="1350.45" y="833" width="26.25" height="10.75" rx="2.2" fill="#eeeeee"/><rect x="1352.29" y="833.6" width="1.57" height="9.55" fill="#d2d2d2"/><rect x="1373.29" y="833.6" width="1.57" height="9.55" fill="#d2d2d2"/><rect x="1358.32" y="833.8" width="10.5" height="9.15" fill="#2b2b2b"/><rect x="1293.45" y="849.5" width="13.25" height="30.5" fill="#635d5a"/><rect x="1293.45" y="848.9" width="13.25" height="1.2" fill="#d8d8d8"/><rect x="1293.45" y="879.4" width="13.25" height="1.2" fill="#d8d8d8"/><rect x="1352.45" y="849.5" width="13.75" height="30.5" fill="#635d5a"/><rect x="1352.45" y="848.9" width="13.75" height="1.2" fill="#d8d8d8"/><rect x="1352.45" y="879.4" width="13.75" height="1.2" fill="#d8d8d8"/><rect x="568.5" y="920.73" width="15" height="11.54" fill="#b7998b"/><rect x="559.1" y="919.1" width="10.4" height="14.8" rx="1.8" fill="#eeeeee"/><rect x="582.5" y="919.1" width="10.4" height="14.8" rx="1.8" fill="#eeeeee"/><rect x="564.82" y="919.4" width="2.08" height="14.2" fill="#dadada"/><rect x="585.1" y="919.4" width="2.08" height="14.2" fill="#dadada"/><rect x="601.25" y="922.75" width="26.5" height="11" rx="2.2" fill="#eeeeee"/><rect x="603.11" y="923.35" width="1.59" height="9.8" fill="#d2d2d2"/><rect x="624.3" y="923.35" width="1.59" height="9.8" fill="#d2d2d2"/><rect x="609.2" y="923.55" width="10.6" height="9.4" fill="#2b2b2b"/><rect x="638.75" y="944" width="11.25" height="26" rx="2.2" fill="#eeeeee"/><rect x="639.35" y="945.82" width="10.05" height="1.56" fill="#d2d2d2"/><rect x="639.35" y="966.62" width="10.05" height="1.56" fill="#d2d2d2"/><rect x="639.55" y="951.8" width="9.65" height="10.4" fill="#2b2b2b"/><rect x="559.75" y="953.75" width="31.5" height="13.5" fill="#635d5a"/><rect x="559.15" y="953.75" width="1.2" height="13.5" fill="#d8d8d8"/><rect x="590.65" y="953.75" width="1.2" height="13.5" fill="#d8d8d8"/><rect x="599.5" y="953.75" width="30.75" height="13.5" fill="#635d5a"/><rect x="598.9" y="953.75" width="1.2" height="13.5" fill="#d8d8d8"/><rect x="629.65" y="953.75" width="1.2" height="13.5" fill="#d8d8d8"/><rect x="673.1" y="920.73" width="15" height="11.54" fill="#b7998b"/><rect x="663.7" y="919.1" width="10.4" height="14.8" rx="1.8" fill="#eeeeee"/><rect x="687.1" y="919.1" width="10.4" height="14.8" rx="1.8" fill="#eeeeee"/><rect x="669.42" y="919.4" width="2.08" height="14.2" fill="#dadada"/><rect x="689.7" y="919.4" width="2.08" height="14.2" fill="#dadada"/><rect x="706.75" y="922.75" width="26.5" height="11" rx="2.2" fill="#eeeeee"/><rect x="708.61" y="923.35" width="1.59" height="9.8" fill="#d2d2d2"/><rect x="729.8" y="923.35" width="1.59" height="9.8" fill="#d2d2d2"/><rect x="714.7" y="923.55" width="10.6" height="9.4" fill="#2b2b2b"/><rect x="744.25" y="944" width="11.25" height="26" rx="2.2" fill="#eeeeee"/><rect x="744.85" y="945.82" width="10.05" height="1.56" fill="#d2d2d2"/><rect x="744.85" y="966.62" width="10.05" height="1.56" fill="#d2d2d2"/><rect x="745.05" y="951.8" width="9.65" height="10.4" fill="#2b2b2b"/><rect x="665.25" y="953.75" width="31.5" height="13.5" fill="#635d5a"/><rect x="664.65" y="953.75" width="1.2" height="13.5" fill="#d8d8d8"/><rect x="696.15" y="953.75" width="1.2" height="13.5" fill="#d8d8d8"/><rect x="705" y="953.75" width="30.75" height="13.5" fill="#635d5a"/><rect x="704.4" y="953.75" width="1.2" height="13.5" fill="#d8d8d8"/><rect x="735.15" y="953.75" width="1.2" height="13.5" fill="#d8d8d8"/><rect x="778.1" y="920.73" width="15" height="11.54" fill="#b7998b"/><rect x="768.7" y="919.1" width="10.4" height="14.8" rx="1.8" fill="#eeeeee"/><rect x="792.1" y="919.1" width="10.4" height="14.8" rx="1.8" fill="#eeeeee"/><rect x="774.42" y="919.4" width="2.08" height="14.2" fill="#dadada"/><rect x="794.7" y="919.4" width="2.08" height="14.2" fill="#dadada"/><rect x="811.75" y="922.75" width="26.5" height="11" rx="2.2" fill="#eeeeee"/><rect x="813.61" y="923.35" width="1.59" height="9.8" fill="#d2d2d2"/><rect x="834.8" y="923.35" width="1.59" height="9.8" fill="#d2d2d2"/><rect x="819.7" y="923.55" width="10.6" height="9.4" fill="#2b2b2b"/><rect x="849.25" y="944" width="11.25" height="26" rx="2.2" fill="#eeeeee"/><rect x="849.85" y="945.82" width="10.05" height="1.56" fill="#d2d2d2"/><rect x="849.85" y="966.62" width="10.05" height="1.56" fill="#d2d2d2"/><rect x="850.05" y="951.8" width="9.65" height="10.4" fill="#2b2b2b"/><rect x="770.25" y="953.75" width="31.5" height="13.5" fill="#635d5a"/><rect x="769.65" y="953.75" width="1.2" height="13.5" fill="#d8d8d8"/><rect x="801.15" y="953.75" width="1.2" height="13.5" fill="#d8d8d8"/><rect x="810" y="953.75" width="30.75" height="13.5" fill="#635d5a"/><rect x="809.4" y="953.75" width="1.2" height="13.5" fill="#d8d8d8"/><rect x="840.15" y="953.75" width="1.2" height="13.5" fill="#d8d8d8"/><rect x="881.5" y="920.73" width="15" height="11.54" fill="#b7998b"/><rect x="872.1" y="919.1" width="10.4" height="14.8" rx="1.8" fill="#eeeeee"/><rect x="895.5" y="919.1" width="10.4" height="14.8" rx="1.8" fill="#eeeeee"/><rect x="877.82" y="919.4" width="2.08" height="14.2" fill="#dadada"/><rect x="898.1" y="919.4" width="2.08" height="14.2" fill="#dadada"/><rect x="915" y="922.75" width="26.5" height="11" rx="2.2" fill="#eeeeee"/><rect x="916.86" y="923.35" width="1.59" height="9.8" fill="#d2d2d2"/><rect x="938.05" y="923.35" width="1.59" height="9.8" fill="#d2d2d2"/><rect x="922.95" y="923.55" width="10.6" height="9.4" fill="#2b2b2b"/><rect x="952.5" y="944" width="11.25" height="26" rx="2.2" fill="#eeeeee"/><rect x="953.1" y="945.82" width="10.05" height="1.56" fill="#d2d2d2"/><rect x="953.1" y="966.62" width="10.05" height="1.56" fill="#d2d2d2"/><rect x="953.3" y="951.8" width="9.65" height="10.4" fill="#2b2b2b"/><rect x="873.5" y="953.75" width="31.5" height="13.5" fill="#635d5a"/><rect x="872.9" y="953.75" width="1.2" height="13.5" fill="#d8d8d8"/><rect x="904.4" y="953.75" width="1.2" height="13.5" fill="#d8d8d8"/><rect x="913.25" y="953.75" width="30.75" height="13.5" fill="#635d5a"/><rect x="912.65" y="953.75" width="1.2" height="13.5" fill="#d8d8d8"/><rect x="943.4" y="953.75" width="1.2" height="13.5" fill="#d8d8d8"/><rect x="989.1" y="920.73" width="15" height="11.54" fill="#b7998b"/><rect x="979.7" y="919.1" width="10.4" height="14.8" rx="1.8" fill="#eeeeee"/><rect x="1003.1" y="919.1" width="10.4" height="14.8" rx="1.8" fill="#eeeeee"/><rect x="985.42" y="919.4" width="2.08" height="14.2" fill="#dadada"/><rect x="1005.7" y="919.4" width="2.08" height="14.2" fill="#dadada"/><rect x="1022.5" y="922.75" width="26.5" height="11" rx="2.2" fill="#eeeeee"/><rect x="1024.36" y="923.35" width="1.59" height="9.8" fill="#d2d2d2"/><rect x="1045.56" y="923.35" width="1.59" height="9.8" fill="#d2d2d2"/><rect x="1030.45" y="923.55" width="10.6" height="9.4" fill="#2b2b2b"/><rect x="1060" y="944" width="11.25" height="26" rx="2.2" fill="#eeeeee"/><rect x="1060.6" y="945.82" width="10.05" height="1.56" fill="#d2d2d2"/><rect x="1060.6" y="966.62" width="10.05" height="1.56" fill="#d2d2d2"/><rect x="1060.8" y="951.8" width="9.65" height="10.4" fill="#2b2b2b"/><rect x="981" y="953.75" width="31.5" height="13.5" fill="#635d5a"/><rect x="980.4" y="953.75" width="1.2" height="13.5" fill="#d8d8d8"/><rect x="1011.9" y="953.75" width="1.2" height="13.5" fill="#d8d8d8"/><rect x="1020.75" y="953.75" width="30.75" height="13.5" fill="#635d5a"/><rect x="1020.15" y="953.75" width="1.2" height="13.5" fill="#d8d8d8"/><rect x="1050.9" y="953.75" width="1.2" height="13.5" fill="#d8d8d8"/><rect x="1094.5" y="920.73" width="15" height="11.54" fill="#b7998b"/><rect x="1085.1" y="919.1" width="10.4" height="14.8" rx="1.8" fill="#eeeeee"/><rect x="1108.5" y="919.1" width="10.4" height="14.8" rx="1.8" fill="#eeeeee"/><rect x="1090.82" y="919.4" width="2.08" height="14.2" fill="#dadada"/><rect x="1111.1" y="919.4" width="2.08" height="14.2" fill="#dadada"/><rect x="1128" y="922.75" width="26.5" height="11" rx="2.2" fill="#eeeeee"/><rect x="1129.86" y="923.35" width="1.59" height="9.8" fill="#d2d2d2"/><rect x="1151.06" y="923.35" width="1.59" height="9.8" fill="#d2d2d2"/><rect x="1135.95" y="923.55" width="10.6" height="9.4" fill="#2b2b2b"/><rect x="1165.5" y="944" width="11.25" height="26" rx="2.2" fill="#eeeeee"/><rect x="1166.1" y="945.82" width="10.05" height="1.56" fill="#d2d2d2"/><rect x="1166.1" y="966.62" width="10.05" height="1.56" fill="#d2d2d2"/><rect x="1166.3" y="951.8" width="9.65" height="10.4" fill="#2b2b2b"/><rect x="1086.5" y="953.75" width="31.5" height="13.5" fill="#635d5a"/><rect x="1085.9" y="953.75" width="1.2" height="13.5" fill="#d8d8d8"/><rect x="1117.4" y="953.75" width="1.2" height="13.5" fill="#d8d8d8"/><rect x="1126.25" y="953.75" width="30.75" height="13.5" fill="#635d5a"/><rect x="1125.65" y="953.75" width="1.2" height="13.5" fill="#d8d8d8"/><rect x="1156.4" y="953.75" width="1.2" height="13.5" fill="#d8d8d8"/><rect x="1195" y="920.73" width="15" height="11.54" fill="#b7998b"/><rect x="1185.6" y="919.1" width="10.4" height="14.8" rx="1.8" fill="#eeeeee"/><rect x="1209" y="919.1" width="10.4" height="14.8" rx="1.8" fill="#eeeeee"/><rect x="1191.32" y="919.4" width="2.08" height="14.2" fill="#dadada"/><rect x="1211.6" y="919.4" width="2.08" height="14.2" fill="#dadada"/><rect x="1231" y="922.75" width="26.5" height="11" rx="2.2" fill="#eeeeee"/><rect x="1232.86" y="923.35" width="1.59" height="9.8" fill="#d2d2d2"/><rect x="1254.06" y="923.35" width="1.59" height="9.8" fill="#d2d2d2"/><rect x="1238.95" y="923.55" width="10.6" height="9.4" fill="#2b2b2b"/><rect x="1268.5" y="944" width="11.25" height="26" rx="2.2" fill="#eeeeee"/><rect x="1269.1" y="945.82" width="10.05" height="1.56" fill="#d2d2d2"/><rect x="1269.1" y="966.62" width="10.05" height="1.56" fill="#d2d2d2"/><rect x="1269.3" y="951.8" width="9.65" height="10.4" fill="#2b2b2b"/><rect x="1187" y="953.75" width="31.5" height="13.5" fill="#635d5a"/><rect x="1186.4" y="953.75" width="1.2" height="13.5" fill="#d8d8d8"/><rect x="1217.9" y="953.75" width="1.2" height="13.5" fill="#d8d8d8"/><rect x="1229.25" y="953.75" width="30.75" height="13.5" fill="#635d5a"/><rect x="1228.65" y="953.75" width="1.2" height="13.5" fill="#d8d8d8"/><rect x="1259.4" y="953.75" width="1.2" height="13.5" fill="#d8d8d8"/><rect x="1298.1" y="920.73" width="15" height="11.54" fill="#b7998b"/><rect x="1288.7" y="919.1" width="10.4" height="14.8" rx="1.8" fill="#eeeeee"/><rect x="1312.1" y="919.1" width="10.4" height="14.8" rx="1.8" fill="#eeeeee"/><rect x="1294.42" y="919.4" width="2.08" height="14.2" fill="#dadada"/><rect x="1314.7" y="919.4" width="2.08" height="14.2" fill="#dadada"/><rect x="1335.1" y="922.75" width="26.5" height="11" rx="2.2" fill="#eeeeee"/><rect x="1336.95" y="923.35" width="1.59" height="9.8" fill="#d2d2d2"/><rect x="1358.15" y="923.35" width="1.59" height="9.8" fill="#d2d2d2"/><rect x="1343.05" y="923.55" width="10.6" height="9.4" fill="#2b2b2b"/><rect x="1372.6" y="944" width="11.25" height="26" rx="2.2" fill="#eeeeee"/><rect x="1373.2" y="945.82" width="10.05" height="1.56" fill="#d2d2d2"/><rect x="1373.2" y="966.62" width="10.05" height="1.56" fill="#d2d2d2"/><rect x="1373.4" y="951.8" width="9.65" height="10.4" fill="#2b2b2b"/><rect x="1289.6" y="953.75" width="31.5" height="13.5" fill="#635d5a"/><rect x="1289" y="953.75" width="1.2" height="13.5" fill="#d8d8d8"/><rect x="1320.5" y="953.75" width="1.2" height="13.5" fill="#d8d8d8"/><rect x="1333.35" y="953.75" width="30.75" height="13.5" fill="#635d5a"/><rect x="1332.75" y="953.75" width="1.2" height="13.5" fill="#d8d8d8"/><rect x="1363.5" y="953.75" width="1.2" height="13.5" fill="#d8d8d8"/><rect x="502.5" y="828.75" width="13" height="30" fill="#635d5a"/><rect x="502.5" y="828.15" width="13" height="1.2" fill="#d8d8d8"/><rect x="502.5" y="858.15" width="13" height="1.2" fill="#d8d8d8"/><rect x="502.5" y="868.25" width="13" height="30" fill="#635d5a"/><rect x="502.5" y="867.65" width="13" height="1.2" fill="#d8d8d8"/><rect x="502.5" y="897.65" width="13" height="1.2" fill="#d8d8d8"/><rect x="502.5" y="907.75" width="13" height="30" fill="#635d5a"/><rect x="502.5" y="907.15" width="13" height="1.2" fill="#d8d8d8"/><rect x="502.5" y="937.15" width="13" height="1.2" fill="#d8d8d8"/><rect x="502.5" y="947.25" width="13" height="30" fill="#635d5a"/><rect x="502.5" y="946.65" width="13" height="1.2" fill="#d8d8d8"/><rect x="502.5" y="976.65" width="13" height="1.2" fill="#d8d8d8"/><rect x="1427.2" y="815.9" width="26.6" height="11.1" rx="2.2" fill="#eeeeee"/><rect x="1429.06" y="816.5" width="1.6" height="9.9" fill="#d2d2d2"/><rect x="1450.34" y="816.5" width="1.6" height="9.9" fill="#d2d2d2"/><rect x="1435.18" y="816.7" width="10.64" height="9.5" fill="#2b2b2b"/><rect x="1442.7" y="853.4" width="30.5" height="15.5" rx="3" fill="#eeeeee"/><rect x="1451.5" y="854.2" width="13" height="13.9" fill="#2b2b2b"/><rect x="1399.5" y="886.2" width="29.7" height="13" fill="#635d5a"/><rect x="1398.9" y="886.2" width="1.2" height="13" fill="#d8d8d8"/><rect x="1428.6" y="886.2" width="1.2" height="13" fill="#d8d8d8"/><rect x="1440.9" y="886.2" width="29.7" height="13" fill="#635d5a"/><rect x="1440.3" y="886.2" width="1.2" height="13" fill="#d8d8d8"/><rect x="1470" y="886.2" width="1.2" height="13" fill="#d8d8d8"/><rect x="1402.8" y="920.1" width="26.4" height="10.9" rx="2.2" fill="#eeeeee"/><rect x="1404.65" y="920.7" width="1.58" height="9.7" fill="#d2d2d2"/><rect x="1425.77" y="920.7" width="1.58" height="9.7" fill="#d2d2d2"/><rect x="1410.72" y="920.9" width="10.56" height="9.3" fill="#2b2b2b"/><rect x="1440.9" y="931.5" width="29.7" height="13.7" fill="#635d5a"/><rect x="1440.3" y="931.5" width="1.2" height="13.7" fill="#d8d8d8"/><rect x="1470" y="931.5" width="1.2" height="13.7" fill="#d8d8d8"/></g>
<defs>
<linearGradient id="gg" x1="0" y1="0" x2="1" y2="0"><stop offset="0" stop-color="#00c400"/><stop offset="0.55" stop-color="#1cff1c"/><stop offset="1" stop-color="#00cc00"/></linearGradient>
<linearGradient id="rg" x1="0" y1="0" x2="0" y2="1"><stop offset="0" stop-color="#c00000"/><stop offset="0.5" stop-color="#ff1c1c"/><stop offset="1" stop-color="#c80000"/></linearGradient>
</defs><g>
<circle cx="71.6" cy="1011.2" r="10.6" fill="#0000e6"/>
<polygon points="37.9,1003.8 64.7,1003.8 71.2,1010.2 71.2,1016.7 37.9,1016.7" fill="url(#rg)"/>
<polygon points="65.2,977 78.1,977 78.1,1010.2 71.2,1010.2 65.2,1003.8" fill="url(#gg)"/>
<ellipse cx="71.5" cy="977.3" rx="13.5" ry="2.6" fill="#00b400"/>
<polygon points="71.3,951.6 58,977.4 85,977.4" fill="#0ae60a"/>
<polygon points="12.75,1010.4 38.8,997.3 38.8,1023.6" fill="#f00000"/>
<ellipse cx="38.9" cy="1010.4" rx="2.2" ry="13.2" fill="#6e0000"/>
</g>
</svg></body></html>
